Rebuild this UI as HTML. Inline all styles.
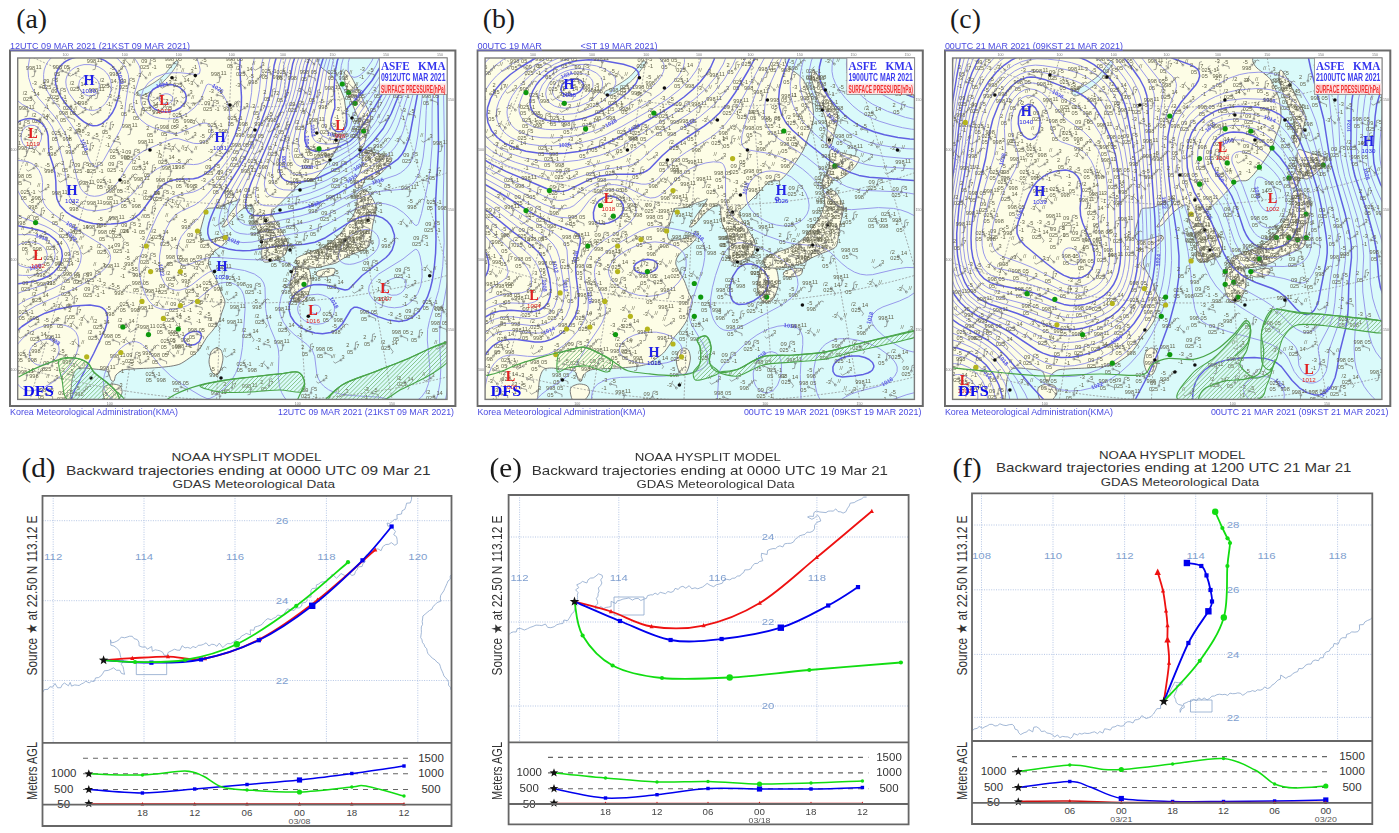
<!DOCTYPE html>
<html><head><meta charset="utf-8"><style>
html,body{margin:0;padding:0;background:#fff;}
body{width:1399px;height:833px;overflow:hidden;}
svg{display:block;font-family:"Liberation Sans",sans-serif;}
.s{font-family:"Liberation Sans",sans-serif;}
.r{font-family:"Liberation Serif",serif;}
</style></head><body>
<svg width="1399" height="833" viewBox="0 0 1399 833">
<rect width="1399" height="833" fill="#fff"/>
<defs>
<filter id="soft" x="-2%" y="-2%" width="104%" height="104%"><feGaussianBlur stdDeviation="0.7"/></filter>
<clipPath id="mapclip"><rect x="17.7" y="58.0" width="429.3" height="341.4"/></clipPath>
<g id="geo">
<rect x="17.7" y="58.0" width="429.3" height="341.4" fill="#fdfde6"/>
<path d="M70.0,401.0C70.1,399.5 70.7,392.8 71.0,390.0C71.3,387.2 71.6,382.3 72.0,380.0C72.4,377.7 73.3,374.5 74.0,373.0C74.7,371.5 75.7,369.7 77.0,369.0C78.3,368.3 81.7,368.0 84.0,368.0C86.3,368.0 91.5,368.7 94.0,369.0C96.5,369.3 101.1,369.6 103.0,370.0C104.9,370.4 106.9,370.7 108.0,372.0C109.1,373.3 110.2,378.8 111.0,380.0C111.8,381.2 113.3,381.7 114.0,381.0C114.7,380.3 114.8,376.5 116.0,375.0C117.2,373.5 120.7,370.8 123.0,370.0C125.3,369.2 130.6,369.2 133.0,369.0C135.4,368.8 138.5,368.6 141.0,368.5C143.5,368.4 148.9,368.2 152.0,368.0C155.1,367.8 161.3,367.3 164.0,367.0C166.7,366.7 169.9,366.4 172.0,366.0C174.1,365.6 177.9,364.9 180.0,364.0C182.1,363.1 185.9,360.5 188.0,359.0C190.1,357.5 194.1,354.9 196.0,353.0C197.9,351.1 200.5,347.1 202.0,345.0C203.5,342.9 205.5,339.0 207.0,337.0C208.5,335.0 211.4,332.1 213.0,330.0C214.6,327.9 217.8,323.4 219.0,321.0C220.2,318.6 221.2,314.5 222.0,312.0C222.8,309.5 225.1,304.7 225.0,302.0C224.9,299.3 222.1,294.8 221.0,292.0C219.9,289.2 218.3,283.9 217.0,281.0C215.7,278.1 212.1,272.3 211.0,270.0C209.9,267.7 208.7,265.5 208.4,264.0C208.1,262.5 208.6,260.2 209.0,259.0C209.4,257.8 210.4,256.2 211.3,255.0C212.2,253.8 214.7,251.2 216.0,250.0C217.3,248.8 219.7,247.8 221.4,246.3C223.1,244.8 228.0,239.9 228.6,238.5C229.2,237.1 227.4,235.6 226.0,235.5C224.6,235.4 220.1,237.4 218.0,238.0C215.9,238.6 212.1,239.7 210.0,240.0C207.9,240.3 203.3,240.7 202.0,240.0C200.7,239.3 200.1,236.6 200.0,235.0C199.9,233.4 200.6,229.8 201.0,228.0C201.4,226.2 202.2,223.7 202.7,221.8C203.2,219.9 204.4,215.7 205.0,214.0C205.6,212.3 205.9,209.6 207.0,208.8C208.1,208.0 211.5,208.2 213.0,208.0C214.5,207.8 217.0,207.8 218.5,207.4C220.0,207.0 222.7,205.6 224.0,205.0C225.3,204.4 227.1,203.5 228.6,203.0C230.1,202.5 233.5,201.5 235.0,201.0C236.5,200.5 239.9,198.3 240.0,199.0C240.1,199.7 237.3,204.0 236.0,206.0C234.7,208.0 231.5,211.9 230.0,214.0C228.5,216.1 226.1,220.3 225.0,222.0C223.9,223.7 221.7,226.6 222.0,227.0C222.3,227.4 225.5,226.2 227.0,225.0C228.5,223.8 231.3,219.9 233.0,218.0C234.7,216.1 238.1,212.6 240.0,211.0C241.9,209.4 245.4,206.8 247.0,206.0C248.6,205.2 251.2,204.6 252.0,205.0C252.8,205.4 252.8,206.6 253.1,209.0C253.4,211.4 253.6,219.8 254.6,223.2C255.6,226.6 259.3,231.7 260.3,234.8C261.3,237.9 261.6,243.2 261.8,246.3C262.0,249.4 261.4,255.7 261.8,257.8C262.2,259.9 263.1,261.7 264.6,262.1C266.1,262.5 270.6,261.7 273.3,260.7C276.0,259.7 282.9,257.2 284.8,254.9C286.7,252.6 288.1,246.5 287.7,243.4C287.3,240.3 283.9,235.4 282.0,231.9C280.1,228.4 274.6,220.2 273.3,217.5C272.0,214.8 271.1,213.4 271.9,211.7C272.7,210.0 276.6,207.0 279.1,204.5C281.6,202.0 287.5,196.1 290.6,193.0C293.7,189.9 299.1,183.1 302.1,181.4C305.1,179.7 310.0,181.9 313.0,180.0C316.0,178.1 321.4,171.3 324.5,167.3C327.6,163.3 333.8,154.2 336.0,150.0C338.2,145.8 339.9,138.9 341.0,136.0C342.1,133.1 343.3,130.1 344.0,128.0C344.7,125.9 345.7,122.1 346.0,120.0C346.3,117.9 346.1,114.1 346.0,112.0C345.9,109.9 345.3,105.9 345.0,104.0C344.7,102.1 344.7,100.1 344.0,98.0C343.3,95.9 341.1,90.4 340.0,88.0C338.9,85.6 337.3,81.9 336.0,80.0C334.7,78.1 331.9,75.6 330.0,74.0C328.1,72.4 323.6,69.6 322.0,68.0C320.4,66.4 318.5,63.6 318.0,62.0C317.5,60.4 318.0,56.8 318.0,56.0L449,56L449,401Z" fill="#dafafa"/>
<path d="M70.0,401.0C70.1,399.5 70.7,392.8 71.0,390.0C71.3,387.2 71.6,382.3 72.0,380.0C72.4,377.7 73.3,374.5 74.0,373.0C74.7,371.5 75.7,369.7 77.0,369.0C78.3,368.3 81.7,368.0 84.0,368.0C86.3,368.0 91.5,368.7 94.0,369.0C96.5,369.3 101.1,369.6 103.0,370.0C104.9,370.4 106.9,370.7 108.0,372.0C109.1,373.3 110.2,378.8 111.0,380.0C111.8,381.2 113.3,381.7 114.0,381.0C114.7,380.3 114.8,376.5 116.0,375.0C117.2,373.5 120.7,370.8 123.0,370.0C125.3,369.2 130.6,369.2 133.0,369.0C135.4,368.8 138.5,368.6 141.0,368.5C143.5,368.4 148.9,368.2 152.0,368.0C155.1,367.8 161.3,367.3 164.0,367.0C166.7,366.7 169.9,366.4 172.0,366.0C174.1,365.6 177.9,364.9 180.0,364.0C182.1,363.1 185.9,360.5 188.0,359.0C190.1,357.5 194.1,354.9 196.0,353.0C197.9,351.1 200.5,347.1 202.0,345.0C203.5,342.9 205.5,339.0 207.0,337.0C208.5,335.0 211.4,332.1 213.0,330.0C214.6,327.9 217.8,323.4 219.0,321.0C220.2,318.6 221.2,314.5 222.0,312.0C222.8,309.5 225.1,304.7 225.0,302.0C224.9,299.3 222.1,294.8 221.0,292.0C219.9,289.2 218.3,283.9 217.0,281.0C215.7,278.1 212.1,272.3 211.0,270.0C209.9,267.7 208.7,265.5 208.4,264.0C208.1,262.5 208.6,260.2 209.0,259.0C209.4,257.8 210.4,256.2 211.3,255.0C212.2,253.8 214.7,251.2 216.0,250.0C217.3,248.8 219.7,247.8 221.4,246.3C223.1,244.8 228.0,239.9 228.6,238.5C229.2,237.1 227.4,235.6 226.0,235.5C224.6,235.4 220.1,237.4 218.0,238.0C215.9,238.6 212.1,239.7 210.0,240.0C207.9,240.3 203.3,240.7 202.0,240.0C200.7,239.3 200.1,236.6 200.0,235.0C199.9,233.4 200.6,229.8 201.0,228.0C201.4,226.2 202.2,223.7 202.7,221.8C203.2,219.9 204.4,215.7 205.0,214.0C205.6,212.3 205.9,209.6 207.0,208.8C208.1,208.0 211.5,208.2 213.0,208.0C214.5,207.8 217.0,207.8 218.5,207.4C220.0,207.0 222.7,205.6 224.0,205.0C225.3,204.4 227.1,203.5 228.6,203.0C230.1,202.5 233.5,201.5 235.0,201.0C236.5,200.5 239.9,198.3 240.0,199.0C240.1,199.7 237.3,204.0 236.0,206.0C234.7,208.0 231.5,211.9 230.0,214.0C228.5,216.1 226.1,220.3 225.0,222.0C223.9,223.7 221.7,226.6 222.0,227.0C222.3,227.4 225.5,226.2 227.0,225.0C228.5,223.8 231.3,219.9 233.0,218.0C234.7,216.1 238.1,212.6 240.0,211.0C241.9,209.4 245.4,206.8 247.0,206.0C248.6,205.2 251.2,204.6 252.0,205.0C252.8,205.4 252.8,206.6 253.1,209.0C253.4,211.4 253.6,219.8 254.6,223.2C255.6,226.6 259.3,231.7 260.3,234.8C261.3,237.9 261.6,243.2 261.8,246.3C262.0,249.4 261.4,255.7 261.8,257.8C262.2,259.9 263.1,261.7 264.6,262.1C266.1,262.5 270.6,261.7 273.3,260.7C276.0,259.7 282.9,257.2 284.8,254.9C286.7,252.6 288.1,246.5 287.7,243.4C287.3,240.3 283.9,235.4 282.0,231.9C280.1,228.4 274.6,220.2 273.3,217.5C272.0,214.8 271.1,213.4 271.9,211.7C272.7,210.0 276.6,207.0 279.1,204.5C281.6,202.0 287.5,196.1 290.6,193.0C293.7,189.9 299.1,183.1 302.1,181.4C305.1,179.7 310.0,181.9 313.0,180.0C316.0,178.1 321.4,171.3 324.5,167.3C327.6,163.3 333.8,154.2 336.0,150.0C338.2,145.8 339.9,138.9 341.0,136.0C342.1,133.1 343.3,130.1 344.0,128.0C344.7,125.9 345.7,122.1 346.0,120.0C346.3,117.9 346.1,114.1 346.0,112.0C345.9,109.9 345.3,105.9 345.0,104.0C344.7,102.1 344.7,100.1 344.0,98.0C343.3,95.9 341.1,90.4 340.0,88.0C338.9,85.6 337.3,81.9 336.0,80.0C334.7,78.1 331.9,75.6 330.0,74.0C328.1,72.4 323.6,69.6 322.0,68.0C320.4,66.4 318.5,63.6 318.0,62.0C317.5,60.4 318.0,56.8 318.0,56.0" fill="none" stroke="#6d6d6d" stroke-width="0.9"/>
<path d="M346.0,70.0C347.1,70.3 350.4,75.3 352.0,78.0C353.6,80.7 356.4,86.8 358.0,90.0C359.6,93.2 362.4,98.8 364.0,102.0C365.6,105.2 369.2,111.3 370.0,114.0C370.8,116.7 370.4,119.5 370.0,122.0C369.6,124.5 367.8,129.9 367.0,133.0C366.2,136.1 364.8,143.0 364.0,145.0C363.2,147.0 361.7,148.7 361.0,148.0C360.3,147.3 359.1,142.7 359.0,140.0C358.9,137.3 360.1,130.9 360.0,128.0C359.9,125.1 358.8,120.7 358.0,118.0C357.2,115.3 355.1,110.7 354.0,108.0C352.9,105.3 351.1,100.9 350.0,98.0C348.9,95.1 346.8,88.9 346.0,86.0C345.2,83.1 344.0,78.1 344.0,76.0C344.0,73.9 344.9,69.7 346.0,70.0Z" fill="#fdfde6" stroke="#6d6d6d" stroke-width="0.9"/>
<path d="M363.0,150.0C364.3,148.3 369.5,151.3 372.0,152.0C374.5,152.7 379.4,154.2 382.0,155.0C384.6,155.8 390.9,156.5 391.7,158.0C392.5,159.5 389.6,163.9 388.0,166.0C386.4,168.1 382.1,172.3 380.0,174.0C377.9,175.7 373.9,178.5 372.0,179.0C370.1,179.5 367.3,177.1 366.0,178.0C364.7,178.9 363.3,184.7 362.0,186.0C360.7,187.3 356.9,188.8 356.0,188.0C355.1,187.2 354.6,181.9 355.0,180.0C355.4,178.1 358.1,176.0 359.0,174.0C359.9,172.0 361.5,168.2 362.0,165.0C362.5,161.8 361.7,151.7 363.0,150.0Z" fill="#fdfde6" stroke="#6d6d6d" stroke-width="0.9"/>
<path d="M357.0,194.0C357.8,192.2 361.4,190.1 363.0,190.0C364.6,189.9 367.3,190.7 369.0,193.0C370.7,195.3 375.5,203.0 376.0,207.0C376.5,211.0 373.7,219.1 373.0,223.0C372.3,226.9 371.5,232.9 371.0,236.0C370.5,239.1 370.1,244.1 369.0,246.0C367.9,247.9 365.1,248.9 363.0,250.0C360.9,251.1 355.5,252.9 353.0,254.0C350.5,255.1 346.3,256.8 344.0,258.0C341.7,259.2 338.1,262.1 336.0,263.0C333.9,263.9 330.1,264.5 328.0,265.0C325.9,265.5 322.3,266.6 320.0,267.0C317.7,267.4 313.5,267.9 311.0,268.0C308.5,268.1 303.0,268.8 301.0,268.0C299.0,267.2 296.5,263.4 296.0,262.0C295.5,260.6 295.6,258.9 297.6,257.5C299.6,256.1 307.2,253.3 311.0,251.8C314.8,250.3 322.4,248.1 326.0,246.0C329.6,243.9 335.4,239.0 338.0,236.4C340.6,233.8 343.6,229.6 345.6,226.8C347.6,224.0 351.8,218.4 353.3,215.3C354.8,212.2 356.6,206.6 357.1,203.8C357.6,201.0 356.2,195.8 357.0,194.0Z" fill="#fdfde6" stroke="#6d6d6d" stroke-width="0.9"/>
<path d="M318.0,271.0C319.6,270.1 325.7,268.8 328.0,268.5C330.3,268.2 334.3,268.1 335.0,269.0C335.7,269.9 334.7,273.9 333.0,275.0C331.3,276.1 324.3,277.0 322.0,277.0C319.7,277.0 316.5,275.8 316.0,275.0C315.5,274.2 316.4,271.9 318.0,271.0Z" fill="#fdfde6" stroke="#6d6d6d" stroke-width="0.9"/>
<path d="M293.7,267.2C294.9,266.3 299.0,267.7 301.0,268.0C303.0,268.3 307.7,267.3 309.0,269.5C310.3,271.7 311.5,280.4 311.0,284.4C310.5,288.4 307.3,297.5 305.2,299.8C303.1,302.1 297.6,303.2 295.6,301.7C293.6,300.2 290.4,291.9 289.9,288.3C289.4,284.7 291.3,277.6 291.8,274.8C292.3,272.0 292.5,268.1 293.7,267.2Z" fill="#fdfde6" stroke="#6d6d6d" stroke-width="0.9"/>
<path d="M216.0,348.0C217.3,347.7 220.1,348.7 221.0,350.0C221.9,351.3 223.0,355.6 223.0,358.0C223.0,360.4 221.8,365.7 221.0,368.0C220.2,370.3 218.2,374.5 217.0,375.0C215.8,375.5 213.1,373.7 212.0,372.0C210.9,370.3 209.1,364.7 209.0,362.0C208.9,359.3 210.1,353.9 211.0,352.0C211.9,350.1 214.7,348.3 216.0,348.0Z" fill="#fdfde6" stroke="#6d6d6d" stroke-width="0.9"/>
<path d="M104.0,387.0C105.2,385.8 109.9,384.1 112.0,384.0C114.1,383.9 118.7,384.8 120.0,386.0C121.3,387.2 122.5,391.0 122.0,393.0C121.5,395.0 118.1,399.9 116.0,401.0C113.9,402.1 107.7,402.1 106.0,401.0C104.3,399.9 103.3,394.9 103.0,393.0C102.7,391.1 102.8,388.2 104.0,387.0Z" fill="#fdfde6" stroke="#6d6d6d" stroke-width="0.9"/>
<path d="M137.0,92.0C137.7,90.9 142.6,89.3 145.0,88.0C147.4,86.7 152.6,83.6 155.0,82.0C157.4,80.4 161.0,77.9 163.0,76.0C165.0,74.1 168.3,70.0 170.0,68.0C171.7,66.0 174.9,61.7 176.0,61.0C177.1,60.3 178.5,61.5 178.0,63.0C177.5,64.5 173.7,69.7 172.0,72.0C170.3,74.3 167.0,78.0 165.0,80.0C163.0,82.0 159.3,85.3 157.0,87.0C154.7,88.7 150.3,91.8 148.0,93.0C145.7,94.2 141.5,96.1 140.0,96.0C138.5,95.9 136.3,93.1 137.0,92.0Z" fill="#dafafa" stroke="#6d6d6d" stroke-width="0.8"/>
<path d="M65.5,58.0L-72.9,399.4M124.7,58.0L30.2,399.4M178.8,58.0L124.5,399.4M231.7,58.0L216.6,399.4M283.0,58.0L306.0,399.4M332.4,58.0L392.1,399.4M386.1,58.0L485.6,399.4M444.0,58.0L586.5,399.4M17.7,49.9L28.4,55.3L39.2,60.4L49.9,65.2L60.6,69.7L71.4,73.9L82.1,77.8L92.8,81.5L103.6,84.9L114.3,88.0L125.0,90.9L135.8,93.5L146.5,95.9L157.2,98.1L168.0,100.0L178.7,101.7L189.4,103.1L200.2,104.4L210.9,105.3L221.6,106.1L232.3,106.6L243.1,106.9L253.8,107.0L264.5,106.8L275.3,106.5L286.0,105.9L296.7,105.0L307.5,104.0L318.2,102.7L328.9,101.2L339.7,99.4L350.4,97.4L361.1,95.2L371.9,92.7L382.6,90.0L393.3,87.0L404.1,83.8L414.8,80.3L425.5,76.5L436.3,72.5L447.0,68.2M17.7,158.0L28.4,162.3L39.2,166.5L49.9,170.4L60.6,174.0L71.4,177.5L82.1,180.7L92.8,183.8L103.6,186.6L114.3,189.2L125.0,191.6L135.8,193.8L146.5,195.8L157.2,197.6L168.0,199.2L178.7,200.6L189.4,201.8L200.2,202.8L210.9,203.6L221.6,204.2L232.3,204.7L243.1,204.9L253.8,205.0L264.5,204.9L275.3,204.6L286.0,204.0L296.7,203.3L307.5,202.5L318.2,201.4L328.9,200.1L339.7,198.6L350.4,197.0L361.1,195.1L371.9,193.0L382.6,190.8L393.3,188.3L404.1,185.6L414.8,182.8L425.5,179.7L436.3,176.4L447.0,172.8M17.7,262.9L28.4,266.6L39.2,270.1L49.9,273.4L60.6,276.5L71.4,279.5L82.1,282.2L92.8,284.8L103.6,287.2L114.3,289.4L125.0,291.5L135.8,293.4L146.5,295.1L157.2,296.6L168.0,298.0L178.7,299.2L189.4,300.2L200.2,301.1L210.9,301.8L221.6,302.3L232.3,302.7L243.1,302.9L253.8,303.0L264.5,302.9L275.3,302.6L286.0,302.2L296.7,301.6L307.5,300.8L318.2,299.9L328.9,298.8L339.7,297.5L350.4,296.1L361.1,294.5L371.9,292.7L382.6,290.8L393.3,288.7L404.1,286.4L414.8,283.9L425.5,281.3L436.3,278.5L447.0,275.5M17.7,366.1L28.4,369.3L39.2,372.3L49.9,375.2L60.6,377.9L71.4,380.4L82.1,382.8L92.8,385.1L103.6,387.2L114.3,389.1L125.0,390.9L135.8,392.5L146.5,394.0L157.2,395.4L168.0,396.6L178.7,397.6L189.4,398.6L200.2,399.3L210.9,399.9L221.6,400.4L232.3,400.8L243.1,401.0L253.8,401.0L264.5,400.9L275.3,400.7L286.0,400.3L296.7,399.8L307.5,399.1L318.2,398.3L328.9,397.3L339.7,396.2L350.4,394.9L361.1,393.5L371.9,392.0L382.6,390.3L393.3,388.5L404.1,386.5L414.8,384.3L425.5,382.0L436.3,379.6L447.0,377.0" stroke="#8a8a8a" stroke-width="0.7" stroke-dasharray="2,1.5" fill="none"/>
</g>
<g id="st0" class="s" font-size="5.6" fill="#62624c"><text x="-8.1" y="-1.7">-3</text><text x="0.6" y="-1.4">-5</text><text x="-8.8" y="5.8">-1</text><path d="M0 0l6.1 1.5l0.3 2.5" stroke="#666" stroke-width="0.6" fill="none"/><circle r="1" fill="none" stroke="#555" stroke-width="0.5"/></g>
<g id="st1" class="s" font-size="5.6" fill="#62624c"><text x="-9.5" y="-1.4">-3</text><text x="2.2" y="-2.3">//</text><path d="M0 0l-4.6 -4.9l1.1 -2.3" stroke="#666" stroke-width="0.6" fill="none"/><circle r="1" fill="none" stroke="#555" stroke-width="0.5"/></g>
<g id="st2" class="s" font-size="5.6" fill="#62624c"><text x="-8.8" y="-1.7">//</text><text x="0.6" y="-0.8">3</text><path d="M0 0l-5.8 3.2l-1.9 -1.6" stroke="#666" stroke-width="0.6" fill="none"/><circle r="1" fill="none" stroke="#555" stroke-width="0.5"/></g>
<g id="st3" class="s" font-size="5.6" fill="#62624c"><text x="-9.4" y="-0.9">025</text><text x="0.7" y="-1.4">-1</text><text x="-9.3" y="5.1">05</text><text x="1.6" y="5.2">998</text><path d="M0 0l-2.7 -5.7l1.7 -1.8" stroke="#666" stroke-width="0.6" fill="none"/><circle r="1" fill="none" stroke="#555" stroke-width="0.5"/></g>
<g id="st4" class="s" font-size="5.6" fill="#62624c"><text x="-9.1" y="-0.7">-5</text><text x="1.1" y="-0.9">//</text><text x="-9.8" y="4.6">998</text><path d="M0 0l5.1 -5.1l2.3 1.0" stroke="#666" stroke-width="0.6" fill="none"/><circle r="1" fill="none" stroke="#555" stroke-width="0.5"/></g>
<g id="st5" class="s" font-size="5.6" fill="#62624c"><text x="-8.8" y="-2.4">2</text><text x="1.3" y="-1.0">7</text><text x="-8.1" y="4.8">05</text><path d="M0 0l0.6 -6.7l2.4 -0.7" stroke="#666" stroke-width="0.6" fill="none"/><circle r="1" fill="none" stroke="#555" stroke-width="0.5"/></g>
<g id="st6" class="s" font-size="5.6" fill="#62624c"><text x="-9.3" y="-1.8">998</text><text x="1.7" y="-1.6">05</text><text x="-8.1" y="4.9">05</text><path d="M0 0l6.6 2.6l-0.0 2.5" stroke="#666" stroke-width="0.6" fill="none"/><circle r="1" fill="none" stroke="#555" stroke-width="0.5"/></g>
<g id="st7" class="s" font-size="5.6" fill="#62624c"><text x="-8.8" y="-1.1">09</text><text x="1.1" y="-1.7">-5</text><text x="-10.0" y="4.9">025</text><text x="1.7" y="5.0">-1</text><path d="M0 0l0.6 -5.4l2.4 -0.6" stroke="#666" stroke-width="0.6" fill="none"/><circle r="1" fill="none" stroke="#555" stroke-width="0.5"/></g>
<g id="st8" class="s" font-size="5.6" fill="#62624c"><text x="-9.2" y="-0.7">998</text><text x="0.7" y="-1.6">11</text><path d="M0 0l-0.9 5.3l-2.5 0.5" stroke="#666" stroke-width="0.6" fill="none"/><circle r="1" fill="none" stroke="#555" stroke-width="0.5"/></g>
<g id="st9" class="s" font-size="5.6" fill="#62624c"><text x="-8.3" y="-1.9">/2</text><text x="2.5" y="-1.1">14</text><text x="-8.1" y="4.3">025</text><path d="M0 0l4.1 5.7l-1.4 2.1" stroke="#666" stroke-width="0.6" fill="none"/><circle r="1" fill="none" stroke="#555" stroke-width="0.5"/></g>
</defs>
<g transform="translate(0.0,0)">
<g clip-path="url(#mapclip)"><g filter="url(#soft)">
<use href="#geo"/>
<path d="M351.1 52l-2.8 10.5 -0.2 7.5 1.4 4.5 1.2 1.5 3.3 1.4 3-0.6 3-1.5 6-5.5 5.9-8.8 3.8-9M345 52l-3.7 13.5 -0.8 7.5 0.1 6 1 6 1.9 4.3 1.8 1.7 2.7 0.9 4.5-1 4.5-2.7 6-5.1 4.5-5 4.5-6 4-6.6 5.7-13.5M336.1 52l-3.1 9.5 -2.2 10 -3.6 28.5 -2.7 16.5 -0.4 6 0.8 4.5 2.5 4.5 4.1 3.1 6 1.5 3-0.3 3-1.1 3-2.1 2.2-2.6 2.1-4.5 2.4-10.5 1.9-4.5 15.4-20.3 7.6-11.2 7.2-13.5 5.2-13.5M332.3 52l-3 9 -2.3 9.2 -4.2 25.3 -4.5 21 -0.7 9 1.4 6 3.7 4.5 5.8 2.8 7.5 1 4.5-0.6 4.5-1.7 4-3 2.5-3 2.4-4.5 5.7-13.5 15.4-22.3 9-15 5.9-12.2 4.4-12M328.7 52l-5 16.5 -5.2 27 -6.2 24 -1.2 9 0.8 7.5 2.6 4.5 2 1.5 3 1.3 7.5 0.9 9-0.6 7.5-2.1 6-3.6 4.5-4.8 9-16.3 13.5-20.5 9-15.4 6.8-13.9 5.5-15M321.8 52l-4.4 13.5 -6.2 28.5 -9.8 31.5 -2.9 13.5 -0.2 7.5 1.7 6.7 3.2 3.8 2.8 1.5 3 0.7 6-0.1 6-1.1 16.5-6.3 12-6.2 4.6-3.5 4.5-4.5 15.2-21 11.7-20.1 11.3-23.4 7.7-21M318.4 52l-4.8 15 -6.7 30 -11.1 33 -3.4 15 -0.4 9 1.4 6 1.8 3 1.8 1.7 3 1.6 3 0.7 6 0.1 6-1 7.5-2.3 7.5-3.1 10.5-5.4 9-5.4 6.5-4.9 6.3-6 6.3-7.5 6.6-9 10.3-17.5 13.5-28.6 4.8-12.4 3.9-12M315 52l-4.8 15 -6.8 30 -12.6 36 -3 10.5 -1.7 9 -0.4 9 1.3 6 1.9 3 2.1 2 3 1.5 3 0.7 7.5 0.1 7.5-1.3 9-3 9-4 10.5-5.7 12-7.9 8-6.4 7.7-7.5 10.7-13.5 9.4-16.5 13.9-31.5 8.8-25.5M308 52l-4.4 13.5 -4.6 22.5 -2.8 10.5 -16.8 45 -4.2 13.5 -2.4 10.5 -0.7 9 1.2 6 1.2 2.2 2.2 2.3 2.5 1.5 4.3 1.3 9 0.4 10.5-1.5 12-3.6 12-5.1 13.5-7.4 13.5-8.9 14.8-11.2 9.8-9 8.5-10.5 3.5-6 3.9-8.2 15-40.9 8-25.9M304.4 52l-4.5 13.5 -4.4 22.5 -3 11.3 -19.2 50.2 -5 15 -2.8 10.5 -1.2 9 1.2 6.8 3 3.9 3 1.7 3 0.9 10.5 0.7 12-1.5 13.5-3.6 13.5-5.3 13.5-7 15-9.3 20.3-14.3 10.7-9 4.1-4.5 4.4-6 3.4-6 3.2-7.5 16.3-51 6-21M300.6 52l-4.4 13.5 -4.6 24 -3.3 12 -24.8 63 -6.9 21 -1.2 7.5 0.7 6 1.5 3 1.6 1.5 4.8 2.1 10.5 0.6 16.5-2 15-3.4 13.5-4.8 13.5-6.4 15-8.6 32.8-21 9.5-7.5 4.1-4.5 3.1-4.5 3.2-6 2.8-7.3 20.8-78.2M292.4 52l-4.2 13.5 -4.7 27 -4.5 14.6 -18 43.6 -19.5 40.8 -4.3 12 -1.1 7.5 0.9 6.1 3 4.7 3 2 3 1.1 6 0.6 9-1.1 39-8.3 13.5-3.8 16.5-7 37.5-19.9 9-3.7 19.5-6.5 4.5-2.3 4.5-3.5 3.1-3.4 2.9-4.6 2.5-5.9 2.2-7.5 2.1-12 4.5-40.5 9.2-43.5M287.9 52l-4 13.5 -4.8 28.5 -5.2 16.5 -16.3 39 -7.1 14.5 -15.6 29 -3.4 7.5 -2.6 7.5 -1.4 9 0.4 4.5 0.9 3 1.6 3 3 3 2.4 1.5 4.2 1.5 7.5 0.8 7.5-0.7 54-11.9 7.5-2.4 9-3.7 28.5-15 13.5-5.9 7.5-2.3 6-1.2 22.5-2 4.5-1.7 4.5-3.4 3-3.8 3.4-6.8 2.6-8.2 1.7-8.3 1.9-16.5 1.1-30 1.2-15 2.5-16.5 5.4-27M12 259.2l4.4 4.3 4.6 2.5 6 1.7 6 0.1 6-1.6 4.3-2.7 3.2-4.5 0.8-4.5 -1.3-4.5 -2.5-3.3 -4.5-3 -6-1.6 -6 0.1 -6 1.5 -6.1 3.3 -2.9 3M396.6 295l3.7-1.5 2-1.5 2.4-3 1.1-3 0.1-3 -0.9-2.6 -1.8-1.9 -2.7-1.1 -4.5 0 -6 2.2 -4.3 3.4 -1.7 3 -0.2 3 0.5 1.5 2.7 3 4.5 1.7 5.1-0.2M318.3 313l1.6-1.5 0.6-1.5 0-1.5 -1-1.8 -1.7-1.2 -2.8-0.5 -2.4 0.5 -2 1.5 -0.7 3 0.6 1.5 1.5 1.3 3 0.9 3.3-0.7M283.1 52l-3.9 13.5 -2.9 21 -1.8 9 -3 10.1 -4.5 12.2 -7.5 18.5 -6.7 14.7 -6.8 13.1 -18.5 31.9 -4.3 9 -3.1 9 -1.1 6 -0.2 4.5 0.8 4.5 1.2 3 2.1 3 3.5 3 7.6 3.3 9 1.3 9-0.5 27-5.8 31.5-5.6 7.5-2.4 7.5-3.2 22.5-12.5 9-4.4 9-3.2 9-1.7 6 0 4.5 0.6 6 1.7 4.5 2 7.3 4.9 4.7 4.5 6 7.1 1.5 1.2 1.5 0.1 1.5-1.9 3-9.9 6-27.8 2.7-16.8 1.8-22.5 0.1-37.5 0.6-13.5 2.1-18 4.4-25.5M12 274.4l10.5 1 7.5 0 6-0.9 6-2 5.2-3 4.6-4.5 2.4-4.5 1-6 -1.4-6 -2.8-4.3 -4.5-4.1 -4.5-2.5 -6-2 -6-1 -18 0.1M401.2 307l6.8-2.8 5.6-4.7 4.1-6 3-7.5 1.4-9 -0.2-10.5 -1.9-10.5 -1.5-4.3 -1.5-2 -1.5-0.3 -1.5 0.8 -11 8.8 -24.3 15 -6.3 6 -3.3 6 -0.5 4.5 1.3 4.5 3.2 4.5 3.7 3 5.7 3 6 1.7 6 0.6 6.7-0.8M322.9 323.5l5.8-3 2.9-3 1.8-3 0.9-3 0.2-4.5 -0.9-3 -1.7-3 -3.1-3 -2.4-1.5 -3.9-1.5 -4.5-0.8 -7.5 0.6 -4.4 1.7 -3.1 2 -3.5 4 -1.7 4.5 -0.1 3 0.7 3 2.6 4.5 3.5 3.1 6 2.8 6 0.9 6.4-0.8M271.7 52l-3.1 12 -2.7 24 -2.3 12 -6.1 19.5 -8.3 21 -5.9 12 -6.3 10.8 -30 43.7 -9 11.7 -12 11.9 -4.6 5.9 -2.8 6 -1.4 6 -0.3 6 1.3 6 1.8 2.8 1.5 1.1 1.5 0.6 3 0.2 3-0.7 15-5.9 7.5-1.1 7.5 0 27 2 30 0.8 9.2 1.7 6.9 3 3 3 0.5 1.5 -0.1 3 -2.3 4.5 -8.2 11.6 -3.8 7.9 -1.8 9 0 4.5 0.9 4.5 3 7.5 4.7 6.5 6 5.8 13.1 10.2 5.3 6 2.3 6 2.2 18 1.6 4.5 2.8 4.5 2.8 3 4.4 3.2 6 2.8 6 1.6 10 1.4 27.5 1.6 24 4.4 6 0.5 7.5-1.2 3-1.5 3-2.3 4.3-6 2.7-7.5 1.1-7.5 0.3-7.5 -2.6-28.5 0.3-10.5 1.9-9 9.1-30 2.4-12 1.7-12 1.4-24 -1-39 1.4-55.5 -0.9-52.5 1.2-19.5 3-24M12 296l9.2-4 22.3-7 7.5-3.3 5.2-3.2 5.5-4.5 4.9-6 2.7-6 0.9-6 -0.7-6 -2.6-6 -4.5-6 -5-4.5 -6.4-4.4 -6-3.1 -23.6-9 -5.2-3 -4.2-3.3M354 263.8l-4.5 0.6 -4.5-0.5 -3-1.4 -2.2-2 -1.3-3 -0.1-3 1.2-4.5 2.3-4.5 6.1-7.5 4.5-3.7 4.5-2.6 4.5-1.6 4.5-0.7 4.5 0.6 3 1.3 3.8 3.7 1.8 4.5 0 4.5 -1.6 4.5 -3.4 4.5 -5.5 4.5 -7.1 3.8 -7.5 2.5M264.6 52l-2.9 12 -2.2 25.5 -2.4 13.5 -6.6 22.3 -7.5 18.4 -6 11.2 -7.5 11.5 -12 15.8 -10.5 12.5 -6 5.8 -6 4.4 -13.5 6.2 -4.5 2.6 -3 2.6 -3.1 3.7 -4.8 9 -4.2 13.5 -2.3 13.5 -0.1 12 1.8 9 3.7 7.3 4.5 4 6 1.9 4.5-0.1 6-1.8 6-3.6 10.5-8.3 5.9-3.9 6.1-2.7 6-1.3 10.5-0.2 13.5 2.2 9.9 3.5 6.4 4.5 2.9 4.5 1.3 4.5 0.6 21 1.7 10.5 2.7 8.4 6.6 15.6 1.7 6 0.6 7.5 -0.7 19.5 1.3 10.5 2.1 6 2.5 4.5 3.8 4.5 5.3 4.5M433.5 406l4.5-11.9 2.1-12.1 0.7-13.5 -1.2-28.5 0.3-13.5 1.6-12 6.3-34.5 2.5-24 0.2-16.5 -1.2-42 0.9-54 -1.1-49.5 0.9-19.5 2.4-22.5M12 308.9l13.5-8.7 28.5-12.3 7.5-4 5.6-3.9 6.5-6 4.4-6 2.5-6 0.8-6 -0.7-4.5 -1.7-4.5 -2.7-4.5 -3.7-4.5 -5-4.7 -7.5-5.8 -23-13.5 -8.2-6 -4.9-6 -6.5-12 -5.4-5.7M255.5 52l-2.6 13.5 -1.3 27 -2.5 16.5 -5.7 21 -3.6 9 -4.3 8.8 -6 9.8 -7.5 10.1 -9 10.2 -9 8.3 -4.5 3.1 -6 2.7 -15 3 -4.5 1.5 -4.5 2.7 -4.5 4.3 -4.3 6 -4 7.5 -11.9 27 -4.5 12 -1.4 9 0.2 6 1.6 9 2.5 9 3.1 7.5 2.7 4.5 4 4.2 3 2 4.5 1.6 6 0.8 7.5-0.4 7.5-1.5 6-2.2 9-5.3 16.5-13.6 7.5-3.6 6-0.7 4.5 0.5 4.5 1.8 3.8 2.9 2.3 3 2 4.5 1.2 6 0.3 7.5 -2.7 39 -1.7 10.5 -2.5 9 -2.7 6.5 -3 5.2 -7.5 9.1 -10.5 8.4 -4.5 2.2 -3 0.2 -6-2.7 -12-7.1 -9-5.9 -9-6.8 -10.5-10.1 -13.5-16.8 -4.5-4.5 -3-1.9 -3-1 -3-0.2 -3 0.6 -4.5 2 -4.5 3.3 -4.5 4.4 -3.7 4.6 -3.8 6 -2.9 6 -2.1 6 -1.1 6 0.5 7.5 1.9 4.5 2.2 3 6 4.8 11.4 5.7M169.7 103l2.1-1.5 1-1.5 -0.2-3 -1.6-1.8 -3-1.3 -3-0.1 -3 1 -2.4 2.2 -0.4 3 0.9 1.5 1.9 1.5 4.5 0.7 3.2-0.7M33.3 148l4.2-2.6 2.6-3.4 1.2-3 0.3-4.5 -1.5-4.5 -2.6-2.9 -3-1.6 -4.5-0.3 -4.4 1.8 -2.8 3 -1.6 4.5 0 4.5 1.7 4.5 2.6 3 1.5 1.1 3 0.9 3.3-0.5M12 322.1l13.5-10.2 10.5-6.3 36-15.8 10.2-5.3 10-6 8.5-6 4.9-4.5 4.1-6 0.9-4.5 -0.5-3 -1.3-3 -2.4-3 -3.4-3 -41.2-25.5 -8.4-6 -6.5-6 -2.9-4.5 -1.5-4.5 -0.4-4.5 0.5-12 -0.9-6 -2.6-6 -3.1-3.8 -4.5-3.4 -4.5-1.8 -15-1.9M443.9 406l2.8-12 1.5-12 0.5-13.5 -0.6-28.5 0.3-13.5 1.2-13.5 3.4-24.5M198.2 406l7.3-3.3 3-0.6 4.5 1.6 4 2.3M193.8 52l3.5 7.5 2 6 0.9 4.5 -0.7 3.6 -3 0.9 -16.5-1.8 -9 0.1 -7.5 1.3 -7.5 2.9 -7.5 5.6 -5.1 6.9 -2.5 7.5 0 4.5 0.6 3 2.2 4.5 2.6 3 3.7 2.7 4.5 2.1 6 1.6 6 0.6 6-0.3 6-1.3 8.7-3.9 7.5-6 3.8-4.5 2.7-4.5 5.4-13.5 1.9-0.9 3 0.8 6 4 6 6.7 3.2 5.9 2.4 7.5 0.8 7.5 -0.6 9 -2.3 9 -3.5 7.7 -4.5 6.9 -4.5 5.2 -6 5.1 -6 3.3 -4.5 1.4 -4.5 0.5 -15-1.2 -7.5 0.3 -7.5 2.1 -6 2.9 -4.8 3.3 -5.1 4.5 -14.2 16.5 -7.4 6.9 -9 5.6 -10.5 3.8 -10.5 1.5 -9-0.9 -7.5-2.7 -3.5-2.2 -3.2-3 -3-4.5 -1.7-4.5 -3.3-22.5 -2.1-10.5 -6.7-24 -3.8-9 -4.1-6 -4.6-4.5 -6-4.1 -15.1-7.9 -5.7-4.5 -4.7-4.9M12 357.9l1.6-5.9 2.1-4.5 2.9-4.5 3.9-4.5 4.5-3.9 5.3-3.6 5.2-2.7 6-2.2 6-1.4 6-0.5 6 0.4 4.5 1.1 4.5 1.9 3 2.1 2.5 2.8 2 4.4 0.7 6.1 -0.8 6 -2.6 7.5 -4.1 7.5 -5.2 6.7 -6 6 -7.5 5.8 -7.5 4.3 -6 2.5 -6 1.4 -4.5 0 -4.6-1.2 -4.4-3.2 -3-4 -2.9-6.3 -1.6-6.2M127.7 52l4.9 4.5 3.9 4.5 2.6 4.5 1 3 0.1 6 -5.5 18 -1.2 9 0.6 6 1.4 4.5 2.5 4.5 3 3.6 6 4.6 6 2.9 13.5 4.6 7.5 1.6 3-0.3 4.5-1.5 18-8 4.5-1 3 0.3 3 1.9 1 1.8 0.6 3 -0.5 3 -1.2 3 -2.9 3.8 -3 2.2 -3 1.1 -3 0.5 -4.5-0.3 -15-4.6 -4.5-0.2 -9 3 -21 9.2 -6 3.9 -6 5.8 -4.5 6.3 -8.7 14.3 -6.4 7.5 -4.4 3.4 -4.5 2.4 -4.5 1.5 -4.5 0.5 -4.5-0.6 -3.1-1.2 -2.9-1.9 -3.4-4.1 -3.4-9 -7.2-33 -5-13.5 -7.1-12 -5.4-6.9 -13.7-15.6 -4.2-6 -3.2-6 -2.8-9 -0.7-9 1.5-9 3.3-7.5M46.5 364.5l-6 0.8 -3-0.5 -3-1.3 -4-4 -1.1-3 -0.2-3 0.6-3 1.5-3 4.3-4.5 6.4-3.1 6-0.8 4.5 0.9 4.5 3 1.7 3 0.5 4.5 -1.4 4.5 -2.3 3.6 -4.5 3.8 -4.5 2.1M106.9 52l5.6 2.9 4.4 3.1 7.2 7.5 2.6 4.5 1.6 4.5 0.5 4.5 -0.1 4.5 -2.9 18 -1.7 16.5 -1.8 7.5 -2.8 6 -16 29 -4.5 5.1 -3 1 -3-1.3 -3-3.9 -8.3-19.4 -4.8-9 -7-10.5 -18.3-24 -4.3-7.5 -2.3-6 -1.3-6 -0.1-4.5 0.6-4.5 1.6-4.5 2.2-3.9 3-3.6 3.7-3 5.2-3M97.5 109.4l-3 0.9 -4.5 0 -3-0.7 -4.5-2 -7.5-6 -6-8.2 -2.7-6.9 -0.5-4.5 0.3-3 0.9-3 2-3.5 2.3-2.5 3.7-2.6 4.5-1.8 4.5-1 6 0 4.5 0.8 4.5 1.7 4.5 2.8 3 2.9 2.3 3.2 1.8 4.5 0.7 4.5 -0.3 5.3 -1.4 5.2 -2 4.5 -2.6 3.7 -3 3 -4.5 2.7M93 95.6l-4.5 0.3 -3-1 -3.2-2.4 -2.8-4.2 -0.8-3.3 0.8-4.3 1.5-2.1 3-2.1 4.5-0.9 4.5 1 3.5 2.4 2.1 3 0.8 3 -0.5 4.5 -2.9 4.4 -3 1.7" stroke="#9494ea" stroke-width="0.95" fill="none" stroke-linejoin="round"/>
<path d="M340.3 52l-3 9 -2.1 10.5 -1 15 0.7 21 -3.4 10.8 -0.6 4.2 0.3 3 1.8 3.5 3 2.2 3 0.5 1.7-0.2 2.8-1.4 1.5-1.6 1.5-3 0.5-4.5 -0.7-9 1.5-4.5 15.2-15.8 9-11.2 9-15 5.4-13.5M325.2 52l-4.7 15 -5.6 27 -7.8 27 -2.3 12 0 7.5 2 6 3.7 3.4 4.5 1.3 9-0.6 16.5-4.4 9-4.6 6.1-5.6 19.4-29.5 10.5-18 9.1-18.5 6.6-18M311.5 52l-4.4 13.5 -7.1 31.5 -15.1 42 -3.5 12 -1.8 9 -0.5 9 1.4 6.2 1.8 2.8 2.7 2.3 6 2.1 7.5 0.2 10.5-1.9 10.5-3.5 10.5-4.8 12-6.8 12-8.1 10.5-8.3 9.1-8.7 9.6-12 8.1-15 14.6-36 8.3-25.5M296.6 52l-3.9 12 -4.7 25.5 -3.8 13.5 -17.2 42.7 -15.7 36.8 -4.3 12 -1.4 7.5 0.4 6 2.5 4.5 2 1.5 3 1.2 4.5 0.5 6-0.2 19.5-3.1 18-3.7 15-4.7 10.5-4.6 12-6.2 28.5-16.5 21-10.8 9-6.5 4.5-5.2 2.8-4.7 4.6-12 7.9-42 10.5-43.5M277.7 52l-3.6 13.5 -2.6 21 -1.6 9 -3 10.5 -5.9 16.5 -7.5 18.2 -7.5 15.3 -7.5 12.8 -15.3 24.2 -8.3 15 -3.9 9 -2 6 -1.2 6 0 4.5 1.3 4.5 2.1 3 3.6 3 5.7 2.7 7.5 2.2 7.5 1.3 7.5 0.5 7.5-0.3 28.5-4.3 25.5-1.9 10.5-2 10.5-4.5 25.5-16.5 7.5-3.4 6-1.8 6-0.7 6 0.5 6 2.1 4.5 3.2 3 3.3 1.9 3.1 2.5 7.5 0.1 7.5 -2.4 7.5 -3.2 4.5 -2.9 3 -23.9 18 -12.6 13.1 -1.5 0.8 -3 0.6 -19.5-5.1 -6-0.5 -6 0.4 -6 1.5 -6 2.8 -5.9 4.4 -3.6 4.5 -2.5 6 -0.5 6 1.6 6 3.8 6 5.6 4.9 6 3.3 9 2.8 7.5 0.7 8.1-1.2 3.9-1.6 3-2 5.1-5.4 8.4-14 3-2.2 3-0.1 3 0.9 18 8.5 10.5 3.5 10.5 1.4 7.5-1.2 6-3.1 6-5.4 4.6-6.3 4.4-8.6 2.7-7.9 2.2-9 1.8-12 1.4-15 0.4-13.5 -0.5-36 3-55.5 -0.5-51 1.6-19.5 3.8-25.5M12 284.8l24-3.9 6-1.9 6-2.7 6-4.2 4.5-5 2.7-5.1 1.1-6 -0.7-6 -2.8-6 -3.7-4.5 -5.6-4.5 -6-3.2 -6-2.1 -19.5-4 -6-1.8M241.5 52l-1.3 7.5 -0.5 7.5 1.8 30 -0.2 9 -1 9 -1.8 9.3 -3.2 10.2 -4 9 -4.8 8.2 -6 8 -6 6.6 -6 5.3 -6 4 -4.5 2.1 -4.5 1.1 -15 0.5 -6 0.9 -4.5 1.6 -4.5 2.7 -7.5 7.2 -12 16.8 -4.5 5.3 -6 4.9 -6 2.7 -7.5 1.8 -9 0.9 -9 0.1 -9-0.8 -7.5-1.6 -7.5-2.8 -6.7-3.5 -5.3-3.7 -6-6.3 -3-6.5 -0.9-6 -0.3-12 -0.8-7.5 -1.7-7.5 -4.4-13.5 -0.8-16.5 -1.1-4.5 -2.1-4.5 -2.9-3.4 -3-2.4 -4.5-1.9 -4.5-0.8 -4.5 0.4 -4.5 1.5 -3.8 2.1 -5.2 3.8M167.8 112l7.3-1.5 5.5-3 4.1-4.5 1.3-3 0.3-3 -0.7-3 -1.1-2.1 -4.5-4.2 -3-1.6 -4.5-1.3 -7.5-0.3 -6 1.4 -6 3.6 -3.5 4.5 -1 3 -0.1 3 1.6 4.7 4.5 4.3 6 2.4 7.3 0.6M12 335l9.9-8.5 11.1-7.3 12-6 12-4 16.5-3.1 16.5-1 9 1.3 3 1.3 3 2.5 1.7 2.8 0.9 4.5 -0.7 6 -1.9 6 -11.3 24 -18.8 36 -3.6 9 -2 7.5M195 344.6l-4.5 0.7 -3.1-0.8 -3.2-3 -0.5-3 1.5-3 3.8-2.6 4.5-1.5 4.5 0.1 2.1 1 0.9 1.2 0.4 3.3 -2.1 4.5 -4.3 3.1M452.1 406l0.9-4.9M97.5 125.5l-4.5 0.3 -4.5-1.3 -4.5-2.6 -4.5-3.5 -7.5-7.3 -6-6.9 -5.1-7.2 -3.1-6 -1.9-6 -0.6-4.5 0.3-4.5 1.3-4.5 2.6-4.5 2.8-3 3.7-2.8 4.5-2.3 6-1.9 7.5-1 7.5 0.3 7.5 1.7 6 2.6 6 4.2 4.5 4.9 2.7 4.8 1.7 6 0.1 7.5 -1.5 9 -3 9.3 -3 6.2 -4.5 6 -6 5.1 -4.5 1.9" stroke="#6060e2" stroke-width="1.5" fill="none" stroke-linejoin="round"/>
<g class="s" font-size="5.6" font-weight="bold" fill="#5555e4" text-anchor="middle"><text transform="translate(359.9,96.7) rotate(-46)">1000</text><text transform="translate(332.6,136.7) rotate(13)">1002</text><text transform="translate(311.1,130.6) rotate(84)">1004</text><text transform="translate(304.8,141.5) rotate(90)">1004</text><text transform="translate(307.0,168.9) rotate(1)">1008</text><text transform="translate(285.7,162.0) rotate(-87)">1008</text><text transform="translate(360.1,167.7) rotate(-35)">1012</text><text transform="translate(352.7,179.8) rotate(-33)">1014</text><text transform="translate(314.4,206.4) rotate(-18)">1016</text><text transform="translate(378.3,182.9) rotate(-18)">1016</text><text transform="translate(35.8,268.9) rotate(-15)">1018</text><text transform="translate(232.8,242.6) rotate(23)">1018</text><text transform="translate(41.0,239.1) rotate(19)">1018</text><text transform="translate(332.4,303.6) rotate(60)">1018</text><text transform="translate(159.7,270.5) rotate(79)">1022</text><text transform="translate(70.3,237.7) rotate(44)">1022</text><text transform="translate(70.7,227.3) rotate(32)">1024</text><text transform="translate(162.4,86.9) rotate(-13)">1024</text><text transform="translate(216.7,90.1) rotate(34)">1026</text><text transform="translate(53.3,342.3) rotate(34)">1028</text><text transform="translate(82.5,145.6) rotate(67)">1028</text><text transform="translate(118.8,78.5) rotate(74)">1030</text></g>
<use href="#st1" x="79" y="346"/><use href="#st7" x="130" y="228"/><use href="#st3" x="222" y="189"/><use href="#st6" x="62" y="71"/><use href="#st0" x="205" y="317"/><use href="#st3" x="316" y="151"/><use href="#st5" x="272" y="96"/><use href="#st8" x="35" y="71"/><use href="#st3" x="26" y="357"/><use href="#st7" x="168" y="289"/><use href="#st8" x="147" y="311"/><use href="#st7" x="150" y="259"/><use href="#st3" x="271" y="74"/><use href="#st8" x="334" y="91"/><use href="#st6" x="68" y="117"/><use href="#st7" x="179" y="307"/><use href="#st9" x="40" y="298"/><use href="#st2" x="273" y="194"/><use href="#st0" x="93" y="138"/><use href="#st8" x="348" y="243"/><use href="#st9" x="120" y="234"/><use href="#st0" x="301" y="266"/><use href="#st8" x="184" y="349"/><use href="#st8" x="364" y="236"/><use href="#st6" x="197" y="334"/><use href="#st9" x="168" y="242"/><use href="#st8" x="98" y="93"/><use href="#st1" x="130" y="344"/><use href="#st3" x="28" y="315"/><use href="#st2" x="136" y="329"/><use href="#st2" x="168" y="85"/><use href="#st4" x="300" y="279"/><use href="#st7" x="214" y="170"/><use href="#st5" x="70" y="167"/><use href="#st1" x="200" y="125"/><use href="#st3" x="129" y="307"/><use href="#st2" x="190" y="74"/><use href="#st9" x="244" y="72"/><use href="#st0" x="75" y="133"/><use href="#st4" x="152" y="350"/><use href="#st2" x="89" y="251"/><use href="#st9" x="38" y="337"/><use href="#st3" x="286" y="75"/><use href="#st6" x="169" y="131"/><use href="#st6" x="272" y="227"/><use href="#st5" x="147" y="229"/><use href="#st5" x="141" y="115"/><use href="#st4" x="79" y="206"/><use href="#st9" x="166" y="160"/><use href="#st2" x="194" y="189"/><use href="#st9" x="372" y="176"/><use href="#st9" x="54" y="246"/><use href="#st4" x="57" y="151"/><use href="#st0" x="216" y="155"/><use href="#st1" x="306" y="93"/><use href="#st9" x="101" y="325"/><use href="#st2" x="200" y="101"/><use href="#st1" x="310" y="115"/><use href="#st7" x="368" y="246"/><use href="#st5" x="155" y="132"/><use href="#st8" x="113" y="269"/><use href="#st5" x="110" y="129"/><use href="#st5" x="152" y="172"/><use href="#st9" x="65" y="267"/><use href="#st3" x="61" y="136"/><use href="#st1" x="192" y="152"/><use href="#st2" x="174" y="219"/><use href="#st5" x="65" y="323"/><use href="#st2" x="55" y="380"/><use href="#st2" x="98" y="112"/><use href="#st9" x="67" y="234"/><use href="#st2" x="146" y="361"/><use href="#st0" x="148" y="242"/><use href="#st7" x="129" y="84"/><use href="#st0" x="165" y="148"/><use href="#st9" x="315" y="256"/><use href="#st4" x="75" y="149"/><use href="#st0" x="281" y="140"/><use href="#st7" x="97" y="168"/><use href="#st7" x="117" y="167"/><use href="#st4" x="165" y="267"/><use href="#st8" x="295" y="186"/><use href="#st8" x="154" y="294"/><use href="#st1" x="334" y="261"/><use href="#st4" x="264" y="121"/><use href="#st1" x="65" y="309"/><use href="#st7" x="301" y="297"/><use href="#st8" x="112" y="206"/><use href="#st8" x="147" y="145"/><use href="#st7" x="24" y="126"/><use href="#st2" x="374" y="212"/><use href="#st0" x="142" y="98"/><use href="#st9" x="80" y="230"/><use href="#st5" x="363" y="208"/><use href="#st5" x="74" y="303"/><use href="#st9" x="151" y="196"/><use href="#st0" x="182" y="130"/><use href="#st7" x="330" y="129"/><use href="#st3" x="212" y="286"/><use href="#st6" x="174" y="63"/><use href="#st2" x="31" y="304"/><use href="#st4" x="278" y="179"/><use href="#st7" x="312" y="164"/><use href="#st8" x="220" y="77"/><use href="#st7" x="52" y="84"/><use href="#st2" x="30" y="232"/><use href="#st8" x="54" y="340"/><use href="#st4" x="258" y="79"/><use href="#st9" x="367" y="152"/><use href="#st4" x="191" y="224"/><use href="#st6" x="285" y="168"/><use href="#st2" x="267" y="257"/><use href="#st2" x="245" y="108"/><use href="#st9" x="302" y="154"/><use href="#st3" x="182" y="118"/><use href="#st7" x="253" y="193"/><use href="#st0" x="343" y="113"/><use href="#st8" x="28" y="111"/><use href="#st2" x="46" y="189"/><use href="#st4" x="56" y="280"/><use href="#st1" x="40" y="154"/><use href="#st4" x="233" y="106"/><use href="#st0" x="293" y="143"/><use href="#st8" x="96" y="206"/><use href="#st1" x="53" y="121"/><use href="#st5" x="366" y="219"/><use href="#st2" x="76" y="73"/><use href="#st4" x="334" y="152"/><use href="#st1" x="77" y="328"/><use href="#st6" x="384" y="164"/><use href="#st8" x="109" y="371"/><use href="#st8" x="88" y="186"/><use href="#st8" x="149" y="330"/><use href="#st8" x="171" y="171"/><use href="#st0" x="196" y="306"/><use href="#st9" x="108" y="84"/><use href="#st1" x="245" y="88"/><use href="#st7" x="205" y="260"/><use href="#st8" x="131" y="129"/><use href="#st1" x="314" y="64"/><use href="#st7" x="213" y="106"/><use href="#st0" x="178" y="197"/><use href="#st7" x="226" y="175"/><use href="#st2" x="83" y="112"/><use href="#st6" x="113" y="340"/><use href="#st4" x="119" y="71"/><use href="#st1" x="88" y="322"/><use href="#st7" x="134" y="155"/><use href="#st1" x="42" y="134"/><use href="#st9" x="233" y="194"/><use href="#st6" x="107" y="236"/><use href="#st4" x="46" y="272"/><use href="#st3" x="119" y="154"/><use href="#st9" x="105" y="250"/><use href="#st4" x="72" y="359"/><use href="#st4" x="260" y="231"/><use href="#st0" x="201" y="63"/><use href="#st4" x="115" y="311"/><use href="#st4" x="162" y="109"/><use href="#st1" x="265" y="178"/><use href="#st4" x="124" y="290"/><use href="#st4" x="328" y="104"/><use href="#st9" x="193" y="289"/><use href="#st9" x="150" y="107"/><use href="#st3" x="237" y="121"/><use href="#st9" x="78" y="87"/><use href="#st9" x="276" y="152"/><use href="#st2" x="26" y="335"/><use href="#st1" x="183" y="250"/><use href="#st9" x="216" y="323"/><use href="#st0" x="217" y="95"/><use href="#st5" x="270" y="240"/><use href="#st5" x="285" y="97"/><use href="#st0" x="129" y="272"/><use href="#st3" x="166" y="329"/><use href="#st8" x="46" y="287"/><use href="#st7" x="95" y="277"/><use href="#st7" x="73" y="257"/><use href="#st9" x="208" y="244"/><use href="#st2" x="229" y="151"/><use href="#st3" x="30" y="195"/><use href="#st3" x="302" y="177"/><use href="#st0" x="114" y="141"/><use href="#st6" x="72" y="278"/><use href="#st7" x="60" y="94"/><use href="#st0" x="41" y="236"/><use href="#st2" x="219" y="304"/><use href="#st4" x="130" y="179"/><use href="#st2" x="261" y="67"/><use href="#st3" x="284" y="244"/><use href="#st1" x="77" y="242"/><use href="#st7" x="240" y="162"/><use href="#st6" x="256" y="140"/><use href="#st6" x="309" y="76"/><use href="#st8" x="95" y="230"/><use href="#st3" x="185" y="183"/><use href="#st1" x="174" y="356"/><use href="#st8" x="61" y="196"/><use href="#st9" x="224" y="205"/><use href="#st8" x="250" y="174"/><use href="#st4" x="54" y="168"/><use href="#st0" x="209" y="184"/><use href="#st2" x="34" y="168"/><use href="#st9" x="71" y="106"/><use href="#st8" x="119" y="359"/><use href="#st4" x="245" y="132"/><use href="#st3" x="53" y="261"/><use href="#st9" x="31" y="97"/><use href="#st5" x="205" y="299"/><use href="#st4" x="277" y="117"/><use href="#st5" x="41" y="215"/><use href="#st1" x="184" y="209"/><use href="#st8" x="318" y="123"/><use href="#st1" x="146" y="78"/><use href="#st4" x="258" y="219"/><use href="#st7" x="123" y="248"/><use href="#st4" x="209" y="139"/><use href="#st9" x="173" y="318"/><use href="#st1" x="139" y="220"/><use href="#st1" x="172" y="207"/><use href="#st5" x="354" y="92"/><use href="#st1" x="198" y="86"/><use href="#st0" x="109" y="288"/><use href="#st9" x="223" y="237"/><use href="#st9" x="251" y="205"/><use href="#st9" x="126" y="324"/><use href="#st6" x="175" y="261"/><use href="#st0" x="185" y="321"/><use href="#st6" x="323" y="160"/><use href="#st6" x="24" y="180"/><use href="#st7" x="298" y="107"/><use href="#st5" x="261" y="110"/><use href="#st3" x="217" y="128"/><use href="#st7" x="31" y="286"/><use href="#st4" x="41" y="348"/><use href="#st5" x="198" y="350"/><use href="#st3" x="170" y="344"/><use href="#st6" x="188" y="264"/><use href="#st5" x="317" y="97"/><use href="#st7" x="67" y="396"/><use href="#st8" x="27" y="151"/><use href="#st9" x="69" y="292"/><use href="#st9" x="40" y="119"/><use href="#st3" x="257" y="164"/><use href="#st2" x="260" y="151"/><use href="#st6" x="46" y="394"/><use href="#st0" x="364" y="124"/><use href="#st2" x="366" y="135"/><use href="#st2" x="215" y="352"/><use href="#st5" x="286" y="129"/><use href="#st9" x="174" y="277"/><use href="#st1" x="179" y="151"/><use href="#st2" x="34" y="257"/><use href="#st9" x="181" y="83"/><use href="#st0" x="40" y="87"/><use href="#st5" x="60" y="220"/><use href="#st7" x="150" y="64"/><use href="#st2" x="119" y="388"/><use href="#st2" x="185" y="298"/><use href="#st0" x="324" y="248"/><use href="#st2" x="35" y="275"/><use href="#st8" x="118" y="221"/><use href="#st1" x="80" y="368"/><use href="#st6" x="241" y="149"/><use href="#st6" x="115" y="195"/><use href="#st9" x="96" y="336"/><use href="#st2" x="193" y="137"/><use href="#st7" x="93" y="292"/><use href="#st8" x="96" y="64"/><use href="#st4" x="38" y="204"/><use href="#st8" x="143" y="182"/><use href="#st0" x="115" y="100"/><use href="#st1" x="134" y="191"/><use href="#st2" x="52" y="308"/><use href="#st4" x="321" y="276"/><use href="#st8" x="27" y="375"/><use href="#st4" x="39" y="373"/><use href="#st1" x="130" y="65"/><use href="#st0" x="68" y="374"/><use href="#st5" x="129" y="111"/><use href="#st0" x="59" y="354"/><use href="#st9" x="336" y="246"/><use href="#st1" x="354" y="216"/><use href="#st4" x="88" y="100"/><use href="#st5" x="174" y="105"/><use href="#st1" x="203" y="271"/><use href="#st2" x="189" y="95"/><use href="#st9" x="140" y="166"/><use href="#st5" x="90" y="150"/><use href="#st2" x="36" y="324"/><use href="#st6" x="235" y="63"/><use href="#st2" x="275" y="129"/><use href="#st9" x="303" y="126"/><use href="#st6" x="165" y="184"/><use href="#st2" x="102" y="268"/><use href="#st4" x="107" y="222"/><use href="#st4" x="134" y="261"/><use href="#st0" x="128" y="367"/><use href="#st5" x="77" y="314"/><use href="#st0" x="25" y="139"/><use href="#st9" x="160" y="235"/><use href="#st7" x="196" y="238"/><use href="#st1" x="163" y="307"/><use href="#st0" x="53" y="103"/><use href="#st4" x="219" y="372"/><use href="#st1" x="190" y="108"/><use href="#st6" x="141" y="287"/><use href="#st5" x="152" y="213"/><use href="#st4" x="142" y="272"/><use href="#st4" x="26" y="220"/><use href="#st3" x="106" y="184"/><use href="#st4" x="185" y="164"/><use href="#st1" x="274" y="164"/><use href="#st6" x="160" y="359"/><use href="#st7" x="83" y="279"/><use href="#st4" x="191" y="278"/><use href="#st3" x="179" y="337"/><use href="#st7" x="163" y="196"/><use href="#st7" x="135" y="358"/><use href="#st2" x="66" y="179"/><use href="#st4" x="85" y="128"/><use href="#st2" x="158" y="98"/><use href="#st4" x="112" y="397"/><use href="#st7" x="52" y="366"/><use href="#st1" x="326" y="143"/><use href="#st4" x="53" y="323"/><use href="#st7" x="83" y="168"/><use href="#st3" x="31" y="246"/><use href="#st4" x="291" y="289"/><use href="#st3" x="130" y="203"/><use href="#st4" x="391" y="243"/><use href="#st3" x="337" y="75"/><use href="#st2" x="360" y="290"/><use href="#st6" x="325" y="353"/><use href="#st7" x="255" y="289"/><use href="#st6" x="431" y="100"/><use href="#st8" x="410" y="191"/><use href="#st3" x="432" y="305"/><use href="#st9" x="405" y="382"/><use href="#st0" x="409" y="114"/><use href="#st6" x="181" y="387"/><use href="#st8" x="284" y="312"/><use href="#st7" x="422" y="241"/><use href="#st7" x="404" y="273"/><use href="#st7" x="434" y="227"/><use href="#st6" x="423" y="71"/><use href="#st0" x="306" y="331"/><use href="#st2" x="431" y="378"/><use href="#st0" x="411" y="300"/><use href="#st6" x="401" y="336"/><use href="#st7" x="412" y="158"/><use href="#st4" x="341" y="329"/><use href="#st7" x="341" y="167"/><use href="#st5" x="318" y="231"/><use href="#st2" x="352" y="196"/><use href="#st5" x="388" y="80"/><use href="#st8" x="225" y="270"/><use href="#st7" x="403" y="93"/><use href="#st9" x="434" y="396"/><use href="#st7" x="311" y="393"/><use href="#st5" x="232" y="388"/><use href="#st8" x="283" y="345"/><use href="#st9" x="389" y="346"/><use href="#st3" x="246" y="367"/><use href="#st3" x="155" y="377"/><use href="#st0" x="396" y="318"/><use href="#st0" x="368" y="73"/><use href="#st8" x="220" y="396"/><use href="#st2" x="324" y="380"/><use href="#st4" x="417" y="204"/><use href="#st1" x="219" y="256"/><use href="#st2" x="341" y="360"/><use href="#st9" x="294" y="225"/><use href="#st1" x="431" y="272"/><use href="#st2" x="443" y="346"/><use href="#st2" x="234" y="297"/><use href="#st7" x="341" y="183"/><use href="#st1" x="407" y="226"/><use href="#st8" x="236" y="325"/><use href="#st1" x="268" y="368"/><use href="#st0" x="372" y="393"/><use href="#st0" x="238" y="219"/><use href="#st9" x="263" y="320"/><use href="#st0" x="385" y="189"/><use href="#st8" x="442" y="146"/><use href="#st5" x="419" y="337"/><use href="#st5" x="382" y="93"/><use href="#st2" x="221" y="223"/><use href="#st4" x="84" y="391"/><use href="#st2" x="413" y="285"/><use href="#st4" x="262" y="304"/><use href="#st2" x="232" y="354"/><use href="#st5" x="304" y="240"/><use href="#st6" x="369" y="316"/><use href="#st1" x="404" y="143"/><use href="#st9" x="405" y="78"/><use href="#st2" x="386" y="120"/><use href="#st8" x="335" y="200"/><use href="#st0" x="384" y="285"/><use href="#st7" x="330" y="216"/><use href="#st3" x="436" y="205"/><use href="#st5" x="269" y="386"/><use href="#st9" x="250" y="334"/><use href="#st5" x="378" y="107"/><use href="#st9" x="286" y="328"/><use href="#st5" x="296" y="204"/><use href="#st5" x="441" y="74"/><use href="#st8" x="383" y="302"/><use href="#st7" x="372" y="266"/><use href="#st0" x="423" y="180"/><use href="#st9" x="335" y="285"/><use href="#st7" x="414" y="314"/><use href="#st2" x="345" y="394"/><use href="#st5" x="437" y="175"/><use href="#st6" x="341" y="139"/><use href="#st4" x="383" y="143"/><use href="#st5" x="372" y="341"/><use href="#st0" x="366" y="191"/><use href="#st8" x="251" y="389"/><use href="#st4" x="318" y="208"/><use href="#st5" x="310" y="351"/><use href="#st2" x="429" y="139"/><use href="#st0" x="264" y="344"/><use href="#st5" x="355" y="349"/><use href="#st6" x="440" y="327"/><use href="#st3" x="444" y="312"/><use href="#st8" x="316" y="183"/><use href="#st3" x="332" y="317"/><use href="#st8" x="239" y="310"/><use href="#st3" x="235" y="281"/>
<circle cx="35.6" cy="222.6" r="2.6" fill="#119911"/>
<circle cx="122.9" cy="327.0" r="2.6" fill="#119911"/>
<circle cx="148.5" cy="334.6" r="2.6" fill="#119911"/>
<circle cx="178.3" cy="329.0" r="2.6" fill="#119911"/>
<circle cx="304.0" cy="284.3" r="2.6" fill="#119911"/>
<circle cx="342.3" cy="84.0" r="2.6" fill="#119911"/>
<circle cx="348.7" cy="92.6" r="2.6" fill="#119911"/>
<circle cx="355.0" cy="103.3" r="2.6" fill="#119911"/>
<circle cx="363.6" cy="131.0" r="2.6" fill="#119911"/>
<circle cx="319.0" cy="148.8" r="2.6" fill="#119911"/>
<circle cx="429.7" cy="275.8" r="1.8" fill="#111"/>
<circle cx="91.0" cy="378.0" r="1.8" fill="#111"/>
<circle cx="206.0" cy="212.0" r="2.6" fill="#b5b51e"/>
<circle cx="197.5" cy="231.0" r="2.6" fill="#b5b51e"/>
<circle cx="146.3" cy="246.0" r="2.6" fill="#b5b51e"/>
<circle cx="150.6" cy="271.6" r="2.6" fill="#b5b51e"/>
<circle cx="180.4" cy="271.6" r="2.6" fill="#b5b51e"/>
<circle cx="142.0" cy="301.4" r="2.6" fill="#b5b51e"/>
<circle cx="163.4" cy="318.4" r="2.6" fill="#b5b51e"/>
<circle cx="180.4" cy="305.6" r="2.6" fill="#b5b51e"/>
<circle cx="197.5" cy="301.4" r="2.6" fill="#b5b51e"/>
<circle cx="120.8" cy="352.5" r="2.6" fill="#b5b51e"/>
<circle cx="86.7" cy="356.8" r="2.6" fill="#b5b51e"/>
<circle cx="225.2" cy="237.5" r="2.6" fill="#b5b51e"/>
<circle cx="172.0" cy="77.7" r="1.8" fill="#111"/>
<circle cx="195.3" cy="75.6" r="1.8" fill="#111"/>
<circle cx="316.8" cy="133.0" r="1.8" fill="#111"/>
<circle cx="265.6" cy="220.4" r="1.8" fill="#111"/>
<circle cx="261.4" cy="241.7" r="1.8" fill="#111"/>
<circle cx="291.2" cy="271.6" r="1.8" fill="#111"/>
<circle cx="214.5" cy="271.6" r="1.8" fill="#111"/>
<circle cx="368.0" cy="220.4" r="1.8" fill="#111"/>
<circle cx="221.0" cy="378.0" r="1.8" fill="#111"/>
<circle cx="308.3" cy="316.3" r="1.8" fill="#111"/>
<circle cx="330.0" cy="160.0" r="1.8" fill="#111"/>
<circle cx="336.0" cy="140.0" r="1.8" fill="#111"/>
<circle cx="280.0" cy="210.0" r="1.8" fill="#111"/>
<circle cx="300.0" cy="190.0" r="1.8" fill="#111"/>
<circle cx="352.0" cy="118.0" r="1.8" fill="#111"/>
<circle cx="360.0" cy="150.0" r="1.8" fill="#111"/>
<circle cx="150.0" cy="150.0" r="1.8" fill="#111"/>
<circle cx="120.0" cy="180.0" r="1.8" fill="#111"/>
<circle cx="270.0" cy="260.0" r="1.8" fill="#111"/>
<circle cx="345.0" cy="240.0" r="1.8" fill="#111"/>
<circle cx="290.0" cy="250.0" r="1.8" fill="#111"/>
<circle cx="230.0" cy="105.0" r="1.8" fill="#111"/>
<circle cx="255.0" cy="130.0" r="1.8" fill="#111"/>
<use href="#st3" x="276" y="237"/><use href="#st0" x="272" y="254"/><use href="#st1" x="267" y="243"/><use href="#st6" x="285" y="249"/><use href="#st5" x="271" y="216"/><use href="#st9" x="257" y="221"/><use href="#st2" x="267" y="229"/><use href="#st6" x="266" y="235"/><use href="#st2" x="263" y="257"/><use href="#st2" x="273" y="245"/><use href="#st3" x="280" y="262"/><use href="#st2" x="258" y="214"/><use href="#st5" x="283" y="255"/><use href="#st4" x="283" y="243"/><use href="#st2" x="259" y="232"/><use href="#st8" x="267" y="250"/><use href="#st3" x="275" y="228"/><use href="#st6" x="353" y="95"/><use href="#st1" x="347" y="76"/><use href="#st7" x="360" y="133"/><use href="#st7" x="362" y="125"/><use href="#st6" x="357" y="100"/><use href="#st1" x="353" y="88"/><use href="#st9" x="360" y="118"/><use href="#st1" x="363" y="106"/><use href="#st2" x="370" y="121"/><use href="#st1" x="360" y="139"/><use href="#st1" x="380" y="157"/><use href="#st0" x="365" y="152"/><use href="#st0" x="384" y="165"/><use href="#st8" x="359" y="185"/><use href="#st3" x="371" y="162"/><use href="#st2" x="368" y="170"/><use href="#st1" x="378" y="173"/><use href="#st8" x="387" y="158"/><use href="#st3" x="374" y="155"/><use href="#st7" x="349" y="238"/><use href="#st3" x="358" y="249"/><use href="#st4" x="362" y="236"/><use href="#st7" x="326" y="254"/><use href="#st7" x="348" y="247"/><use href="#st1" x="312" y="256"/><use href="#st2" x="356" y="209"/><use href="#st0" x="366" y="241"/><use href="#st7" x="376" y="208"/><use href="#st6" x="352" y="253"/><use href="#st6" x="369" y="218"/><use href="#st4" x="370" y="196"/><use href="#st4" x="360" y="194"/><use href="#st2" x="362" y="201"/><use href="#st5" x="368" y="204"/><use href="#st8" x="336" y="245"/><use href="#st4" x="343" y="241"/><use href="#st5" x="324" y="263"/><use href="#st0" x="309" y="266"/><use href="#st2" x="342" y="233"/><use href="#st7" x="303" y="265"/><use href="#st2" x="335" y="261"/><use href="#st6" x="341" y="250"/><use href="#st8" x="319" y="255"/><use href="#st8" x="356" y="223"/><use href="#st3" x="358" y="229"/><use href="#st6" x="354" y="242"/><use href="#st8" x="328" y="249"/><use href="#st6" x="363" y="226"/><use href="#st6" x="334" y="252"/><use href="#st1" x="370" y="212"/><use href="#st0" x="333" y="275"/><use href="#st3" x="304" y="296"/><use href="#st2" x="296" y="268"/><use href="#st9" x="291" y="284"/><use href="#st7" x="298" y="300"/><use href="#st0" x="302" y="277"/><use href="#st2" x="295" y="278"/><use href="#st8" x="308" y="281"/>
<clipPath id="hc0_0"><path d="M59.0,360.0C60.7,357.1 71.1,357.6 75.0,358.0C78.9,358.4 85.5,361.1 88.0,363.0C90.5,364.9 91.6,369.5 94.0,372.0C96.4,374.5 103.1,379.5 106.0,382.0C108.9,384.5 113.9,388.5 116.0,391.0C118.1,393.5 128.1,399.7 122.0,401.0C115.9,402.3 78.0,403.8 70.0,401.0C62.0,398.2 63.5,385.5 62.0,380.0C60.5,374.5 57.3,362.9 59.0,360.0Z"/></clipPath>
<g clip-path="url(#hc0_0)"><path d="M16.0,401.0l43.0,-43.0M20.2,401.0l43.0,-43.0M24.4,401.0l43.0,-43.0M28.6,401.0l43.0,-43.0M32.8,401.0l43.0,-43.0M37.0,401.0l43.0,-43.0M41.2,401.0l43.0,-43.0M45.4,401.0l43.0,-43.0M49.6,401.0l43.0,-43.0M53.8,401.0l43.0,-43.0M58.0,401.0l43.0,-43.0M62.2,401.0l43.0,-43.0M66.4,401.0l43.0,-43.0M70.6,401.0l43.0,-43.0M74.8,401.0l43.0,-43.0M79.0,401.0l43.0,-43.0M83.2,401.0l43.0,-43.0M87.4,401.0l43.0,-43.0M91.6,401.0l43.0,-43.0M95.8,401.0l43.0,-43.0M100.0,401.0l43.0,-43.0M104.2,401.0l43.0,-43.0M108.4,401.0l43.0,-43.0M112.6,401.0l43.0,-43.0M116.8,401.0l43.0,-43.0M121.0,401.0l43.0,-43.0" stroke="#7cbc7c" stroke-width="0.9" fill="none"/></g>
<path d="M59.0,360.0C60.7,357.1 71.1,357.6 75.0,358.0C78.9,358.4 85.5,361.1 88.0,363.0C90.5,364.9 91.6,369.5 94.0,372.0C96.4,374.5 103.1,379.5 106.0,382.0C108.9,384.5 113.9,388.5 116.0,391.0C118.1,393.5 128.1,399.7 122.0,401.0C115.9,402.3 78.0,403.8 70.0,401.0C62.0,398.2 63.5,385.5 62.0,380.0C60.5,374.5 57.3,362.9 59.0,360.0Z" stroke="#4aa64a" stroke-width="1.1" fill="none"/>
<clipPath id="hc0_1"><path d="M200.0,386.0C200.8,384.4 219.2,381.2 226.0,380.0C232.8,378.8 243.9,377.8 251.0,377.0C258.1,376.2 272.7,374.7 279.0,374.0C285.3,373.3 294.6,370.9 298.0,372.0C301.4,373.1 304.1,379.3 304.5,382.0C304.9,384.7 304.3,390.9 301.0,392.0C297.7,393.1 286.8,390.0 280.0,390.0C273.2,390.0 258.0,391.7 250.0,392.0C242.0,392.3 226.7,392.8 220.0,392.0C213.3,391.2 199.2,387.6 200.0,386.0Z"/></clipPath>
<g clip-path="url(#hc0_1)"><path d="M180.0,392.0l20.0,-20.0M184.2,392.0l20.0,-20.0M188.4,392.0l20.0,-20.0M192.6,392.0l20.0,-20.0M196.8,392.0l20.0,-20.0M201.0,392.0l20.0,-20.0M205.2,392.0l20.0,-20.0M209.4,392.0l20.0,-20.0M213.6,392.0l20.0,-20.0M217.8,392.0l20.0,-20.0M222.0,392.0l20.0,-20.0M226.2,392.0l20.0,-20.0M230.4,392.0l20.0,-20.0M234.6,392.0l20.0,-20.0M238.8,392.0l20.0,-20.0M243.0,392.0l20.0,-20.0M247.2,392.0l20.0,-20.0M251.4,392.0l20.0,-20.0M255.6,392.0l20.0,-20.0M259.8,392.0l20.0,-20.0M264.0,392.0l20.0,-20.0M268.2,392.0l20.0,-20.0M272.4,392.0l20.0,-20.0M276.6,392.0l20.0,-20.0M280.8,392.0l20.0,-20.0M285.0,392.0l20.0,-20.0M289.2,392.0l20.0,-20.0M293.4,392.0l20.0,-20.0M297.6,392.0l20.0,-20.0M301.8,392.0l20.0,-20.0" stroke="#7cbc7c" stroke-width="0.9" fill="none"/></g>
<path d="M200.0,386.0C200.8,384.4 219.2,381.2 226.0,380.0C232.8,378.8 243.9,377.8 251.0,377.0C258.1,376.2 272.7,374.7 279.0,374.0C285.3,373.3 294.6,370.9 298.0,372.0C301.4,373.1 304.1,379.3 304.5,382.0C304.9,384.7 304.3,390.9 301.0,392.0C297.7,393.1 286.8,390.0 280.0,390.0C273.2,390.0 258.0,391.7 250.0,392.0C242.0,392.3 226.7,392.8 220.0,392.0C213.3,391.2 199.2,387.6 200.0,386.0Z" stroke="#4aa64a" stroke-width="1.1" fill="none"/>
<clipPath id="hc0_2"><path d="M330.0,401.0C324.9,398.9 336.1,388.9 342.0,385.0C347.9,381.1 365.6,375.3 374.0,372.0C382.4,368.7 397.1,363.3 405.0,360.0C412.9,356.7 427.1,349.4 433.0,347.0C438.9,344.6 446.9,340.3 449.0,342.0C451.1,343.7 451.5,355.6 449.0,360.0C446.5,364.4 436.5,371.0 430.0,375.0C423.5,379.0 406.7,386.5 400.0,390.0C393.3,393.5 389.3,399.5 380.0,401.0C370.7,402.5 335.1,403.1 330.0,401.0Z"/></clipPath>
<g clip-path="url(#hc0_2)"><path d="M271.0,401.0l59.0,-59.0M275.2,401.0l59.0,-59.0M279.4,401.0l59.0,-59.0M283.6,401.0l59.0,-59.0M287.8,401.0l59.0,-59.0M292.0,401.0l59.0,-59.0M296.2,401.0l59.0,-59.0M300.4,401.0l59.0,-59.0M304.6,401.0l59.0,-59.0M308.8,401.0l59.0,-59.0M313.0,401.0l59.0,-59.0M317.2,401.0l59.0,-59.0M321.4,401.0l59.0,-59.0M325.6,401.0l59.0,-59.0M329.8,401.0l59.0,-59.0M334.0,401.0l59.0,-59.0M338.2,401.0l59.0,-59.0M342.4,401.0l59.0,-59.0M346.6,401.0l59.0,-59.0M350.8,401.0l59.0,-59.0M355.0,401.0l59.0,-59.0M359.2,401.0l59.0,-59.0M363.4,401.0l59.0,-59.0M367.6,401.0l59.0,-59.0M371.8,401.0l59.0,-59.0M376.0,401.0l59.0,-59.0M380.2,401.0l59.0,-59.0M384.4,401.0l59.0,-59.0M388.6,401.0l59.0,-59.0M392.8,401.0l59.0,-59.0M397.0,401.0l59.0,-59.0M401.2,401.0l59.0,-59.0M405.4,401.0l59.0,-59.0M409.6,401.0l59.0,-59.0M413.8,401.0l59.0,-59.0M418.0,401.0l59.0,-59.0M422.2,401.0l59.0,-59.0M426.4,401.0l59.0,-59.0M430.6,401.0l59.0,-59.0M434.8,401.0l59.0,-59.0M439.0,401.0l59.0,-59.0M443.2,401.0l59.0,-59.0M447.4,401.0l59.0,-59.0" stroke="#7cbc7c" stroke-width="0.9" fill="none"/></g>
<path d="M330.0,401.0C324.9,398.9 336.1,388.9 342.0,385.0C347.9,381.1 365.6,375.3 374.0,372.0C382.4,368.7 397.1,363.3 405.0,360.0C412.9,356.7 427.1,349.4 433.0,347.0C438.9,344.6 446.9,340.3 449.0,342.0C451.1,343.7 451.5,355.6 449.0,360.0C446.5,364.4 436.5,371.0 430.0,375.0C423.5,379.0 406.7,386.5 400.0,390.0C393.3,393.5 389.3,399.5 380.0,401.0C370.7,402.5 335.1,403.1 330.0,401.0Z" stroke="#4aa64a" stroke-width="1.1" fill="none"/>
<path d="M18.3,377.0C21.5,375.4 30.4,370.5 37.2,367.6C44.0,364.7 52.9,361.3 59.2,359.7C65.5,358.1 70.2,357.7 74.9,358.2C79.6,358.7 84.3,360.5 87.5,362.9C90.7,365.2 90.7,369.1 93.8,372.3C96.9,375.5 102.6,378.7 106.3,381.8C110.0,384.9 113.2,387.3 115.8,391.2C118.4,395.1 121.0,402.7 122.0,405.0M159.8,405.0C162.4,403.2 168.7,397.7 175.5,394.3C182.3,390.9 192.3,387.2 200.7,384.9C209.1,382.5 217.4,381.5 225.8,380.2C234.2,378.9 242.1,378.1 251.0,377.0C259.9,375.9 271.4,374.7 279.3,373.9C287.2,373.1 294.0,371.0 298.2,372.3C302.4,373.6 304.0,378.7 304.5,381.8C305.0,384.9 302.9,387.3 301.3,391.2C299.7,395.1 296.1,402.7 295.0,405.0M320.2,405.0C323.9,401.6 333.3,390.3 342.2,384.9C351.1,379.4 363.1,376.5 373.6,372.3C384.1,368.1 395.1,363.9 405.1,359.7C415.1,355.5 425.6,350.3 433.4,347.2C441.2,344.1 448.9,341.9 452.0,340.9" stroke="#4aa64a" stroke-width="1.2" fill="none"/>
</g>
<text x="0.0" y="85.2" class="r" font-weight="bold" font-size="15" fill="#2323e6" text-anchor="middle" transform="translate(89.0,0) scale(0.95,1) translate(0.0,0)">H</text>
<text x="89.0" y="93.0" class="s" font-size="6.2" fill="#2323e6" text-anchor="middle">1030</text>
<text x="0.0" y="138.2" class="r" font-weight="bold" font-size="15" fill="#e02020" text-anchor="middle" transform="translate(33.0,0) scale(0.95,1) translate(0.0,0)">L</text>
<text x="33.0" y="146.0" class="s" font-size="6.2" fill="#e02020" text-anchor="middle">1019</text>
<text x="0.0" y="105.2" class="r" font-weight="bold" font-size="15" fill="#e02020" text-anchor="middle" transform="translate(164.0,0) scale(0.95,1) translate(0.0,0)">L</text>
<text x="164.0" y="113.0" class="s" font-size="6.2" fill="#e02020" text-anchor="middle">1016</text>
<text x="0.0" y="142.2" class="r" font-weight="bold" font-size="15" fill="#2323e6" text-anchor="middle" transform="translate(220.0,0) scale(0.95,1) translate(0.0,0)">H</text>
<text x="220.0" y="150.0" class="s" font-size="6.2" fill="#2323e6" text-anchor="middle">1031</text>
<text x="0.0" y="195.2" class="r" font-weight="bold" font-size="15" fill="#2323e6" text-anchor="middle" transform="translate(72.0,0) scale(0.95,1) translate(0.0,0)">H</text>
<text x="72.0" y="203.0" class="s" font-size="6.2" fill="#2323e6" text-anchor="middle">1032</text>
<text x="0.0" y="260.2" class="r" font-weight="bold" font-size="15" fill="#e02020" text-anchor="middle" transform="translate(38.0,0) scale(0.95,1) translate(0.0,0)">L</text>
<text x="38.0" y="268.0" class="s" font-size="6.2" fill="#e02020" text-anchor="middle">1002</text>
<text x="0.0" y="271.2" class="r" font-weight="bold" font-size="15" fill="#2323e6" text-anchor="middle" transform="translate(222.0,0) scale(0.95,1) translate(0.0,0)">H</text>
<text x="222.0" y="279.0" class="s" font-size="6.2" fill="#2323e6" text-anchor="middle">1029</text>
<text x="0.0" y="130.2" class="r" font-weight="bold" font-size="15" fill="#e02020" text-anchor="middle" transform="translate(340.0,0) scale(0.95,1) translate(0.0,0)">L</text>
<text x="340.0" y="138.0" class="s" font-size="6.2" fill="#e02020" text-anchor="middle">998</text>
<text x="0.0" y="315.2" class="r" font-weight="bold" font-size="15" fill="#e02020" text-anchor="middle" transform="translate(313.0,0) scale(0.95,1) translate(0.0,0)">L</text>
<text x="313.0" y="323.0" class="s" font-size="6.2" fill="#e02020" text-anchor="middle">1016</text>
<text x="0.0" y="293.2" class="r" font-weight="bold" font-size="15" fill="#e02020" text-anchor="middle" transform="translate(385.0,0) scale(0.95,1) translate(0.0,0)">L</text>
<text x="385.0" y="301.0" class="s" font-size="6.2" fill="#e02020" text-anchor="middle">1017</text>
</g>
<rect x="17.7" y="58.0" width="429.3" height="341.4" fill="none" stroke="#7a7a7a" stroke-width="1.4"/>
<rect x="10.0" y="50.5" width="445.4" height="355.5" fill="none" stroke="#6a6a6a" stroke-width="2"/>
<rect x="379.5" y="58" width="67.5" height="36.5" fill="#fff" stroke="#888" stroke-width="0.8"/>
<rect x="380" y="83.5" width="66.5" height="10.5" fill="#fde2e2"/>
<text x="381" y="70.3" class="r" font-weight="bold" font-size="13.5" fill="#3434ee" textLength="64.5" lengthAdjust="spacingAndGlyphs">ASFE&#160;&#160;&#160;KMA</text>
<text x="381" y="81.4" class="s" font-weight="bold" font-size="10.5" fill="#3c3cee" textLength="64.5" lengthAdjust="spacingAndGlyphs">0912UTC MAR 2021</text>
<text x="381" y="92.8" class="s" font-weight="bold" font-size="10.2" fill="#f03030" textLength="64.5" lengthAdjust="spacingAndGlyphs">SURFACE PRESSURE(hPa)</text>
<text x="23" y="395.5" class="r" font-weight="bold" font-size="15" fill="#1010ee" textLength="31" lengthAdjust="spacingAndGlyphs">DFS</text>
<text x="10.0" y="49.3" class="s" font-size="9.2" fill="#4a4ae2" textLength="180.0" lengthAdjust="spacingAndGlyphs">12UTC 09 MAR 2021 (21KST 09 MAR 2021)</text>
<path d="M10.0,50.2H190.0" stroke="#6a6ae6" stroke-width="0.8"/>
<text x="10.0" y="414.5" class="s" font-size="9.2" fill="#4a4ae2" textLength="168.0" lengthAdjust="spacingAndGlyphs">Korea Meteorological Administration(KMA)</text>
<text x="278.0" y="414.5" class="s" font-size="9.2" fill="#4a4ae2" textLength="176.0" lengthAdjust="spacingAndGlyphs">12UTC 09 MAR 2021 (21KST 09 MAR 2021)</text>
<text x="65.5" y="55.8" class="s" font-size="3.6" fill="#777" text-anchor="middle">100</text>
<text x="124.7" y="55.8" class="s" font-size="3.6" fill="#777" text-anchor="middle">100</text>
<text x="178.8" y="55.8" class="s" font-size="3.6" fill="#777" text-anchor="middle">100</text>
<text x="231.7" y="55.8" class="s" font-size="3.6" fill="#777" text-anchor="middle">100</text>
<text x="283.0" y="55.8" class="s" font-size="3.6" fill="#777" text-anchor="middle">100</text>
<text x="332.4" y="55.8" class="s" font-size="3.6" fill="#777" text-anchor="middle">150</text>
<text x="386.1" y="55.8" class="s" font-size="3.6" fill="#777" text-anchor="middle">150</text>
<text x="440.0" y="55.8" class="s" font-size="3.6" fill="#777" text-anchor="middle">150</text>
<text x="109.8" y="405.3" class="s" font-size="3.6" fill="#777" text-anchor="middle">100</text>
<text x="297.8" y="405.3" class="s" font-size="3.6" fill="#777" text-anchor="middle">100</text>
<text x="392.0" y="405.3" class="s" font-size="3.6" fill="#777" text-anchor="middle">150</text>
<text x="13.5" y="151.3" class="s" font-size="3.6" fill="#777" text-anchor="middle">100</text>
<text x="13.5" y="261.3" class="s" font-size="3.6" fill="#777" text-anchor="middle">100</text>
<text x="13.5" y="371.3" class="s" font-size="3.6" fill="#777" text-anchor="middle">100</text>
<text x="451.0" y="101.3" class="s" font-size="3.6" fill="#777" text-anchor="middle">150</text>
<text x="451.0" y="211.3" class="s" font-size="3.6" fill="#777" text-anchor="middle">150</text>
<text x="451.0" y="331.3" class="s" font-size="3.6" fill="#777" text-anchor="middle">150</text>
<text x="0" y="28.5" class="r" font-size="26.5" fill="#1a1a1a" transform="translate(16.2,0) scale(1.05,1)">(a)</text>
</g>
<g transform="translate(467.4,0)">
<g clip-path="url(#mapclip)"><g filter="url(#soft)">
<use href="#geo"/>
<path d="M442.1 52l4.9 5.5 6 4.3M427.7 52l4.4 7.5 5.9 6.7 7.5 5.9 7.5 3.7M414.9 52l2.2 6 2.9 5.3 3.8 5.2 5.2 5.4 6 5 6 4 6 3 6 2M391.7 52l0.4 10.5 2.3 9 4.6 8.6 6 6.9 9 7 15 8.2 12 4.8 12 2.6M12 296.1l9-6.4 15.3-9.7 3-3 1.5-4.5 -1.3-6 -5.1-9 -12-16.5 -10.4-11.8M380.3 52l-1.3 12 0.5 6 1 4.5 2.3 6 3.4 6 3.8 5 4.5 4.8 4.5 3.8 6 4 15 7.2 18 6.1 7.5 1.6 7.5 0.9M12 305.4l9-5.7 9-3.7 9-1.9 15-1.3 4.5-1.3 3-2.1 1.3-1.9 1.1-3 0.3-3 -0.5-4.5 -1.5-4.5 -2.4-4.5 -3.3-4.5 -36.2-36 -8.3-7.5M368.4 52l-2.6 7.5 -1.1 6 -0.1 6 1.1 6 2.4 6 4.4 7.5 5.8 7.5 7.2 7.4 6 4.9 6 3.9 7.5 3.8 7.5 2.9 12 3.7 10.5 2.6 9 1.5 9 0.6M12 313.6l9-5.8 10.5-3.8 10.5-1.1 18 0.6 4.5-0.7 3-1.1 3.3-2.2 2.7-3.8 1.5-4.5 0.5-5.2 -0.8-7.5 -2.1-7.5 -3.6-7.5 -4.4-6 -6.1-6.1 -16.5-13.3 -20.3-18.1 -9.7-7.7M347.4 52l-3.5 9 -2 9 -0.3 9 1.3 7.5 2.8 7.5 5.3 9.1 7.5 9.5 9 9.1 8 6.8 8.5 5.7 9 4.7 8.1 3.1 9.9 2.7 13.5 2.4 15 1.6 13.5 0.6M12 329.6l5.1-4.6 5.4-3.6 4.5-2.1 6-1.7 10.5-0.9 18 1.9 6 0.2 6-1 4.5-1.8 4.5-3.2 4.4-5.8 2.6-7.5 0.7-7.5 -1.2-13.5 -3.3-15 -3.4-9 -4.3-6.5 -3.8-4 -5.6-4.5 -19.1-13.2 -26.1-19.8 -11.4-7.6M339.3 52l-3.9 10.5 -2.4 10.5 -0.6 10.5 1.4 9 3.2 9 4.2 7.5 6.8 9 9 9.4 9.9 8.6 9.6 6.8 9.3 5.2 10.2 4.1 10.5 2.7 12 1.9 18 1.7 16.5 0.7M12 338.6l4.5-5 5-4.1 5.5-3.1 6-2.1 6-0.9 6-0.1 18 2.2 6 0.2 7.5-1.1 6-2.5 6-4.8 5-7.3 2.5-7.5 0.8-9 -1-12 -3.9-24 -2.5-7.5 -3.8-6 -4.5-4.5 -4.6-3.5 -21-13.5 -26.8-19 -16.7-10.7M331.9 52l-4.6 12 -3.2 12 -1.3 10.5 0.4 9 2.2 9 4.2 9 5.2 7.5 8.7 9.4 11.3 10.1 12.7 9.8 10.5 6.5 10.5 4.8 10 2.9 11 1.9 43.5 3M12 349.9l4.5-6.5 4.7-4.9 5.8-4.2 6-2.5 6-1.2 6-0.2 19.5 2.5 7.5 0.2 7.5-1.4 6-2.6 7.5-5.7 5.7-7.4 3.6-9 1.3-10.5 -0.4-7.5 -2.4-19.5 -1.2-19.5 -1.9-6 -3-4.5 -7.6-6 -25.6-14.7 -29.6-19.8 -19.9-12M317.1 52l-14.1 31.5 -3.4 10.5 -1.9 9 -0.8 10.5 0.8 7.5 2.1 6 4.4 6 7.4 6 27.4 18.1 28.5 22.8 6 3.8 6 3 7.5 2.3 7.5 1.3 36 1.5 10.5 1.2 12 2.2M15.6 406l1.5-16.5 2.6-12 4.3-9.9 3-4.4 3.8-3.7 5.2-3.1 6-1.4 6 0 12 1.3 7.5 0.2 7.5-0.9 6-1.6 7.5-3.4 7.5-5 7.5-6.7 6.8-7.9 4.2-6 3.1-6 1.7-4.5 1.4-6 0.2-10.5 -3.5-18 -0.8-7.5 0.7-7.5 2.6-7.5 4.6-6.8 6-6 7.2-5.2 16.9-10.5 7.6-6 4.8-6 1.7-4.5 0.1-3 -0.6-3 -2-4.5 -3.7-4.5 -3.7-3 -4.3-2.4 -4.5-1.6 -4.5-0.7 -4.5 0 -7.5 1.7 -7.4 4.5 -4.4 4.5 -9 12 -4.7 3.5 -3 1.2 -4.5 0.7 -9-0.7 -9-2.7 -10.5-4.7 -28.4-16.8 -31.6-17.6M267.4 329.5l10.1-4.6 33.4-17.9 7.2-4.5 5.6-4.5 3.7-4.5 2.3-4.5 0.9-4.5 -0.6-6 -2.6-6 -4.7-6 -6.9-6 -9.1-6 -12.7-6.5 -10.5-3.8 -7.5-1.5 -6 0.2 -4.5 1.4 -4.5 3.3 -4.1 5.4 -4.2 9 -4.6 13.5 -3.1 12 -1.7 10.5 -0.2 7.5 0.8 7.5 1.9 6 3.2 5.5 3.6 3.5 3.9 2 4.5 0.7 6.4-1.2M366.1 404.5l11.8-7.5 6.1-3.1 7.5-2.6 19.5-4.9 6-2.5 5.6-3.4 4.8-4.5 2.3-4.5 0.1-4.5 -1.1-3 -1.9-3 -5.8-6 -8.5-6.1 -9-4.7 -10.5-3.5 -10.5-1.9 -10.5-0.1 -7.5 1.8 -6 3.4 -3 2.7 -3 3.8 -2.5 4.6 -1.8 4.5 -1.9 10.5 0.4 10.5 2.8 12.2 1.7 4.3 2.8 4.6 3 2.9 3 1.2 3-0.1 3.1-1.1M309.1 52l-16.3 31.5 -5.2 12 -5.6 15 -4.5 13.5 -2.8 10.5 -0.7 7.5 1.5 4.5 2 1.8 4.5 1.8 19.5 3.4 10.5 3 9 3.7 7.5 4.2 6.6 4.6 7.1 6 8.7 9 15.1 17.8 4.5 3.9 4.5 2.4 4.5 1.2 4.5 0.4 27-2.1 15 0.8 7.5 1.6 7.1 2.5 5.9 3 6.5 4.6M453 269.9l-3-1.5 -3-0.7 -7.5-0.3 -10.5 1.6 -24 5.7 -6 0.3 -6-0.8 -6-2.1 -6.9-4.1 -5.6-4.5 -11.5-11.1 -4.5-3.3 -3-1.5 -6-1.7 -21-1.8 -13.5-2.8 -16.5-5.9 -19.7-9.4 -7.6-4.5 -4-3 -4.1-4.5 -2.4-4.5 -1.8-6 -0.7-6 -0.2-28.5 -1.9-4.5 -1.8-1.5 -2.3-0.8 -6-0.4 -7.5 1.1 -9 2.7 -7.1 3.4 -9.4 6.7 -18 17.8 -4.5 3 -3 1.1 -4.5 0.4 -4.5-1.1 -16.5-8.4 -7.5-2.6 -7.5-1.3 -7.5 0.2 -7.5 1.7 -6 2.8 -6 4.2 -13.5 12.1 -4.5 2.2 -6 1.2 -9-0.9 -10.5-3.8 -64.5-34.8M63.3 406l5-6 6.2-6 5.9-4.5 17.1-11.4 7.1-6.6 4.1-6 10.6-19.5 12.3-18 3.5-6 2.6-7.5 0.3-4.5 -0.4-4.5 -2.2-7.5 -6.8-16.5 -1.2-4.5 -0.4-4.5 0.4-4.5 1.5-4.5 2.7-4.5 2.6-3 8.3-6.9 13.5-8.7 16.5-9.2 10.5-4 7.5-0.7 10.5 1.3 19.5 3.9 9 3.5 4.5 4 2.4 4.8 1.1 6 -0.2 7.5 -1.2 7.5 -2.1 8.4 -10.9 32.1 -1.1 6 -0.1 4.5 0.7 4.5 1.7 4.5 10.9 18 4.2 9 1.5 7.5 -1.1 4.5 -2.4 3 -4.9 3 -6 2.2 -9 1.9 -21 2 -43.5 1.3 -9 1.2 -7.2 1.9 -6.3 3.4 -2.7 2.6 -1.9 3 -1.1 3 -0.7 4.5 0.2 4.5 0.9 4.5M453 352.2l-7.5-0.3 -6-1.5 -6-2.7 -7.8-4.7 -10-7.5 -6.5-6 -4.3-6 -1.1-4.5 1.3-4.5 4.5-4.5 5.9-3.1 16.5-5.9 9-4.1 7.1-4.9 4.9-5.5M248.9 406l1.2-9 1.3-22.5 1.3-4.5 2.8-4.5 20.1-19.5 7-6 6.9-5 7.1-4 6.4-2.7 7.5-2.1 7.5-0.8 7.5 0.8 4.5 2 1.7 1.3 2.2 3 1.4 4.5 0.1 7.5 -2 19.5 -0.5 10.5 0.9 31.5M407.1 406l32.4-11.4 7.5-1.9 6-0.8M300.3 52l-29.5 54 -6.8 10.5 -7.2 9 -6.3 6.2 -7.5 5.9 -24 14.5 -7.5 5.2 -7.5 6.7 -13.5 14.6 -3.1 2.4 -4.4 2.2 -4.5 1 -4.5-0.1 -16.5-3.4 -7.5-1 -7.5 0 -6 0.7 -7.5 2 -6 2.6 -5.9 3.5 -10.6 7.6 -4.5 2.5 -6 1.7 -6 0.1 -7.5-1.8 -7.5-3.1 -46.5-22.8 -16.5-9.4M325.5 224.9l-4.5 0.9 -6 0.1 -6-0.9 -6-1.8 -6-2.7 -5.6-3.5 -3.7-3 -4.1-4.5 -2.6-4.5 -1.6-4.5 -0.5-4.5 0.2-4.5 1.2-4.5 2.1-4.5 2.6-3.6 3-2.8 4.5-2.8 6-1.9 6-0.5 7.5 0.9 6 2.1 6 3.2 6 4.8 4.6 5.1 3.8 6 2.4 6 0.9 6 -0.4 4.5 -1.6 4.5 -3.7 5 -4.5 3.4 -6 2.5M190.5 295.3l-9 1 -10.5-1 -10.5-3.2 -9-5 -6.1-5.6 -2.9-4.5 -1-3 -0.4-3 0.4-3 3-6 6.2-6 8.3-5.5 10.5-5 9-2.7 9-0.9 9 0.8 9 2.5 6.3 3.3 4.4 4.5 2.5 6 0 7.5 -2.3 7.5 -4.9 8 -6 6 -7.5 4.7 -7.5 2.6M190.5 364.1l-9 0.1 -7.5-0.7 -7.5-1.6 -6.4-2.4 -4.7-3 -2.5-3 -1-3 0.7-4.5 3.3-4.5 4.6-3.5 6-2.8 7.5-2.2 7.5-0.9 7.5 0.1 7.5 1.4 6 2.2 6.7 4.2 4 4.5 1.7 4.5 -0.6 4.5 -3.7 4.5 -5.1 2.9 -6 1.8 -9 1.4M301.5 392.6l-3 0.3 -3-0.7 -3-1.6 -3-2.9 -1.7-2.7 -1.6-4.5 -0.4-7.5 1.9-7.5 1.8-3.6 2.9-3.9 3.1-2.9 3-1.9 3-1.1 3-0.4 4.5 1.4 3 3.4 1.9 6 0.2 7.5 -1.1 7.5 -2.8 7.5 -4.2 5.3 -4.5 2.3M12 69.1l8.5-9.6 9.4-7.5M281.3 52l-7.5 15 -9.9 16.5 -8.8 12 -9.1 9.8 -13.5 11.4 -36.3 23.8 -8.7 6.7 -14.4 12.8 -8.1 4.5 -7.5 2 -18 2.6 -10.5 2.2 -28.5 9.5 -6 0.9 -4.5-0.1 -6-1 -7.5-2.1 -36-12.5 -15.2-7.5 -7.1-4.5 -6.2-4.8M12 84.5l6.9-10 8.1-8.4 9-6.7 12.7-7.4M271.3 52l-6.1 13.5 -8.7 14.3 -9 11.5 -10.3 10.2 -15.2 11.8 -35.8 22.7 -22.7 16.5 -6 3.5 -7.5 3.1 -46.5 11.6 -9 1 -10.5-0.7 -12-2.2 -13.5-3.3 -10.5-3.2 -9-3.5 -7.5-3.6 -7.5-4.6 -7.1-5.6 -4.9-5.1M12 105.4l2.7-8.4 3.8-7.5 5.1-7.5 5.4-6 6.8-6 7.7-5.4 22.3-12.6M260.6 52l-4.7 12 -8.1 13.5 -9.3 11.2 -12 10.9 -18 12.8 -54 33.5 -10.5 5.4 -12 4.2 -21 4.8 -18 1.9 -18-0.9 -19.5-3.6 -15.2-5.2 -7.3-3.8 -6-4 -6-5.4 -3.9-4.8 -3.4-6 -1.7-4.8M234 52l0 4.5 -0.9 4.5 -4 9 -7.1 9.8 -9.8 9.7 -11.4 9 -16 10.5 -30.3 17.4 -16.5 8.5 -12 4.6 -12 3.1 -13.5 2.2 -15 1.1 -13.5-0.3 -10.5-1.4 -9-2.5 -9-4.2 -4.5-3.2 -4.5-4.5 -3-4.8 -2-5.5 -0.6-6 0.7-6 1.9-6 3.1-6 4.2-6 5.5-6 14.2-12 8.6-6 9.4-5.6 17.4-7.9M214.5 52l1.7 3 0.9 4.5 -0.1 3 -1.1 4.5 -2.1 4.5 -2.9 4.5 -7.9 9 -10.6 9 -13 9 -22.7 13.5 -18.7 9.8 -12 4.9 -12 3.4 -13.5 2.2 -15 1.2 -12-0.3 -10.4-1.7 -8.7-3 -6.4-3.9 -3.7-3.6 -2.8-4.5 -1.5-4.5 -0.4-4.5 0.5-4.5 1.9-6 3.1-6 4.2-6 6.6-7.5 6.4-6 7.4-6 6.8-4.6 7.5-4.2 9-4 17.1-5.2M103.5 128.6l-18 1.1 -7.5-0.4 -7.5-1.3 -6-1.9 -4.5-2.4 -3.4-2.7 -3.3-4.5 -1.5-4.5 -0.2-4.5 1.1-6 2.3-6 4.5-7.5 4.7-6 5.8-6 6.5-5.3 10.5-6.5 10.5-4.4 12-3.2 13.5-1.8 39-1.5 13.5 0.2 6 0.8 6 1.6 4.2 2.1 3.3 3 1.5 3 0.3 4.5 -0.7 3 -2.1 4.5 -3.1 4.5 -4.1 4.5 -12.4 10.5 -20.5 13.5 -18.9 10.3 -15 5.8 -16.5 3.5M106.5 113.7l-10.5 0.8 -9-0.9 -7.5-2.8 -3-2 -2.6-2.8 -1.6-3 -0.9-3 -0.2-3 0.6-4.5 3.2-7.5 4.7-6 5.8-5.1 7.5-4.4 9-3.4 9-1.6 9-0.1 9 1.5 7.6 2.6 7.3 4.5 3.6 4.5 0.8 3 0 3 -2.4 6 -4.6 6 -6.7 6 -9.6 6 -9.5 3.9 -9 2.3M105 107.7l-7.5 0.5 -6-0.7 -4.5-1.5 -4.7-3 -3.1-4.5 -0.9-4.5 0.6-4.5 2.9-6 3.8-4.5 5.8-4.5 6.1-3.1 6-1.8 7.5-1.1 6 0.3 6 1.3 6.1 2.9 4.5 4.5 1.6 4.5 -0.3 4.5 -2.9 6 -5.8 6 -6.2 4.1 -7.5 3.3 -7.5 1.8M105 101.7l-4.5 0.5 -4.5-0.4 -4.5-1.4 -3-1.9 -2.4-3 -0.9-3 0.1-3 1.6-4.5 2.2-3 3.9-3.5 4.1-2.5 4.9-1.9 6-1 4.5 0 4.5 1 4 1.9 3.1 3 1.4 3 0 4.5 -2.1 4.5 -3.4 3.8 -4.5 3.2 -4.5 2.1 -6 1.6" stroke="#9494ea" stroke-width="0.95" fill="none" stroke-linejoin="round"/>
<path d="M403 52l1.4 7.5 2.8 7.5 3.8 6.1 6 6.6 8.5 6.8 9.7 6 8.8 4.1 9 2.4M12 283.8l4.5-5.3 2.8-4.5 1.6-4.5 0.5-4.5 -0.5-4.5 -1.8-6 -2.9-6 -4.2-6.8M356.9 52l-3.1 7.5 -1.8 7.5 -0.3 7.5 1.4 7.5 3.2 7.5 4.7 7.5 7.3 9 8.2 8.3 6.3 5.2 7.2 4.9 7.5 3.9 9 3.5 10.5 3 13.5 2.7 12 1.6 10.5 0.5M12 321.5l5.1-4 5.4-3.2 4.5-1.8 6-1.6 10.5-0.7 19.5 1.5 4.5-0.4 4.7-1.3 4.7-3 3.5-4.5 2.3-6 0.7-7.5 -1.1-10.5 -2.6-10.5 -3.2-7.8 -4.7-7.2 -7.7-7.5 -19.1-14.2 -23-18.8 -10-7.2M324.6 52l-6.1 15 -4.1 12 -2.4 10.5 -0.7 9 0.8 9 2.2 7.5 4.1 7.5 6.4 7.5 11.9 10.5 24.8 19.5 10.5 7.1 10.5 5.3 9 3 10.5 1.8 51 3.7M12 367.1l4.5-9.9 4.5-6.7 4.5-4.7 6-3.9 6-2 6-0.7 6 0.4 18 2.5 6-0.1 4.5-0.7 6-1.9 7.2-3.9 5.7-4.5 5.1-5.6 5.8-9.4 1.6-4.5 1.4-6 0.3-10.5 -2.5-19.5 -0.4-9 0.8-7.5 3.6-15 0.5-4.5 -1.4-4.5 -3.7-2.9 -22.5-8.5 -13.5-6.3 -10.5-6.1 -26.4-16.7 -23.1-13.3M141 223l6-2.5 4.5-3.2 3-3.6 1.6-4.2 -0.3-4.5 -2.6-4.5 -4.3-3 -4.9-1.3 -3 0 -4.5 1.2 -4.8 3.1 -2.5 3 -1.6 3 -1.6 6 0.3 6 1.2 2.7 1.5 1.5 4.5 1.3 7.5-1M278.3 304l8.2-3.3 8.1-5.7 4.8-6 1.9-6 -0.9-6 -3.8-6 -5.7-4.5 -3.3-1.5 -4.1-1 -4.5 0 -3 0.8 -3 1.6 -3 2.7 -4.5 7.1 -2.8 9.8 -0.3 4.5 0.5 4.5 1.1 3.6 1.5 2.5 3 2.4 3 1 6.8-0.5M386.1 376l9.9-1.6 4.5-1.4 2.8-1.5 1.7-1.5 1.4-3 0-1.5 -1.3-3 -3.4-3 -4.2-2 -6-1.4 -6-0.2 -6 0.6 -5.2 1.5 -5 3 -2.5 3 -1.3 3 0.1 4.5 1.7 3 1.7 1.2 6 1.2 11.1-0.9M12 53.4l1.2-1.4M291 52l-9.8 18 -13.3 22.5 -7.3 10.5 -8.6 10 -7.5 7 -7.5 5.9 -33.4 22.1 -8.6 7.5 -12 12.6 -3.1 2.4 -4.4 2.3 -7.5 1.5 -21-0.1 -13.5 1.7 -12 3.9 -21 10.3 -4.5 1.2 -6 0.1 -4.5-0.8 -6-1.9 -40.5-17.1 -15-7.4 -12-7.5M310.5 200.6l-1.5-0.2 -1.1-1.4 0.6-1.5 2.2 0 0.9 1.5 -1.1 1.6M183 272.7l-6 0.9 -6-1 -2.7-1.6 -1.3-1.5 -0.4-3 2-3 5.4-3.1 6-1.1 6 1 2.6 1.7 1.2 1.5 0.3 3 -0.5 1.5 -2.1 2.4 -4.5 2.3M248.5 52l-1.8 7.5 -3.3 7.5 -4.7 7.5 -5.9 7.5 -7.4 7.5 -8.8 7.5 -10.4 7.5 -11.2 7.3 -45 26.2 -16.5 7.8 -10.5 3.2 -12 2.6 -13.5 1.6 -13.5 0.6 -13.5-0.7 -12-1.8 -11-3.3 -10-4.8 -7.6-5.7 -5.9-7.1 -3.5-7.9 -1-7.5 0.7-7.5 3-9 5.1-9 6.2-7.5 8.4-7.5 10.6-7.5 14-8.5 12.9-6.5M103.5 121l-13.5 0.7 -6-0.6 -6-1.2 -5.1-1.9 -3.9-2.4 -3-2.9 -2.2-3.7 -1.1-4.5 0.1-4.5 0.9-4.5 1.7-4.5 3.4-6 3.5-4.5 8.7-8.1 8.8-5.4 9.2-3.8 10.5-2.5 12-0.9 15 1 19.5 3.5 9 2.8 3 1.8 2.5 2.6 1 3 -0.2 3 -2.8 6 -8.1 9 -11.1 9 -11.4 7.5 -11.9 6 -10.5 3.6 -12 2.4M108 94.2l-6 1.1 -3-0.3 -3-1.2 -1.5-1.3 -1.2-3 1.3-4.5 2.9-3 6-2.8 6-0.3 4 1.6 2.3 3 0.2 1.5 -0.7 3 -2.8 3.5 -4.5 2.7" stroke="#6060e2" stroke-width="1.5" fill="none" stroke-linejoin="round"/>
<g class="s" font-size="5.6" font-weight="bold" fill="#5555e4" text-anchor="middle"><text transform="translate(75.2,285.7) rotate(84)">1008</text><text transform="translate(363.2,119.2) rotate(46)">1012</text><text transform="translate(86.2,267.3) rotate(78)">1012</text><text transform="translate(96.0,285.6) rotate(85)">1012</text><text transform="translate(365.3,150.4) rotate(38)">1014</text><text transform="translate(82.3,332.2) rotate(-23)">1014</text><text transform="translate(109.8,257.3) rotate(-77)">1016</text><text transform="translate(120.5,298.0) rotate(79)">1016</text><text transform="translate(420.8,383.4) rotate(-31)">1016</text><text transform="translate(229.8,237.3) rotate(41)">1018</text><text transform="translate(404.4,318.6) rotate(-74)">1018</text><text transform="translate(322.4,327.7) rotate(6)">1018</text><text transform="translate(280.2,188.9) rotate(-76)">1018</text><text transform="translate(294.9,357.5) rotate(-43)">1018</text><text transform="translate(223.1,124.6) rotate(-33)">1022</text><text transform="translate(167.8,129.5) rotate(-30)">1024</text><text transform="translate(97.5,146.8) rotate(-4)">1026</text><text transform="translate(144.3,124.8) rotate(-28)">1028</text><text transform="translate(99.9,76.7) rotate(-21)">1034</text></g>
<use href="#st2" x="46" y="90"/><use href="#st9" x="152" y="265"/><use href="#st6" x="37" y="290"/><use href="#st3" x="92" y="121"/><use href="#st2" x="32" y="171"/><use href="#st8" x="238" y="182"/><use href="#st7" x="307" y="123"/><use href="#st7" x="356" y="181"/><use href="#st7" x="90" y="315"/><use href="#st4" x="299" y="146"/><use href="#st5" x="228" y="136"/><use href="#st4" x="349" y="223"/><use href="#st4" x="298" y="259"/><use href="#st1" x="177" y="291"/><use href="#st1" x="26" y="335"/><use href="#st4" x="47" y="281"/><use href="#st3" x="80" y="151"/><use href="#st3" x="46" y="183"/><use href="#st1" x="307" y="90"/><use href="#st0" x="33" y="306"/><use href="#st2" x="180" y="105"/><use href="#st3" x="23" y="259"/><use href="#st5" x="86" y="74"/><use href="#st8" x="229" y="165"/><use href="#st1" x="302" y="168"/><use href="#st2" x="32" y="326"/><use href="#st2" x="298" y="296"/><use href="#st7" x="78" y="119"/><use href="#st9" x="210" y="146"/><use href="#st9" x="119" y="327"/><use href="#st6" x="322" y="148"/><use href="#st2" x="140" y="313"/><use href="#st1" x="37" y="199"/><use href="#st1" x="239" y="91"/><use href="#st3" x="64" y="123"/><use href="#st7" x="67" y="70"/><use href="#st6" x="214" y="241"/><use href="#st3" x="112" y="366"/><use href="#st1" x="244" y="123"/><use href="#st1" x="30" y="384"/><use href="#st5" x="280" y="159"/><use href="#st6" x="152" y="355"/><use href="#st0" x="65" y="164"/><use href="#st4" x="24" y="70"/><use href="#st9" x="341" y="126"/><use href="#st1" x="81" y="178"/><use href="#st9" x="130" y="103"/><use href="#st7" x="136" y="238"/><use href="#st4" x="199" y="227"/><use href="#st9" x="189" y="114"/><use href="#st1" x="132" y="205"/><use href="#st8" x="63" y="181"/><use href="#st1" x="84" y="202"/><use href="#st5" x="187" y="299"/><use href="#st6" x="69" y="243"/><use href="#st7" x="265" y="110"/><use href="#st4" x="188" y="80"/><use href="#st1" x="162" y="312"/><use href="#st6" x="117" y="270"/><use href="#st7" x="154" y="237"/><use href="#st3" x="64" y="335"/><use href="#st9" x="267" y="226"/><use href="#st6" x="80" y="267"/><use href="#st1" x="95" y="301"/><use href="#st8" x="170" y="365"/><use href="#st5" x="34" y="89"/><use href="#st7" x="91" y="190"/><use href="#st0" x="142" y="219"/><use href="#st6" x="177" y="242"/><use href="#st4" x="261" y="130"/><use href="#st8" x="233" y="107"/><use href="#st4" x="323" y="163"/><use href="#st4" x="371" y="164"/><use href="#st8" x="290" y="193"/><use href="#st5" x="173" y="174"/><use href="#st4" x="92" y="210"/><use href="#st7" x="217" y="107"/><use href="#st3" x="137" y="115"/><use href="#st5" x="220" y="314"/><use href="#st2" x="100" y="109"/><use href="#st9" x="370" y="177"/><use href="#st2" x="177" y="194"/><use href="#st7" x="131" y="364"/><use href="#st9" x="252" y="141"/><use href="#st2" x="187" y="157"/><use href="#st7" x="174" y="130"/><use href="#st3" x="62" y="110"/><use href="#st5" x="162" y="109"/><use href="#st3" x="128" y="177"/><use href="#st9" x="42" y="377"/><use href="#st1" x="48" y="110"/><use href="#st2" x="204" y="323"/><use href="#st1" x="158" y="255"/><use href="#st9" x="156" y="343"/><use href="#st7" x="60" y="233"/><use href="#st8" x="214" y="200"/><use href="#st7" x="213" y="356"/><use href="#st0" x="151" y="329"/><use href="#st3" x="129" y="286"/><use href="#st3" x="43" y="363"/><use href="#st8" x="251" y="78"/><use href="#st3" x="71" y="98"/><use href="#st6" x="287" y="175"/><use href="#st2" x="91" y="97"/><use href="#st6" x="287" y="132"/><use href="#st2" x="107" y="176"/><use href="#st4" x="203" y="195"/><use href="#st8" x="119" y="298"/><use href="#st8" x="300" y="72"/><use href="#st8" x="133" y="304"/><use href="#st3" x="42" y="321"/><use href="#st1" x="38" y="128"/><use href="#st2" x="81" y="294"/><use href="#st7" x="268" y="211"/><use href="#st0" x="34" y="394"/><use href="#st5" x="157" y="148"/><use href="#st4" x="221" y="300"/><use href="#st3" x="86" y="162"/><use href="#st5" x="108" y="298"/><use href="#st3" x="112" y="83"/><use href="#st7" x="187" y="208"/><use href="#st6" x="188" y="221"/><use href="#st0" x="142" y="143"/><use href="#st0" x="60" y="379"/><use href="#st6" x="45" y="299"/><use href="#st5" x="120" y="153"/><use href="#st7" x="116" y="70"/><use href="#st0" x="109" y="143"/><use href="#st2" x="258" y="91"/><use href="#st7" x="153" y="283"/><use href="#st5" x="42" y="248"/><use href="#st5" x="174" y="266"/><use href="#st8" x="25" y="287"/><use href="#st9" x="54" y="243"/><use href="#st9" x="123" y="123"/><use href="#st5" x="41" y="261"/><use href="#st3" x="275" y="85"/><use href="#st8" x="116" y="238"/><use href="#st0" x="77" y="308"/><use href="#st6" x="240" y="209"/><use href="#st6" x="221" y="125"/><use href="#st5" x="187" y="268"/><use href="#st2" x="92" y="140"/><use href="#st4" x="263" y="198"/><use href="#st6" x="306" y="286"/><use href="#st1" x="273" y="131"/><use href="#st6" x="56" y="263"/><use href="#st2" x="168" y="164"/><use href="#st5" x="324" y="79"/><use href="#st9" x="194" y="280"/><use href="#st5" x="264" y="143"/><use href="#st9" x="327" y="137"/><use href="#st2" x="134" y="130"/><use href="#st5" x="23" y="319"/><use href="#st0" x="99" y="224"/><use href="#st3" x="357" y="107"/><use href="#st0" x="137" y="269"/><use href="#st4" x="26" y="356"/><use href="#st8" x="135" y="353"/><use href="#st8" x="54" y="333"/><use href="#st3" x="216" y="83"/><use href="#st1" x="152" y="296"/><use href="#st1" x="29" y="276"/><use href="#st2" x="171" y="345"/><use href="#st2" x="72" y="351"/><use href="#st9" x="327" y="121"/><use href="#st1" x="155" y="78"/><use href="#st4" x="189" y="251"/><use href="#st6" x="171" y="143"/><use href="#st2" x="118" y="109"/><use href="#st6" x="202" y="64"/><use href="#st0" x="23" y="94"/><use href="#st6" x="102" y="63"/><use href="#st4" x="96" y="348"/><use href="#st6" x="147" y="194"/><use href="#st8" x="147" y="255"/><use href="#st8" x="202" y="293"/><use href="#st6" x="52" y="65"/><use href="#st3" x="292" y="115"/><use href="#st2" x="116" y="133"/><use href="#st7" x="91" y="86"/><use href="#st5" x="82" y="235"/><use href="#st8" x="309" y="136"/><use href="#st4" x="234" y="147"/><use href="#st9" x="278" y="115"/><use href="#st3" x="164" y="212"/><use href="#st3" x="158" y="202"/><use href="#st4" x="225" y="203"/><use href="#st0" x="53" y="388"/><use href="#st8" x="199" y="341"/><use href="#st5" x="268" y="69"/><use href="#st6" x="261" y="242"/><use href="#st0" x="34" y="148"/><use href="#st2" x="26" y="135"/><use href="#st0" x="96" y="364"/><use href="#st3" x="162" y="90"/><use href="#st0" x="111" y="192"/><use href="#st2" x="60" y="221"/><use href="#st8" x="295" y="95"/><use href="#st9" x="101" y="265"/><use href="#st1" x="291" y="84"/><use href="#st6" x="181" y="280"/><use href="#st8" x="46" y="210"/><use href="#st8" x="56" y="301"/><use href="#st2" x="70" y="391"/><use href="#st0" x="333" y="91"/><use href="#st9" x="217" y="68"/><use href="#st3" x="159" y="135"/><use href="#st5" x="70" y="194"/><use href="#st6" x="213" y="164"/><use href="#st2" x="130" y="318"/><use href="#st3" x="348" y="81"/><use href="#st7" x="226" y="237"/><use href="#st8" x="202" y="214"/><use href="#st9" x="163" y="324"/><use href="#st2" x="276" y="255"/><use href="#st9" x="50" y="146"/><use href="#st9" x="282" y="62"/><use href="#st5" x="29" y="116"/><use href="#st1" x="113" y="380"/><use href="#st0" x="147" y="366"/><use href="#st4" x="69" y="288"/><use href="#st2" x="98" y="283"/><use href="#st8" x="130" y="226"/><use href="#st9" x="146" y="171"/><use href="#st2" x="56" y="366"/><use href="#st7" x="56" y="200"/><use href="#st3" x="201" y="167"/><use href="#st8" x="371" y="206"/><use href="#st4" x="136" y="188"/><use href="#st6" x="110" y="221"/><use href="#st4" x="34" y="239"/><use href="#st8" x="179" y="335"/><use href="#st5" x="114" y="256"/><use href="#st6" x="256" y="177"/><use href="#st6" x="151" y="94"/><use href="#st7" x="24" y="230"/><use href="#st1" x="185" y="317"/><use href="#st8" x="200" y="310"/><use href="#st6" x="77" y="63"/><use href="#st3" x="125" y="246"/><use href="#st4" x="43" y="232"/><use href="#st6" x="342" y="102"/><use href="#st1" x="163" y="295"/><use href="#st0" x="201" y="102"/><use href="#st1" x="81" y="338"/><use href="#st7" x="27" y="213"/><use href="#st7" x="109" y="347"/><use href="#st0" x="128" y="262"/><use href="#st7" x="280" y="233"/><use href="#st0" x="73" y="277"/><use href="#st2" x="255" y="158"/><use href="#st5" x="80" y="251"/><use href="#st3" x="198" y="131"/><use href="#st5" x="162" y="187"/><use href="#st9" x="116" y="316"/><use href="#st4" x="62" y="86"/><use href="#st6" x="104" y="241"/><use href="#st3" x="201" y="119"/><use href="#st0" x="360" y="193"/><use href="#st0" x="274" y="186"/><use href="#st7" x="272" y="169"/><use href="#st6" x="72" y="366"/><use href="#st0" x="142" y="74"/><use href="#st6" x="100" y="329"/><use href="#st7" x="60" y="135"/><use href="#st4" x="325" y="275"/><use href="#st9" x="102" y="92"/><use href="#st8" x="126" y="93"/><use href="#st8" x="222" y="187"/><use href="#st1" x="175" y="209"/><use href="#st6" x="360" y="126"/><use href="#st2" x="240" y="74"/><use href="#st3" x="164" y="355"/><use href="#st1" x="127" y="166"/><use href="#st1" x="361" y="138"/><use href="#st3" x="348" y="236"/><use href="#st6" x="215" y="176"/><use href="#st5" x="104" y="129"/><use href="#st9" x="247" y="190"/><use href="#st9" x="71" y="325"/><use href="#st7" x="307" y="180"/><use href="#st3" x="78" y="223"/><use href="#st5" x="231" y="219"/><use href="#st7" x="293" y="270"/><use href="#st2" x="41" y="159"/><use href="#st9" x="38" y="337"/><use href="#st1" x="308" y="157"/><use href="#st6" x="177" y="91"/><use href="#st1" x="185" y="132"/><use href="#st4" x="212" y="372"/><use href="#st3" x="312" y="67"/><use href="#st4" x="136" y="88"/><use href="#st5" x="382" y="169"/><use href="#st0" x="158" y="221"/><use href="#st6" x="312" y="104"/><use href="#st7" x="97" y="174"/><use href="#st1" x="169" y="277"/><use href="#st2" x="166" y="240"/><use href="#st0" x="325" y="255"/><use href="#st8" x="135" y="62"/><use href="#st2" x="279" y="142"/><use href="#st5" x="315" y="115"/><use href="#st7" x="64" y="312"/><use href="#st4" x="191" y="183"/><use href="#st8" x="323" y="99"/><use href="#st3" x="285" y="245"/><use href="#st1" x="204" y="184"/><use href="#st3" x="36" y="349"/><use href="#st9" x="351" y="250"/><use href="#st0" x="26" y="370"/><use href="#st8" x="339" y="260"/><use href="#st6" x="370" y="229"/><use href="#st1" x="146" y="157"/><use href="#st5" x="22" y="248"/><use href="#st3" x="150" y="106"/><use href="#st7" x="179" y="63"/><use href="#st1" x="199" y="266"/><use href="#st4" x="335" y="112"/><use href="#st1" x="335" y="148"/><use href="#st0" x="118" y="282"/><use href="#st2" x="41" y="68"/><use href="#st4" x="126" y="344"/><use href="#st1" x="255" y="208"/><use href="#st5" x="132" y="147"/><use href="#st7" x="213" y="273"/><use href="#st8" x="275" y="104"/><use href="#st7" x="68" y="212"/><use href="#st4" x="202" y="243"/><use href="#st8" x="248" y="102"/><use href="#st9" x="432" y="355"/><use href="#st2" x="442" y="331"/><use href="#st7" x="434" y="192"/><use href="#st7" x="410" y="185"/><use href="#st3" x="221" y="336"/><use href="#st5" x="386" y="219"/><use href="#st1" x="410" y="147"/><use href="#st6" x="296" y="366"/><use href="#st5" x="386" y="289"/><use href="#st1" x="230" y="278"/><use href="#st6" x="258" y="294"/><use href="#st4" x="282" y="385"/><use href="#st4" x="374" y="343"/><use href="#st7" x="263" y="358"/><use href="#st8" x="397" y="385"/><use href="#st9" x="192" y="361"/><use href="#st5" x="405" y="84"/><use href="#st2" x="413" y="265"/><use href="#st2" x="402" y="159"/><use href="#st4" x="397" y="194"/><use href="#st9" x="322" y="380"/><use href="#st4" x="362" y="355"/><use href="#st9" x="239" y="356"/><use href="#st3" x="410" y="223"/><use href="#st4" x="399" y="330"/><use href="#st4" x="349" y="306"/><use href="#st5" x="434" y="109"/><use href="#st4" x="349" y="373"/><use href="#st1" x="439" y="292"/><use href="#st7" x="330" y="191"/><use href="#st7" x="299" y="393"/><use href="#st5" x="437" y="227"/><use href="#st1" x="347" y="335"/><use href="#st1" x="374" y="319"/><use href="#st3" x="423" y="217"/><use href="#st1" x="432" y="151"/><use href="#st9" x="431" y="256"/><use href="#st5" x="363" y="263"/><use href="#st8" x="157" y="395"/><use href="#st8" x="328" y="363"/><use href="#st3" x="267" y="283"/><use href="#st3" x="243" y="307"/><use href="#st1" x="314" y="305"/><use href="#st5" x="273" y="318"/><use href="#st3" x="238" y="250"/><use href="#st8" x="420" y="321"/><use href="#st9" x="232" y="323"/><use href="#st2" x="270" y="378"/><use href="#st6" x="377" y="140"/><use href="#st1" x="409" y="286"/><use href="#st7" x="286" y="346"/><use href="#st0" x="387" y="76"/><use href="#st7" x="444" y="371"/><use href="#st7" x="185" y="397"/><use href="#st4" x="258" y="315"/><use href="#st8" x="344" y="286"/><use href="#st2" x="381" y="372"/><use href="#st6" x="268" y="331"/><use href="#st8" x="375" y="280"/><use href="#st0" x="371" y="90"/><use href="#st0" x="394" y="129"/><use href="#st9" x="325" y="223"/><use href="#st6" x="341" y="387"/><use href="#st8" x="217" y="218"/><use href="#st0" x="374" y="120"/><use href="#st2" x="305" y="335"/><use href="#st8" x="300" y="230"/><use href="#st0" x="423" y="395"/><use href="#st9" x="405" y="112"/><use href="#st4" x="331" y="292"/><use href="#st1" x="367" y="64"/><use href="#st1" x="368" y="385"/><use href="#st7" x="322" y="347"/><use href="#st6" x="284" y="219"/><use href="#st5" x="320" y="239"/><use href="#st0" x="143" y="384"/><use href="#st2" x="425" y="171"/><use href="#st7" x="377" y="358"/><use href="#st8" x="389" y="150"/><use href="#st8" x="437" y="165"/><use href="#st7" x="289" y="308"/><use href="#st4" x="331" y="65"/><use href="#st9" x="364" y="288"/><use href="#st2" x="385" y="392"/><use href="#st9" x="393" y="346"/><use href="#st6" x="256" y="397"/><use href="#st6" x="383" y="254"/><use href="#st6" x="94" y="379"/><use href="#st8" x="245" y="225"/><use href="#st9" x="392" y="308"/><use href="#st2" x="217" y="259"/><use href="#st1" x="209" y="388"/><use href="#st6" x="88" y="392"/><use href="#st8" x="333" y="329"/><use href="#st9" x="411" y="66"/><use href="#st2" x="250" y="381"/><use href="#st3" x="309" y="373"/><use href="#st8" x="425" y="71"/><use href="#st5" x="419" y="360"/><use href="#st3" x="437" y="91"/>
<circle cx="58.6" cy="92.6" r="2.6" fill="#119911"/>
<circle cx="96.9" cy="103.3" r="2.6" fill="#119911"/>
<circle cx="118.2" cy="128.8" r="2.6" fill="#119911"/>
<circle cx="186.4" cy="113.0" r="2.6" fill="#119911"/>
<circle cx="82.0" cy="190.6" r="2.6" fill="#119911"/>
<circle cx="58.6" cy="210.6" r="2.6" fill="#119911"/>
<circle cx="133.2" cy="205.5" r="2.6" fill="#119911"/>
<circle cx="145.9" cy="216.2" r="2.6" fill="#119911"/>
<circle cx="120.4" cy="246.0" r="2.6" fill="#119911"/>
<circle cx="180.0" cy="271.6" r="2.6" fill="#119911"/>
<circle cx="226.9" cy="283.5" r="2.6" fill="#119911"/>
<circle cx="233.3" cy="297.1" r="2.6" fill="#119911"/>
<circle cx="226.9" cy="316.3" r="2.6" fill="#119911"/>
<circle cx="148.1" cy="334.6" r="2.6" fill="#119911"/>
<circle cx="316.4" cy="131.0" r="2.6" fill="#119911"/>
<circle cx="367.5" cy="165.9" r="2.6" fill="#119911"/>
<circle cx="299.3" cy="297.1" r="2.6" fill="#119911"/>
<circle cx="205.6" cy="190.6" r="2.6" fill="#b5b51e"/>
<circle cx="209.9" cy="212.0" r="2.6" fill="#b5b51e"/>
<circle cx="199.2" cy="231.0" r="2.6" fill="#b5b51e"/>
<circle cx="173.6" cy="239.6" r="2.6" fill="#b5b51e"/>
<circle cx="150.2" cy="246.0" r="2.6" fill="#b5b51e"/>
<circle cx="150.2" cy="271.6" r="2.6" fill="#b5b51e"/>
<circle cx="137.4" cy="301.4" r="2.6" fill="#b5b51e"/>
<circle cx="163.0" cy="316.3" r="2.6" fill="#b5b51e"/>
<circle cx="180.0" cy="329.0" r="2.6" fill="#b5b51e"/>
<circle cx="122.5" cy="327.0" r="2.6" fill="#b5b51e"/>
<circle cx="99.1" cy="329.0" r="2.6" fill="#b5b51e"/>
<circle cx="92.7" cy="292.9" r="2.6" fill="#b5b51e"/>
<circle cx="88.4" cy="354.6" r="2.6" fill="#b5b51e"/>
<circle cx="214.1" cy="356.8" r="2.6" fill="#b5b51e"/>
<circle cx="265.2" cy="158.6" r="2.6" fill="#b5b51e"/>
<circle cx="205.6" cy="344.0" r="2.6" fill="#b5b51e"/>
<circle cx="172.0" cy="77.7" r="1.8" fill="#111"/>
<circle cx="197.0" cy="88.0" r="1.8" fill="#111"/>
<circle cx="265.0" cy="212.0" r="1.8" fill="#111"/>
<circle cx="273.0" cy="195.0" r="1.8" fill="#111"/>
<circle cx="280.0" cy="150.0" r="1.8" fill="#111"/>
<circle cx="300.0" cy="100.0" r="1.8" fill="#111"/>
<circle cx="250.0" cy="120.0" r="1.8" fill="#111"/>
<circle cx="355.0" cy="110.0" r="1.8" fill="#111"/>
<circle cx="358.0" cy="90.0" r="1.8" fill="#111"/>
<circle cx="362.0" cy="140.0" r="1.8" fill="#111"/>
<circle cx="290.0" cy="250.0" r="1.8" fill="#111"/>
<circle cx="270.0" cy="262.0" r="1.8" fill="#111"/>
<circle cx="345.0" cy="245.0" r="1.8" fill="#111"/>
<circle cx="360.0" cy="225.0" r="1.8" fill="#111"/>
<circle cx="430.0" cy="150.0" r="1.8" fill="#111"/>
<circle cx="335.0" cy="305.0" r="1.8" fill="#111"/>
<circle cx="212.0" cy="385.0" r="1.8" fill="#111"/>
<circle cx="95.0" cy="380.0" r="1.8" fill="#111"/>
<circle cx="140.0" cy="95.0" r="1.8" fill="#111"/>
<circle cx="160.0" cy="150.0" r="1.8" fill="#111"/>
<circle cx="200.0" cy="160.0" r="1.8" fill="#111"/>
<use href="#st5" x="260" y="217"/><use href="#st6" x="273" y="251"/><use href="#st4" x="284" y="243"/><use href="#st1" x="268" y="220"/><use href="#st9" x="274" y="263"/><use href="#st8" x="267" y="260"/><use href="#st6" x="271" y="239"/><use href="#st6" x="260" y="242"/><use href="#st9" x="274" y="227"/><use href="#st6" x="280" y="260"/><use href="#st6" x="266" y="234"/><use href="#st0" x="261" y="223"/><use href="#st0" x="261" y="249"/><use href="#st1" x="266" y="214"/><use href="#st0" x="285" y="257"/><use href="#st9" x="262" y="257"/><use href="#st7" x="280" y="250"/><use href="#st2" x="368" y="114"/><use href="#st0" x="367" y="120"/><use href="#st3" x="365" y="105"/><use href="#st5" x="356" y="104"/><use href="#st8" x="351" y="82"/><use href="#st1" x="357" y="97"/><use href="#st0" x="360" y="111"/><use href="#st6" x="348" y="92"/><use href="#st3" x="348" y="74"/><use href="#st5" x="362" y="143"/><use href="#st2" x="382" y="167"/><use href="#st8" x="363" y="159"/><use href="#st9" x="357" y="185"/><use href="#st5" x="375" y="163"/><use href="#st8" x="360" y="171"/><use href="#st2" x="381" y="159"/><use href="#st2" x="367" y="168"/><use href="#st1" x="374" y="156"/><use href="#st8" x="361" y="177"/><use href="#st8" x="349" y="244"/><use href="#st9" x="332" y="244"/><use href="#st0" x="322" y="256"/><use href="#st6" x="357" y="197"/><use href="#st6" x="354" y="216"/><use href="#st5" x="337" y="261"/><use href="#st4" x="364" y="220"/><use href="#st4" x="308" y="253"/><use href="#st9" x="369" y="226"/><use href="#st3" x="369" y="206"/><use href="#st4" x="343" y="255"/><use href="#st7" x="359" y="228"/><use href="#st2" x="357" y="250"/><use href="#st9" x="351" y="230"/><use href="#st9" x="325" y="264"/><use href="#st1" x="338" y="251"/><use href="#st7" x="367" y="238"/><use href="#st6" x="344" y="236"/><use href="#st5" x="305" y="265"/><use href="#st8" x="332" y="253"/><use href="#st4" x="355" y="236"/><use href="#st0" x="308" y="260"/><use href="#st9" x="348" y="250"/><use href="#st2" x="338" y="239"/><use href="#st1" x="363" y="248"/><use href="#st6" x="358" y="206"/><use href="#st5" x="368" y="195"/><use href="#st7" x="374" y="214"/><use href="#st2" x="358" y="242"/><use href="#st6" x="368" y="212"/><use href="#st7" x="318" y="265"/><use href="#st2" x="334" y="270"/><use href="#st4" x="304" y="299"/><use href="#st8" x="292" y="276"/><use href="#st0" x="297" y="280"/><use href="#st6" x="300" y="290"/><use href="#st0" x="304" y="286"/><use href="#st6" x="294" y="287"/><use href="#st8" x="297" y="297"/>
<clipPath id="hc1_0"><path d="M91.0,355.0C92.4,352.1 97.3,351.3 100.7,350.3C104.1,349.3 112.2,346.8 116.4,347.2C120.6,347.6 128.3,351.7 132.1,353.5C135.9,355.3 143.9,358.5 145.0,361.0C146.1,363.5 143.3,371.3 140.0,372.0C136.7,372.7 125.3,366.5 120.0,366.0C114.7,365.5 104.0,367.2 100.0,368.0C96.0,368.8 91.2,373.7 90.0,372.0C88.8,370.3 89.6,357.9 91.0,355.0Z"/></clipPath>
<g clip-path="url(#hc1_0)"><path d="M65.2,372.0l24.8,-24.8M69.4,372.0l24.8,-24.8M73.6,372.0l24.8,-24.8M77.8,372.0l24.8,-24.8M82.0,372.0l24.8,-24.8M86.2,372.0l24.8,-24.8M90.4,372.0l24.8,-24.8M94.6,372.0l24.8,-24.8M98.8,372.0l24.8,-24.8M103.0,372.0l24.8,-24.8M107.2,372.0l24.8,-24.8M111.4,372.0l24.8,-24.8M115.6,372.0l24.8,-24.8M119.8,372.0l24.8,-24.8M124.0,372.0l24.8,-24.8M128.2,372.0l24.8,-24.8M132.4,372.0l24.8,-24.8M136.6,372.0l24.8,-24.8M140.8,372.0l24.8,-24.8M145.0,372.0l24.8,-24.8" stroke="#7cbc7c" stroke-width="0.9" fill="none"/></g>
<path d="M91.0,355.0C92.4,352.1 97.3,351.3 100.7,350.3C104.1,349.3 112.2,346.8 116.4,347.2C120.6,347.6 128.3,351.7 132.1,353.5C135.9,355.3 143.9,358.5 145.0,361.0C146.1,363.5 143.3,371.3 140.0,372.0C136.7,372.7 125.3,366.5 120.0,366.0C114.7,365.5 104.0,367.2 100.0,368.0C96.0,368.8 91.2,373.7 90.0,372.0C88.8,370.3 89.6,357.9 91.0,355.0Z" stroke="#4aa64a" stroke-width="1.1" fill="none"/>
<clipPath id="hc1_1"><path d="M226.0,372.0C226.6,369.7 231.8,366.2 232.7,362.9C233.6,359.6 233.1,350.3 232.7,347.2C232.3,344.1 228.8,340.8 229.6,339.3C230.4,337.8 237.1,335.1 239.0,336.2C240.9,337.3 243.3,343.6 243.7,347.2C244.1,350.8 241.1,359.6 242.2,362.9C243.3,366.2 251.9,370.3 251.6,372.3C251.3,374.3 243.1,377.0 240.0,378.0C236.9,379.0 229.9,380.8 228.0,380.0C226.1,379.2 225.4,374.3 226.0,372.0Z"/></clipPath>
<g clip-path="url(#hc1_1)"><path d="M182.2,380.0l43.8,-43.8M186.4,380.0l43.8,-43.8M190.6,380.0l43.8,-43.8M194.8,380.0l43.8,-43.8M199.0,380.0l43.8,-43.8M203.2,380.0l43.8,-43.8M207.4,380.0l43.8,-43.8M211.6,380.0l43.8,-43.8M215.8,380.0l43.8,-43.8M220.0,380.0l43.8,-43.8M224.2,380.0l43.8,-43.8M228.4,380.0l43.8,-43.8M232.6,380.0l43.8,-43.8M236.8,380.0l43.8,-43.8M241.0,380.0l43.8,-43.8M245.2,380.0l43.8,-43.8M249.4,380.0l43.8,-43.8" stroke="#7cbc7c" stroke-width="0.9" fill="none"/></g>
<path d="M226.0,372.0C226.6,369.7 231.8,366.2 232.7,362.9C233.6,359.6 233.1,350.3 232.7,347.2C232.3,344.1 228.8,340.8 229.6,339.3C230.4,337.8 237.1,335.1 239.0,336.2C240.9,337.3 243.3,343.6 243.7,347.2C244.1,350.8 241.1,359.6 242.2,362.9C243.3,366.2 251.9,370.3 251.6,372.3C251.3,374.3 243.1,377.0 240.0,378.0C236.9,379.0 229.9,380.8 228.0,380.0C226.1,379.2 225.4,374.3 226.0,372.0Z" stroke="#4aa64a" stroke-width="1.1" fill="none"/>
<clipPath id="hc1_2"><path d="M251.6,372.3C251.6,371.4 264.6,371.3 270.5,369.2C276.4,367.1 288.1,358.5 295.6,356.6C303.1,354.7 318.7,355.6 327.1,355.0C335.5,354.4 350.1,353.4 358.5,351.9C366.9,350.4 377.9,346.9 390.0,344.0C402.1,341.1 441.1,330.9 449.0,330.0C456.9,329.1 456.9,334.2 449.0,337.0C441.1,339.8 402.1,348.1 390.0,351.0C377.9,353.9 366.9,357.5 358.5,359.0C350.1,360.5 335.5,361.2 327.1,362.0C318.7,362.8 303.1,363.1 295.6,365.0C288.1,366.9 276.4,375.0 270.5,376.0C264.6,377.0 251.6,373.2 251.6,372.3Z"/></clipPath>
<g clip-path="url(#hc1_2)"><path d="M205.6,376.0l46.0,-46.0M209.8,376.0l46.0,-46.0M214.0,376.0l46.0,-46.0M218.2,376.0l46.0,-46.0M222.4,376.0l46.0,-46.0M226.6,376.0l46.0,-46.0M230.8,376.0l46.0,-46.0M235.0,376.0l46.0,-46.0M239.2,376.0l46.0,-46.0M243.4,376.0l46.0,-46.0M247.6,376.0l46.0,-46.0M251.8,376.0l46.0,-46.0M256.0,376.0l46.0,-46.0M260.2,376.0l46.0,-46.0M264.4,376.0l46.0,-46.0M268.6,376.0l46.0,-46.0M272.8,376.0l46.0,-46.0M277.0,376.0l46.0,-46.0M281.2,376.0l46.0,-46.0M285.4,376.0l46.0,-46.0M289.6,376.0l46.0,-46.0M293.8,376.0l46.0,-46.0M298.0,376.0l46.0,-46.0M302.2,376.0l46.0,-46.0M306.4,376.0l46.0,-46.0M310.6,376.0l46.0,-46.0M314.8,376.0l46.0,-46.0M319.0,376.0l46.0,-46.0M323.2,376.0l46.0,-46.0M327.4,376.0l46.0,-46.0M331.6,376.0l46.0,-46.0M335.8,376.0l46.0,-46.0M340.0,376.0l46.0,-46.0M344.2,376.0l46.0,-46.0M348.4,376.0l46.0,-46.0M352.6,376.0l46.0,-46.0M356.8,376.0l46.0,-46.0M361.0,376.0l46.0,-46.0M365.2,376.0l46.0,-46.0M369.4,376.0l46.0,-46.0M373.6,376.0l46.0,-46.0M377.8,376.0l46.0,-46.0M382.0,376.0l46.0,-46.0M386.2,376.0l46.0,-46.0M390.4,376.0l46.0,-46.0M394.6,376.0l46.0,-46.0M398.8,376.0l46.0,-46.0M403.0,376.0l46.0,-46.0M407.2,376.0l46.0,-46.0M411.4,376.0l46.0,-46.0M415.6,376.0l46.0,-46.0M419.8,376.0l46.0,-46.0M424.0,376.0l46.0,-46.0M428.2,376.0l46.0,-46.0M432.4,376.0l46.0,-46.0M436.6,376.0l46.0,-46.0M440.8,376.0l46.0,-46.0M445.0,376.0l46.0,-46.0" stroke="#7cbc7c" stroke-width="0.9" fill="none"/></g>
<path d="M251.6,372.3C251.6,371.4 264.6,371.3 270.5,369.2C276.4,367.1 288.1,358.5 295.6,356.6C303.1,354.7 318.7,355.6 327.1,355.0C335.5,354.4 350.1,353.4 358.5,351.9C366.9,350.4 377.9,346.9 390.0,344.0C402.1,341.1 441.1,330.9 449.0,330.0C456.9,329.1 456.9,334.2 449.0,337.0C441.1,339.8 402.1,348.1 390.0,351.0C377.9,353.9 366.9,357.5 358.5,359.0C350.1,360.5 335.5,361.2 327.1,362.0C318.7,362.8 303.1,363.1 295.6,365.0C288.1,366.9 276.4,375.0 270.5,376.0C264.6,377.0 251.6,373.2 251.6,372.3Z" stroke="#4aa64a" stroke-width="1.1" fill="none"/>
<path d="M18.9,375.5C21.0,375.0 26.3,374.1 31.5,372.3C36.7,370.5 43.0,367.1 50.3,364.5C57.6,361.9 67.1,359.0 75.5,356.6C83.9,354.2 93.9,351.9 100.7,350.3C107.5,348.7 111.2,346.7 116.4,347.2C121.6,347.7 126.9,350.9 132.1,353.5C137.3,356.1 143.1,360.0 147.8,362.9C152.5,365.8 154.6,369.0 160.4,370.8C166.2,372.6 174.5,373.1 182.4,373.9C190.3,374.7 200.3,375.8 207.6,375.5C214.9,375.2 222.2,374.4 226.4,372.3C230.6,370.2 231.6,367.1 232.7,362.9C233.8,358.7 233.2,351.1 232.7,347.2C232.2,343.3 228.5,341.1 229.6,339.3C230.7,337.5 236.7,334.9 239.0,336.2C241.3,337.5 243.2,342.8 243.7,347.2C244.2,351.6 240.9,358.7 242.2,362.9C243.5,367.1 246.9,371.2 251.6,372.3C256.3,373.4 263.2,371.8 270.5,369.2C277.8,366.6 286.2,359.0 295.6,356.6C305.0,354.2 316.6,355.8 327.1,355.0C337.6,354.2 348.0,353.7 358.5,351.9C369.0,350.1 374.3,347.7 390.0,344.0C405.7,340.3 442.1,332.2 452.5,329.9" stroke="#4aa64a" stroke-width="1.2" fill="none"/>
</g>
<text x="0.0" y="89.2" class="r" font-weight="bold" font-size="15" fill="#2323e6" text-anchor="middle" transform="translate(101.6,0) scale(0.95,1) translate(0.0,0)">H</text>
<text x="101.6" y="97.0" class="s" font-size="6.2" fill="#2323e6" text-anchor="middle">1036</text>
<text x="0.0" y="203.2" class="r" font-weight="bold" font-size="15" fill="#e02020" text-anchor="middle" transform="translate(141.0,0) scale(0.95,1) translate(0.0,0)">L</text>
<text x="141.0" y="211.0" class="s" font-size="6.2" fill="#e02020" text-anchor="middle">1018</text>
<text x="0.0" y="300.2" class="r" font-weight="bold" font-size="15" fill="#e02020" text-anchor="middle" transform="translate(66.5,0) scale(0.95,1) translate(0.0,0)">L</text>
<text x="66.5" y="308.0" class="s" font-size="6.2" fill="#e02020" text-anchor="middle">1004</text>
<text x="0.0" y="357.2" class="r" font-weight="bold" font-size="15" fill="#2323e6" text-anchor="middle" transform="translate(186.6,0) scale(0.95,1) translate(0.0,0)">H</text>
<text x="186.6" y="365.0" class="s" font-size="6.2" fill="#2323e6" text-anchor="middle">1016</text>
<text x="0.0" y="195.2" class="r" font-weight="bold" font-size="15" fill="#2323e6" text-anchor="middle" transform="translate(314.0,0) scale(0.95,1) translate(0.0,0)">H</text>
<text x="314.0" y="203.0" class="s" font-size="6.2" fill="#2323e6" text-anchor="middle">1026</text>
<text x="0.0" y="381.2" class="r" font-weight="bold" font-size="15" fill="#e02020" text-anchor="middle" transform="translate(43.0,0) scale(0.95,1) translate(0.0,0)">L</text>
<text x="43.0" y="389.0" class="s" font-size="6.2" fill="#e02020" text-anchor="middle">1006</text>
</g>
<rect x="17.7" y="58.0" width="429.3" height="341.4" fill="none" stroke="#7a7a7a" stroke-width="1.4"/>
<rect x="10.0" y="50.5" width="445.4" height="355.5" fill="none" stroke="#6a6a6a" stroke-width="2"/>
<rect x="379.5" y="58" width="67.5" height="36.5" fill="#fff" stroke="#888" stroke-width="0.8"/>
<rect x="380" y="83.5" width="66.5" height="10.5" fill="#fde2e2"/>
<text x="381" y="70.3" class="r" font-weight="bold" font-size="13.5" fill="#3434ee" textLength="64.5" lengthAdjust="spacingAndGlyphs">ASFE&#160;&#160;&#160;KMA</text>
<text x="381" y="81.4" class="s" font-weight="bold" font-size="10.5" fill="#3c3cee" textLength="64.5" lengthAdjust="spacingAndGlyphs">1900UTC MAR 2021</text>
<text x="381" y="92.8" class="s" font-weight="bold" font-size="10.2" fill="#f03030" textLength="64.5" lengthAdjust="spacingAndGlyphs">SURFACE PRESSURE(hPa)</text>
<text x="23" y="395.5" class="r" font-weight="bold" font-size="15" fill="#1010ee" textLength="31" lengthAdjust="spacingAndGlyphs">DFS</text>
<text x="10.0" y="49.3" class="s" font-size="9.2" fill="#4a4ae2" textLength="64.5" lengthAdjust="spacingAndGlyphs">00UTC 19 MAR</text>
<path d="M10.0,50.2H74.5" stroke="#6a6ae6" stroke-width="0.8"/>
<text x="113.0" y="49.3" class="s" font-size="9.2" fill="#4a4ae2" textLength="77.0" lengthAdjust="spacingAndGlyphs">&lt;ST 19 MAR 2021)</text>
<path d="M113.0,50.2H190.0" stroke="#6a6ae6" stroke-width="0.8"/>
<text x="10.0" y="414.5" class="s" font-size="9.2" fill="#4a4ae2" textLength="168.0" lengthAdjust="spacingAndGlyphs">Korea Meteorological Administration(KMA)</text>
<text x="276.5" y="414.5" class="s" font-size="9.2" fill="#4a4ae2" textLength="177.5" lengthAdjust="spacingAndGlyphs">00UTC 19 MAR 2021 (09KST 19 MAR 2021)</text>
<text x="65.5" y="55.8" class="s" font-size="3.6" fill="#777" text-anchor="middle">100</text>
<text x="124.7" y="55.8" class="s" font-size="3.6" fill="#777" text-anchor="middle">100</text>
<text x="178.8" y="55.8" class="s" font-size="3.6" fill="#777" text-anchor="middle">100</text>
<text x="231.7" y="55.8" class="s" font-size="3.6" fill="#777" text-anchor="middle">100</text>
<text x="283.0" y="55.8" class="s" font-size="3.6" fill="#777" text-anchor="middle">100</text>
<text x="332.4" y="55.8" class="s" font-size="3.6" fill="#777" text-anchor="middle">150</text>
<text x="386.1" y="55.8" class="s" font-size="3.6" fill="#777" text-anchor="middle">150</text>
<text x="440.0" y="55.8" class="s" font-size="3.6" fill="#777" text-anchor="middle">150</text>
<text x="109.8" y="405.3" class="s" font-size="3.6" fill="#777" text-anchor="middle">100</text>
<text x="297.8" y="405.3" class="s" font-size="3.6" fill="#777" text-anchor="middle">100</text>
<text x="392.0" y="405.3" class="s" font-size="3.6" fill="#777" text-anchor="middle">150</text>
<text x="13.5" y="151.3" class="s" font-size="3.6" fill="#777" text-anchor="middle">100</text>
<text x="13.5" y="261.3" class="s" font-size="3.6" fill="#777" text-anchor="middle">100</text>
<text x="13.5" y="371.3" class="s" font-size="3.6" fill="#777" text-anchor="middle">100</text>
<text x="451.0" y="101.3" class="s" font-size="3.6" fill="#777" text-anchor="middle">150</text>
<text x="451.0" y="211.3" class="s" font-size="3.6" fill="#777" text-anchor="middle">150</text>
<text x="451.0" y="331.3" class="s" font-size="3.6" fill="#777" text-anchor="middle">150</text>
<text x="0" y="28.5" class="r" font-size="26.5" fill="#1a1a1a" transform="translate(15.3,0) scale(1.05,1)">(b)</text>
</g>
<g transform="translate(934.9,0)">
<g clip-path="url(#mapclip)"><g filter="url(#soft)">
<use href="#geo"/>
<path d="M335.9 211l3.1-2.6 2.2-4.9 0.5-6 -1.3-6 -2.9-5.7 -4.5-5 -6-3.4 -3-0.4 -1.5 0.4 -1.9 2.1 -0.8 6 1.1 7.5 2.3 7.5 2.3 4.8 3 3.9 3 2 1.5 0.3 2.9-0.5M336.9 227.5l3.6-1.5 4.5-3.8 3.3-5.2 2.1-6 1-6 -0.2-7.5 -1.5-7.5 -2.3-6 -3.9-6.7 -4.5-5.7 -6-5.8 -7.5-5.7 -7.5-4.6 -7.5-3.2 -6-0.8 -3.8 1 -2.2 1.7 -1.4 2.8 -0.2 3 0.6 3 10.3 22.5 11 30 3.7 6.3 4.5 4.2 4.5 1.8 5.4-0.3M341 238l5.5-3 4.6-4.5 3.5-6 2.8-9 1-9 -0.5-9 -1.9-9 -3.5-9.1 -5.3-8.9 -6.7-8.3 -9-8.6 -9-6.6 -9-4.8 -7.5-2.2 -7.5-0.2 -6 1.8 -4.5 3.3 -3 4.6 -1.2 6 0.9 6 3.3 7.3 9.1 13.7 5 9 12.9 34.6 4.5 6.9 3 2.8 3 1.8 3 1.2 4.5 0.6 4.5-0.4 3.5-1M339.7 257.5l11.3-2 7.5-3.3 3-2.3 2.6-2.9 3.7-7.5 1.4-6 1-9 0-18 -2.2-15 -4.9-15 -6.1-12.4 -9-13.5 -9-10 -9-6.9 -10.5-5.1 -12-3 -10.5-0.3 -6 1.1 -4.5 1.5 -4.5 2.3 -5.2 4.3 -3.5 4.5 -2.9 6 -1.5 6 -0.3 6 0.7 6 2.2 7 4.4 8 11.3 15 5.3 8.9 4.3 10.6 7.2 22.5 2.7 6 3.8 5.7 6 5.6 6 3.1 7.5 1.9 9.7 0.2M39.9 406l2.7-6 0.4-3 -0.3-4.5 -2.2-6.6 -4.5-6 -6-4 -4.5-1.3 -3-0.1 -3 0.5 -3 1.3 -4.5 4.4M12 401.9l2.9 4.1M349.2 266.5l10.8-1.1 4.5-1.4 3.4-2 3.1-3 2.5-3.9 1.5-3.6 1.4-6 0.7-7.5 -0.1-10.5 -0.8-15 -1.1-10.5 -1.7-9 -2.3-9 -6.4-16.5 -7.7-14.7 -7.5-11.2 -7.8-8.6 -8.7-6.3 -6-2.8 -6-2.1 -13.5-2.6 -7.5-0.2 -6 0.5 -6 1.4 -4.5 1.7 -6 3.3 -6 5.4 -4.4 6.2 -2.5 6 -1.7 7.5 -0.2 9 1.6 9 2.7 7.5 4.3 7.5 10.7 14.1 5.1 8.4 3.9 9 8.4 25.5 3.8 7.5 4.3 5.8 7.5 6.2 9 3.9 10.5 1.9 14.7 0.2M51.6 406l1.1-7.5 -1.3-9 -3.9-9 -5.5-7 -7.5-5.8 -7.5-3.2 -7.5-0.9 -4.5 0.7 -3 1M368.2 283l3.8-1.6 3-3 3-4.8 3-6.6 3.4-12.5 0.6-7.5 -0.2-7.5 -3.5-31.5 -3.9-19.5 -3.2-10.5 -3.9-10.5 -10.7-22.5 -7.1-11.4 -7.3-8.1 -7.7-5.4 -9-3.7 -13.5-2.8 -15-0.7 -12 1.9 -10.5 4.3 -5.1 3.4 -4.8 4.5 -3.6 4.6 -3.2 5.9 -2.1 6 -1.4 7.5 -0.3 7.5 0.6 7.5 2.5 10.5 3.8 9 4.6 7.5 9.7 13.5 4.9 9 9.5 27 4.1 9 3.9 6 5.4 5.9 6 4.6 6 3.1 9 3 22 4.4 14 4.1 5.2 0.4M60.1 406l0.2-9 -2.5-10.5 -4.3-9 -7-9 -7.5-6.3 -9-4.7 -9-2.4 -9 0M12 93.3l3.5-41.3M374.1 332.5l5.4-2.5 4.5-4.4 4.1-6.6 2.8-7.5 1.9-9 2.3-21 3.2-21 0.6-12 -2.1-16.5 -7.7-37.5 -7.1-24 -12.4-36 -5.9-12 -6.7-9.3 -7.5-6.5 -9-4.6 -6-1.7 -7.5-1.2 -18-0.6 -15 1.7 -7.5 1.9 -6 2.2 -6 2.8 -6 3.7 -9 7.7 -6.1 8.4 -2.2 4.5 -2.2 6.4 -2.1 13.1 0.3 16.5 2.7 16.5 5.1 15.9 13.9 29.1 12.2 30 5.1 9 6.3 8.2 6 5.8 7.5 5.7 22.5 12.5 7.5 4.9 6 5.2 13.5 14 6 4.8 6 3.1 3 0.6 3.6-0.3M75.8 406l-1.6-10.5 -4.3-12 -6.7-12 -7.7-9.7 -9-8.1 -9.7-6.2 -12.8-5.7 -12-3.5M12 112.9l6.9-60.9M379.7 374.5l3.1-3 1.5-3 0.6-3 0.1-4.5 -1.6-10.5 0.5-4.5 10.3-19.5 2.3-6 2-7.5 1.5-10.5 1.8-22.5 2.7-19.5 0.5-10.5 -1.7-15 -6.7-31.5 -20.1-71.1 -5.8-14.4 -6.4-10.5 -4.3-5.1 -4.3-3.9 -9.2-5.6 -10.5-3.1 -7.5-1 -7.5-0.2 -18 1.4 -13.5 3.1 -9 3.5 -7.5 3.8 -7.5 4.8 -6 4.7 -5.1 5.1 -3.9 5.2 -3 5.3 -2.4 6 -1.9 7.5 -1 7.5 -0.4 9 0.4 10.5 2.7 21 5.6 21.4 19.8 58.1 4.9 10.5 5.9 9 6.9 7.6 9 7.6 10.5 7.1 25.5 15.6 22.6 17.6 4.4 4.5 1.8 3 1.2 4.5 1 12 3 6 3.5 3 3 1.1 3 0 3.2-1.1M84.5 406l-3.1-12 -5.4-12 -8.4-13.5 -8.6-10.5 -8-7.3 -9.2-6.2 -11.8-6.2 -18-7.6M12 132.5l3.9-34 6.7-46.5M382 382l3.5-2.1 2.4-2.4 3.3-6 1.4-6 1.9-16.5 8.2-22.5 3.2-15 1.8-28.5 2.7-22.5 0.4-10.5 -1.6-15 -6-27 -12.7-45 -6.5-30.6 -3-11.2 -6-15.3 -7.5-12.8 -6-6.9 -6-5 -6-3.6 -7.5-3 -9-1.9 -9-0.5 -10.5 0.7 -9 1.7 -10.5 3.7 -10.5 5.6 -16.5 11 -10.5 8.3 -7 7.3 -5 7.2 -3.6 7.8 -2.3 9 -1.2 9 -0.3 10.5 0.4 12 1.2 13.5 3.4 21 7.8 34.5 3.2 16.5 2.4 18 2.6 28.5 1.8 10.5 1.4 4.5 2.7 4.9 4.2 4.1 4.8 2.7 21 7.1 33 9 7.5 2.9 7.5 3.8 6 4.2 3.1 3.3 2.9 4.7 5.3 11.8 5.2 6.7 4.5 3.1 4.5 1.6 4.5 0.2 4-1.1M95.6 406l-5.2-12 -8.8-15 -10.7-15 -9.3-10.5 -6.8-6 -8.7-6 -34.1-18.3M12 170l5.3-47.5 2.9-21 5.3-28 5.4-21.5M212.5 52l9.5 10.7 15.3 13.3 2.7 3.7 1.4 3.8 0.1 3 -0.9 4.5 -7.3 18 -2.8 9 -1.9 10.5 -0.7 10.5 0.1 13.5 1 18 6.9 66 0.8 24 -0.7 12 -1.7 12 -2.6 12 -4.1 13.5 -4.7 12 -5.9 12 -6.3 10.5 -6.5 9 -9.2 10.3 -9 8.1 -9 6.4 -10.5 5.8 -10.5 4 -10.5 2.4 -10.5 0.5 -10.5-1.5 -10.5-3.7 -6-3.2 -6-4 -10.5-9 -18.4-19.1 -8.4-7.5 -10.7-7.3 -19.7-10.7 -8.8-5.4 -7.5-5.7 -6-6.1M448.5 406l-6-4.4 -4.5-4.2 -4.5-5.1 -4.2-5.8 -5.9-12 -2-6 -1.5-7.5 -0.7-13.5 1.9-31.5 -0.7-30 2.1-27 -0.1-12 -1.7-12 -3.3-15 -4-15 -9.6-31.5 -3.9-19.5 -6-60 0-12 2-30M329.6 406l-5.6-1.5 -6.3-3 -4.2-3 -3.7-4.5 -1.4-4.5 1.1-4.5 2.4-3 4.5-3 7.6-2.3 4.5-0.2 4.5 0.5 6 2.5 3 2.2 3 3.2 3 4.6 1.1 3 0.4 3 -0.4 3 -1.1 2.2 -2.1 2.3 -2.4 1.6 -4.1 1.4M12 183.5l3.2-20.5 4.3-40.3 3.2-21.2 5.8-26.4 7.4-23.1M202.1 52l21.4 27 3.3 6 1.2 4.5 -0.2 9 -4.1 25.5 -0.5 16.5 1.9 33 4.9 58.5 0.7 18 -0.4 13.5 -1.2 12 -1.9 10.5 -3.1 12 -4.2 12 -4.7 10.5 -5.2 9.1 -6 8.6 -9 10.2 -9 7.9 -10.5 7.1 -12 6.3 -12 4.3 -10.5 2.1 -10.5 0.6 -10.5-1.3 -10.5-3.4 -9-4.9 -9-6.9 -15.4-14.2 -9.3-7.5 -8.3-5.3 -21-11.1 -9-5.7 -9.3-7.9 -3.9-4.5 -3.3-4.9M453 364.9l-6.3-5.4 -5.7-7.4 -3.8-7.6 -2.8-9 -3.9-23.2 -2.6-20.3 -0.3-12 1.2-24 -1.3-15 -5.2-24 -12.5-40.5 -3.8-18 -1.1-12 -2-48 1.2-13.5 5-33M12 196.9l4.9-29.4 4.8-43.5 3.8-22.8 3.4-14.7 4.1-14 4.5-12 4-8.5M193.1 52l20 27 4 7.5 2.1 7.5 0.5 7.5 -1.2 22.5 0.2 15 6.7 99 0.1 13.5 -0.7 13.5 -1.6 12 -2.5 12 -3.6 12 -4.3 10.5 -4.8 9 -6.1 9 -8.4 9.5 -9 7.6 -10.5 6.8 -12 5.9 -12 4.2 -10.5 2.2 -10.5 0.6 -10.5-1.2 -9-2.7 -9-4.5 -7.5-5.2 -15.7-12.7 -8.6-6 -7.8-4.5 -20.4-10.2 -9-5.7 -6.2-5.1 -5.5-6 -4.1-6 -3.7-7.8M453 331.8l-4.5-6.2 -4.2-8.1 -3.5-9 -3.1-10.5 -2.3-15 -0.2-28.5 -1.9-15 -6.2-25.5 -12.5-39 -3.3-16.5 -0.8-12 -0.5-36 0.3-10.5 1.8-13.5 7.2-34.5M175 52l11.3 12 11.1 15 5.6 10.5 2.2 6 1.5 6 1.2 9 5.1 60 2.7 46.5 0.7 31.5 -0.6 12 -1.4 12 -3.5 16.5 -5.7 15 -7.2 12.3 -9 10.1 -6 5 -6 4 -7.5 4.1 -9 4 -15 4.5 -7.5 1.3 -7.5 0.4 -12-1.3 -12-3.9 -7.5-3.8 -24.1-14.2 -26.8-12 -8.2-4.5 -8.4-6.6 -7.1-8.4 -4.9-9 -3.5-10.5 -2.1-10.5 -1-10.5 -0.3-13.5 0.6-13.5 2.4-21 6.5-40.5 3.8-34.5 2.3-15 4.8-20.6 6-16.9 7.5-14.5 4.5-6.4 5.4-6.1M453 271.4l-3.6-19.9 -3.3-13.5 -7.2-24 -13.1-36 -2.6-10.5 -1.5-10.5 -0.3-10.5 0.8-31.5 1.2-15 3.2-15 10.6-33M164.4 52l6.6 5.2 6 5.6 6.4 7.2 5.8 7.5 4.8 7.5 3.1 6 2.3 6 2 7.5 1.7 10.5 4.5 39 2.7 33 1.9 51 -0.2 15 -1.1 13.5 -2.9 16.5 -5 15 -6.5 12 -4.5 5.8 -4.5 4.7 -10.5 8.1 -7.5 4.1 -7.5 3.4 -15 4.7 -7.5 1.3 -7.5 0.5 -12-1.1 -12-3.7 -30-15.2 -27-11.1 -9-4.7 -9-7.2 -6-7.5 -4.7-9.1 -3.8-12 -1.8-10.5 -0.9-10.5 -0.1-13.5 0.7-13.5 2.3-19.5 6.3-39 3.9-34.5 2.6-15 3-12 3-9.5 3.4-8.5 4.1-8.3 4.5-7.2 4.5-5.9 6-6.4 6.3-5.2M453 235.1l-8.2-22.6 -13.6-34.5 -3-12 -1.3-12 1.2-40.5 1.8-15 2.1-8.9 3-9.1 11.6-28.5M150.4 52l7.1 3.7 7.5 5 7.4 6.3 6.1 6.4 5.6 7.1 4.9 7.6 3.6 7.4 3.1 9 2.3 10.5 3.2 21 4.3 37.6 2.4 50.9 0.2 18 -0.6 15 -2.2 18 -4 15 -3.2 7.5 -3.1 5.7 -7.5 9.7 -4.5 4.3 -6 4.4 -7.5 4.3 -7.5 3.3 -15 4.7 -7.5 1.3 -7.5 0.3 -10.5-1 -10.5-3 -32.3-14.5 -26.2-9.7 -9-4.7 -8.1-6.6 -6.8-9 -4.8-10.5 -3.1-12 -1.4-10.5 -0.6-10.5 0.1-12 0.9-13.5 2.3-18 5.9-36 4.1-34.5 4-19.6 3.2-10.4 4.3-10.4 4.5-8.5 4.5-6.8 6-7.2 6-5.7 7.5-5.6 6.5-3.8M453 214.4l-12-25.8 -4.6-12.1 -3-12 -1.1-13.5 1.8-37.5 2.2-15 2.6-9 3.6-9.1 4.5-9.2 6-10.6M139.5 323.6l-10.5-0.2 -10.5-2.2 -29.3-11.2 -30.7-9.3 -9.9-4.2 -8.1-6.1 -6-7.7 -4.7-10.2 -3.1-12 -1.3-10.5 -0.4-10.5 0.3-12 1.2-13.5 2.1-15 6.3-36 4.2-31.5 2.1-10.5 2.6-9 4.1-10.5 4.6-8.7 6-8.8 6-7 7.5-6.9 7.5-5.1 7.5-3.5 7.5-1.9 7.5-0.8 10.5 0.3 13.5 1.5 10.5 2.1 7.5 2.4 7.5 3.3 7.5 4.6 6 4.7 5.8 5.8 4.7 5.9 3.9 6.1 3.7 7.5 5.3 16.5 5.9 28.5 2.3 16.5 1.6 18 1.5 54 -0.2 15 -0.8 12 -1.6 10.5 -2.1 8.4 -3.1 8.1 -4.4 7.8 -4.6 5.7 -6.7 6 -8.2 5.1 -9 3.9 -10.5 3.2 -9 1.4M453 183.4l-4-8.4 -2.4-7.5 -1.5-7.5 -0.5-9 0.5-10.5 2.6-27 2.3-10.5 3-7.7M141 317.6l-9 0 -9-1.7 -30-11 -31.7-8.4 -10.3-4 -7.5-5.3 -6-7.3 -4.5-9.5 -3-11.4 -1.3-10.5 -0.3-10.5 0.4-12 1.2-12 2.7-18 6.5-34.5 4.3-30 3.7-15 3.4-9 4.5-9 5.8-9 6.1-7.5 6.1-6 6.4-4.8 6-3.1 7.5-2.2 7.5-0.8 7.5 0.5 15 2.3 12 2.6 7.5 2.3 6 2.6 6 3.4 6.4 4.7 5.6 5.4 4.5 5.6 4.3 7 2.9 6 6.3 18.7 5.4 23.3 2.4 15 1.6 16.5 1.4 49.5 -0.5 28.5 -1.2 10.5 -2 9 -3.3 9 -3.8 6.7 -4.5 5.6 -6 5.4 -7.5 4.7 -7.5 3.4 -9 2.8 -9 1.5M453 159l-0.5-8 0.5-9.3M142.5 311.6l-9 0 -7.5-1.4 -30-11.1 -12-3.2 -21-4.6 -9-3 -7.5-4.8 -5.6-6.5 -3.9-7.5 -3.1-10.5 -1.3-9 -0.5-10.5 0.3-12 1.2-12 3.2-19.5 7.5-36 4.5-28.5 2.9-12 3.3-9 3.6-7.5 5.4-9 5-6.7 4.9-5.3 5.6-4.6 6-3.4 6-2.1 6-0.7 7.5 0.5 28.5 7 7.5 2.5 6 2.7 6 3.5 4.5 3.5 4.5 4.4 3.8 4.7 6.9 12 7.3 19.3 5.3 19.7 2.1 12 1.5 12 1.3 27 0.5 51 -0.9 12 -2.1 10.5 -2.6 7.5 -3.1 6 -4.6 6 -4.9 4.7 -6 4 -7.5 3.7 -9 2.9 -7.5 1.3M142.5 299.5l-6-0.2 -6-1.1 -6-2 -18-7.9 -9-3.2 -12-3.1 -21-3.9 -7.5-2.5 -5-3.1 -4-4.3 -3-5.3 -2.3-6.9 -1.3-7.5 -0.5-9 0.5-10.5 1.4-10.5 5.3-25.5 11.3-37.5 1.5-9 1.7-18 2.4-12 4.6-12 6.4-10.5 3.5-3.9 4.5-3.6 3-1.7 4.5-1.6 7.5-0.2 4.5 1 4.5 1.9 31.5 18.7 9 6.8 9 10.2 7.5 11.7 6 12.5 4.5 14.4 2.6 14.8 1.3 16.5 1.3 61.5 -0.5 9 -1.3 7.5 -1.9 6.1 -2.9 5.9 -3.3 4.5 -4.3 4.2 -4.7 3.3 -6.1 3 -7.2 2.2 -6 0.8M150 292l-9 1.2 -9-1.2 -7.5-2.7 -18-8.6 -10.5-4.1 -12-3.5 -22.5-5.2 -4.5-2.4 -3-2.6 -3-4.1 -2.3-5.8 -1.4-7.5 -0.3-7.5 0.9-10.5 1.8-10.5 3.7-15 3.6-12.1 10.6-25.4 2.4-9 0.4-7.5 -0.9-19.5 0.6-7.5 1.2-6 3.1-9 4.4-7.5 5.2-5.5 6-3.4 4.5-0.8 6 0.9 5.8 2.8 5.6 4.5 17.1 20.1 4.5 3.8 15 10.6 7.5 7.4 7.1 10.6 5 12 2.8 12 1.5 13.5 0.3 34.5 2.1 30 -0.6 12 -1.3 6 -1.6 4.5 -4.8 7.7 -3 3.1 -4.5 3.3 -4.5 2.3 -4.5 1.6M145.5 286.1l-7.5 0.1 -9-2.3 -31.5-16.3 -12-4.9 -18-6.4 -3.3-1.8 -2.7-2.3 -2.6-3.7 -1.2-3 -1-6 0.2-7.5 1.6-8.8 3-10.8 7.5-21.5 11.7-21.9 2.5-7.5 0.2-4.5 -0.7-4.5 -4.6-15 -1.6-7.5 -0.3-7.5 0.9-7.5 2.4-7.3 3-5.1 4.5-4.6 4.5-2.1 3-0.4 4.5 0.9 3.7 2.1 3.3 3 3.3 4.5 3 6 5.6 19.5 2.9 6 2.2 2.3 3 1.9 15 5.3 7.5 4.6 4.5 4.6 3 4.3 2.7 5.5 2.1 6 2.4 13.5 0.1 33 0.8 9 3.6 22.5 0.1 12 -2.5 9 -1.8 3.4 -3 3.9 -6.1 4.7 -4.4 2 -4.5 1.1M142.5 263.8l-3 1 -3-0.4 -3-1.4 -2.8-2.5 -1.9-3 -0.8-3 0.4-3 2.1-2.6 3-1 3 0.2 3 1.2 3 2.5 1.8 2.7 0.9 4.5 -0.9 3 -1.8 1.8" stroke="#9494ea" stroke-width="0.95" fill="none" stroke-linejoin="round"/>
<path d="M339.3 248.5l8.7-2.7 6-4 4.5-5.4 3.7-8.9 2.1-12 0.1-12 -1.8-12 -4.1-12.5 -6-11.5 -7.5-10.3 -9-9.5 -9.2-7.2 -8.8-4.8 -10.5-3.3 -9-0.5 -4.5 0.6 -4.5 1.4 -4 2.1 -3.6 3 -3.4 4.5 -2 4.5 -0.9 4.5 -0.1 4.5 0.6 4.5 2.1 6 3.8 6.7 10.5 14.3 4.3 7.5 4.4 10.5 7.8 23.4 2.4 5.1 2.9 4.5 5.2 5.1 6 3.1 6 1.2 7.8-0.4M12 62.5l0.3-10.5M373.1 314.5l3.4-1.5 3-3 2.4-4.5 1.6-4.5 8-40.5 0.8-7.5 0-7.5 -1.2-10.5 -3.8-24 -4.5-21 -7.1-22.5 -11-27 -6.2-11.5 -6.1-8 -7.4-6.3 -9-4.5 -6-1.7 -7.5-1.3 -18-1 -13.5 1.6 -6 1.6 -6 2.4 -9 5.3 -7.5 7 -5.8 8.9 -3.2 9 -1.7 12 0.6 13.5 2.6 13 4.5 11.9 16.5 28.2 10.1 26.4 3.4 7.5 4.5 7.5 4.8 6 7.2 6.5 7.5 4.6 7.5 3.4 16.5 6 6.8 3.5 6.7 5.3 10 11.2 3.5 3.3 4.5 2.4 4.1 0.3M67.9 406l-0.8-10.5 -3.1-10.5 -5.4-10.5 -7.6-9.7 -7.7-6.8 -10.3-6.1 -10.5-3.9 -10.5-1.6M12 153.5l3-30.2 2.8-21.8 4.1-25.5 4.7-24M227.7 52l4.8 3.6 4.5 2.4 18 6.6 4.8 2.4 2.7 2.2 1.5 2.2 0.8 4.6 -1.3 4.5 -2.7 4.5 -14.8 17.6 -6.1 9.4 -4.4 10.7 -2.5 13.3 -0.5 18 1.5 24 2.5 21 5.8 37.5 1.8 19.5 -0.2 21 -2.9 21 -6.4 24 -10.5 28.5 -11.1 25 -16 30.5M258.6 406l-0.9-9 0.7-7.5 2.3-7.5 3.4-6 5.6-6 6.3-4.3 7.5-3.4 9-2.4 13.5-1.9 13.5-0.6 10.5 1 7.5 2.2 4.5 2.4 4.5 3.6 10.7 13.9 7.3 7.3 7.5 4.8 7.5 2.3 6-0.2 3-1.2 3-2 3-3 2.4-3.5 3.3-7.5 1.8-7.5 2.8-18 5.7-22.5 2.1-12 0.7-9 0.6-25.5 2.7-25.5 -0.2-12 -1.8-12 -4.3-19.5 -14-49.5 -2.3-12 -5.1-33 -13.1-51 -3.5-16.5M114.8 406l-17.3-18.5 -26-31 -9.1-9 -10-7.5 -28.4-15.9 -12-8.4M12 213.4l7.5-47.4 5-43.5 3.8-21 4-15 4.7-13.5 5-10.8 6.2-10.2M184.3 52l11 13.5 9.5 13.5 4.7 9 2.4 7.5 1.2 9 0.9 30 6 84 0.8 19.5 -0.1 15 -1 13.5 -2 13.5 -2.9 12 -4.4 12 -5.2 10.5 -6.1 9 -7.1 8 -9 7.5 -10.5 6.5 -13.5 6.2 -12 3.7 -10.5 1.8 -10.5 0.2 -10.5-1.7 -7.5-2.6 -6-2.9 -29-19.2 -8.3-4.5 -21.2-10 -10.5-6.7 -7.5-7 -5.8-7.8 -4.4-9 -3.3-11.6M453 304.4l-4.5-8.3 -3-8.8 -1.8-10.3 -2-25.5 -2.4-13.5 -6.9-25.5 -12.3-36 -2.1-9 -1.4-9 -0.6-13.5 0.3-34.5 0.7-10.5 2.4-13.5 9-34.5M114.3 52l11.7 1 9 1.6 9 2.6 7.5 3.2 7.5 4.3 7.5 5.6 6.1 5.7 6.3 7.5 7.4 12 3.1 7.5 2.3 7.5 5.8 30 3.7 28.5 2.1 37.5 0.5 43.5 -1.9 21 -1.8 9 -2.8 9 -3.8 8.3 -4.5 7 -6 6.6 -6 4.9 -9 5.2 -9 3.9 -10.5 3.1 -9 1.5 -12 0 -12-2.7 -33-13.3 -28.1-9.5 -9.4-4.7 -4.5-3.4 -4-3.9 -3.5-4.5 -3-5.1 -4.5-11.7 -2.8-14.7 -0.8-10.5 -0.1-12 2.2-25.9 6.9-41.6 5.1-39.3 3-13.3 4.5-13.1 4.5-9.5 6-9.6 7.5-9 7.5-6.9 7.5-5.2 9-4.4 9-2.5 10.2-1.2M453 198.4l-7.5-14.4 -4-10.5 -2.5-10.5 -0.9-12 2.1-34.5 1.6-12 4.1-13.5 2.8-6 4.3-7.4M142.5 305.6l-7.3-0.1 -6.2-1.1 -7.5-2.4 -15-6.4 -9-3.2 -12-3 -22.5-4.3 -7.5-2.5 -6-3.7 -4.7-4.9 -4.1-7.5 -2.8-9 -1.4-9 -0.4-10.5 0.5-10.5 1.4-12 4-21.6 8.7-35.4 4.6-28.5 2.6-10.5 5.9-15 4.2-7.5 4.3-6 4.2-4.7 4.5-3.8 4.5-2.8 6-2.1 4.5-0.6 4.5 0.2 9 2.2 31.5 12.2 6 3.2 6 4.5 7.5 8.3 7.5 12.5 7.5 17.6 5.2 17.8 3.2 19.5 1.2 21 0.8 57 -0.7 10.5 -1.7 9 -2 6.2 -3 6.1 -4.2 5.7 -4.8 4.6 -6 4 -6 2.9 -7.5 2.4 -7.5 1.2M97.5 139.2l-1.5 0.3 -3-0.5 -4.5-3.2 -3-4.6 -2.1-7.2 0.2-7.5 1.9-5.9 3-4 4.5-2.3 4.5 1 3 2.5 3 5.3 1.5 6.4 0 6 -1.5 6.6 -3 5.1 -3 2M147 277.5l-6 0.9 -6-0.7 -6-2.3 -7.4-4.4 -9.9-7.5 -21.7-18 -5.2-6 -2.6-6 -0.2-6 1.5-6 10.4-27 3.6-7 4.5-5.7 6-5.1 6-3.3 7.5-2.5 9-0.8 3 0.4 4.1 1.5 2.2 1.5 2.9 3 1.8 3 1.5 4.5 0.8 7.5 -1.6 16.5 0.5 7.5 2.1 7.5 9.7 22.5 1.6 6 0.6 6 -0.5 6 -2.4 6 -3.8 4.6 -6 3.4" stroke="#6060e2" stroke-width="1.5" fill="none" stroke-linejoin="round"/>
<g class="s" font-size="5.6" font-weight="bold" fill="#5555e4" text-anchor="middle"><text transform="translate(320.6,192.9) rotate(81)">1006</text><text transform="translate(293.6,143.1) rotate(-16)">1008</text><text transform="translate(283.3,177.7) rotate(54)">1010</text><text transform="translate(276.9,128.3) rotate(-42)">1012</text><text transform="translate(334.2,120.6) rotate(22)">1014</text><text transform="translate(50.0,374.8) rotate(52)">1014</text><text transform="translate(271.6,214.8) rotate(60)">1016</text><text transform="translate(334.1,102.1) rotate(9)">1016</text><text transform="translate(66.9,361.3) rotate(49)">1018</text><text transform="translate(391.9,392.9) rotate(-45)">1020</text><text transform="translate(162.9,387.3) rotate(-21)">1022</text><text transform="translate(343.5,385.1) rotate(46)">1022</text><text transform="translate(227.4,202.9) rotate(85)">1022</text><text transform="translate(225.1,260.4) rotate(-87)">1024</text><text transform="translate(182.5,341.1) rotate(-32)">1024</text><text transform="translate(416.2,125.9) rotate(-89)">1024</text><text transform="translate(429.8,174.3) rotate(76)">1028</text><text transform="translate(121.9,95.9) rotate(31)">1036</text><text transform="translate(69.4,159.7) rotate(-75)">1038</text><text transform="translate(86.8,214.6) rotate(-69)">1040</text></g>
<use href="#st5" x="123" y="244"/><use href="#st7" x="255" y="126"/><use href="#st3" x="190" y="350"/><use href="#st9" x="306" y="83"/><use href="#st4" x="40" y="323"/><use href="#st6" x="222" y="303"/><use href="#st7" x="189" y="330"/><use href="#st7" x="177" y="74"/><use href="#st6" x="114" y="385"/><use href="#st9" x="200" y="341"/><use href="#st9" x="170" y="258"/><use href="#st0" x="120" y="175"/><use href="#st5" x="306" y="117"/><use href="#st9" x="111" y="341"/><use href="#st7" x="135" y="104"/><use href="#st6" x="59" y="330"/><use href="#st1" x="203" y="201"/><use href="#st0" x="41" y="268"/><use href="#st8" x="182" y="258"/><use href="#st3" x="276" y="73"/><use href="#st5" x="133" y="293"/><use href="#st3" x="204" y="303"/><use href="#st5" x="131" y="164"/><use href="#st9" x="27" y="201"/><use href="#st9" x="155" y="188"/><use href="#st5" x="289" y="82"/><use href="#st5" x="219" y="290"/><use href="#st7" x="280" y="155"/><use href="#st0" x="31" y="82"/><use href="#st0" x="182" y="321"/><use href="#st4" x="78" y="230"/><use href="#st6" x="123" y="125"/><use href="#st9" x="297" y="95"/><use href="#st3" x="158" y="174"/><use href="#st3" x="94" y="175"/><use href="#st8" x="117" y="103"/><use href="#st4" x="200" y="236"/><use href="#st0" x="145" y="252"/><use href="#st9" x="24" y="378"/><use href="#st8" x="116" y="312"/><use href="#st0" x="73" y="144"/><use href="#st2" x="28" y="312"/><use href="#st0" x="235" y="142"/><use href="#st9" x="244" y="201"/><use href="#st8" x="70" y="104"/><use href="#st8" x="171" y="128"/><use href="#st2" x="123" y="154"/><use href="#st4" x="43" y="153"/><use href="#st0" x="283" y="236"/><use href="#st1" x="51" y="389"/><use href="#st6" x="88" y="86"/><use href="#st8" x="161" y="103"/><use href="#st8" x="40" y="216"/><use href="#st5" x="180" y="228"/><use href="#st8" x="217" y="144"/><use href="#st6" x="136" y="260"/><use href="#st8" x="34" y="171"/><use href="#st8" x="218" y="103"/><use href="#st1" x="332" y="251"/><use href="#st9" x="186" y="239"/><use href="#st2" x="64" y="357"/><use href="#st1" x="369" y="176"/><use href="#st7" x="33" y="101"/><use href="#st8" x="67" y="313"/><use href="#st9" x="48" y="171"/><use href="#st6" x="181" y="141"/><use href="#st9" x="198" y="252"/><use href="#st3" x="101" y="152"/><use href="#st4" x="274" y="258"/><use href="#st3" x="135" y="331"/><use href="#st2" x="158" y="321"/><use href="#st9" x="319" y="131"/><use href="#st1" x="258" y="223"/><use href="#st0" x="101" y="298"/><use href="#st4" x="58" y="93"/><use href="#st9" x="183" y="88"/><use href="#st4" x="75" y="169"/><use href="#st7" x="54" y="207"/><use href="#st5" x="63" y="377"/><use href="#st7" x="261" y="238"/><use href="#st4" x="237" y="82"/><use href="#st2" x="99" y="278"/><use href="#st7" x="98" y="360"/><use href="#st8" x="327" y="262"/><use href="#st7" x="149" y="125"/><use href="#st8" x="51" y="302"/><use href="#st6" x="174" y="151"/><use href="#st7" x="45" y="108"/><use href="#st8" x="163" y="197"/><use href="#st1" x="86" y="260"/><use href="#st9" x="69" y="296"/><use href="#st6" x="272" y="111"/><use href="#st2" x="360" y="244"/><use href="#st7" x="149" y="350"/><use href="#st0" x="35" y="126"/><use href="#st8" x="286" y="129"/><use href="#st2" x="69" y="157"/><use href="#st9" x="79" y="327"/><use href="#st5" x="233" y="68"/><use href="#st9" x="316" y="107"/><use href="#st3" x="49" y="129"/><use href="#st7" x="107" y="116"/><use href="#st6" x="222" y="85"/><use href="#st0" x="110" y="226"/><use href="#st6" x="218" y="316"/><use href="#st0" x="175" y="197"/><use href="#st8" x="178" y="349"/><use href="#st2" x="105" y="132"/><use href="#st9" x="291" y="109"/><use href="#st0" x="93" y="226"/><use href="#st0" x="156" y="73"/><use href="#st7" x="123" y="75"/><use href="#st3" x="33" y="385"/><use href="#st3" x="124" y="192"/><use href="#st4" x="149" y="146"/><use href="#st1" x="60" y="269"/><use href="#st0" x="94" y="74"/><use href="#st7" x="162" y="363"/><use href="#st5" x="166" y="222"/><use href="#st6" x="151" y="265"/><use href="#st6" x="187" y="174"/><use href="#st6" x="96" y="310"/><use href="#st7" x="197" y="139"/><use href="#st8" x="168" y="337"/><use href="#st0" x="228" y="114"/><use href="#st5" x="219" y="353"/><use href="#st1" x="104" y="326"/><use href="#st2" x="111" y="293"/><use href="#st9" x="353" y="219"/><use href="#st1" x="70" y="70"/><use href="#st3" x="58" y="218"/><use href="#st6" x="305" y="296"/><use href="#st9" x="69" y="342"/><use href="#st1" x="210" y="189"/><use href="#st5" x="330" y="88"/><use href="#st3" x="50" y="236"/><use href="#st7" x="146" y="236"/><use href="#st4" x="39" y="312"/><use href="#st4" x="220" y="128"/><use href="#st6" x="82" y="211"/><use href="#st5" x="142" y="188"/><use href="#st5" x="34" y="187"/><use href="#st3" x="363" y="162"/><use href="#st2" x="28" y="273"/><use href="#st0" x="205" y="175"/><use href="#st2" x="344" y="251"/><use href="#st5" x="196" y="313"/><use href="#st2" x="255" y="156"/><use href="#st7" x="48" y="335"/><use href="#st8" x="277" y="201"/><use href="#st1" x="289" y="160"/><use href="#st4" x="228" y="156"/><use href="#st3" x="56" y="139"/><use href="#st1" x="71" y="274"/><use href="#st1" x="24" y="157"/><use href="#st8" x="217" y="159"/><use href="#st2" x="42" y="141"/><use href="#st2" x="83" y="365"/><use href="#st6" x="190" y="65"/><use href="#st1" x="248" y="190"/><use href="#st0" x="205" y="123"/><use href="#st5" x="83" y="105"/><use href="#st7" x="179" y="110"/><use href="#st0" x="320" y="167"/><use href="#st7" x="335" y="240"/><use href="#st2" x="107" y="261"/><use href="#st9" x="74" y="197"/><use href="#st5" x="159" y="232"/><use href="#st6" x="330" y="145"/><use href="#st2" x="224" y="240"/><use href="#st1" x="209" y="269"/><use href="#st8" x="111" y="87"/><use href="#st8" x="175" y="163"/><use href="#st1" x="179" y="209"/><use href="#st8" x="142" y="72"/><use href="#st2" x="256" y="101"/><use href="#st0" x="275" y="90"/><use href="#st1" x="148" y="158"/><use href="#st5" x="49" y="356"/><use href="#st7" x="50" y="65"/><use href="#st6" x="62" y="283"/><use href="#st1" x="159" y="279"/><use href="#st2" x="123" y="340"/><use href="#st8" x="120" y="219"/><use href="#st8" x="268" y="184"/><use href="#st0" x="334" y="130"/><use href="#st0" x="378" y="168"/><use href="#st0" x="160" y="145"/><use href="#st2" x="110" y="164"/><use href="#st3" x="261" y="144"/><use href="#st9" x="165" y="307"/><use href="#st8" x="84" y="162"/><use href="#st9" x="169" y="275"/><use href="#st6" x="317" y="250"/><use href="#st8" x="219" y="366"/><use href="#st2" x="206" y="150"/><use href="#st1" x="169" y="177"/><use href="#st5" x="136" y="232"/><use href="#st4" x="204" y="161"/><use href="#st3" x="343" y="231"/><use href="#st8" x="334" y="112"/><use href="#st1" x="310" y="94"/><use href="#st1" x="96" y="339"/><use href="#st5" x="241" y="172"/><use href="#st5" x="198" y="94"/><use href="#st1" x="304" y="144"/><use href="#st5" x="32" y="71"/><use href="#st7" x="360" y="122"/><use href="#st9" x="234" y="95"/><use href="#st1" x="245" y="161"/><use href="#st8" x="222" y="64"/><use href="#st4" x="42" y="288"/><use href="#st4" x="367" y="227"/><use href="#st0" x="260" y="198"/><use href="#st6" x="43" y="197"/><use href="#st2" x="99" y="95"/><use href="#st6" x="367" y="194"/><use href="#st3" x="137" y="136"/><use href="#st8" x="192" y="222"/><use href="#st8" x="107" y="194"/><use href="#st4" x="74" y="261"/><use href="#st6" x="89" y="293"/><use href="#st3" x="167" y="247"/><use href="#st5" x="125" y="136"/><use href="#st5" x="119" y="364"/><use href="#st1" x="108" y="179"/><use href="#st4" x="299" y="261"/><use href="#st5" x="74" y="120"/><use href="#st6" x="156" y="244"/><use href="#st2" x="93" y="62"/><use href="#st1" x="248" y="65"/><use href="#st1" x="254" y="89"/><use href="#st1" x="304" y="130"/><use href="#st0" x="141" y="284"/><use href="#st9" x="160" y="211"/><use href="#st6" x="169" y="236"/><use href="#st3" x="386" y="156"/><use href="#st2" x="95" y="187"/><use href="#st3" x="22" y="122"/><use href="#st9" x="286" y="142"/><use href="#st3" x="72" y="185"/><use href="#st8" x="269" y="228"/><use href="#st8" x="107" y="74"/><use href="#st5" x="160" y="119"/><use href="#st0" x="323" y="275"/><use href="#st5" x="27" y="245"/><use href="#st5" x="127" y="351"/><use href="#st0" x="46" y="371"/><use href="#st0" x="360" y="94"/><use href="#st6" x="204" y="287"/><use href="#st1" x="188" y="131"/><use href="#st1" x="271" y="212"/><use href="#st9" x="269" y="166"/><use href="#st4" x="188" y="200"/><use href="#st1" x="129" y="320"/><use href="#st3" x="134" y="85"/><use href="#st3" x="117" y="328"/><use href="#st8" x="58" y="194"/><use href="#st1" x="105" y="211"/><use href="#st7" x="82" y="138"/><use href="#st0" x="139" y="359"/><use href="#st5" x="95" y="107"/><use href="#st1" x="202" y="70"/><use href="#st5" x="264" y="69"/><use href="#st8" x="129" y="114"/><use href="#st6" x="149" y="312"/><use href="#st9" x="88" y="148"/><use href="#st9" x="105" y="235"/><use href="#st7" x="124" y="232"/><use href="#st9" x="180" y="298"/><use href="#st4" x="193" y="189"/><use href="#st4" x="31" y="356"/><use href="#st2" x="309" y="160"/><use href="#st0" x="273" y="125"/><use href="#st0" x="140" y="172"/><use href="#st0" x="288" y="65"/><use href="#st8" x="192" y="113"/><use href="#st6" x="211" y="247"/><use href="#st3" x="64" y="175"/><use href="#st7" x="317" y="149"/><use href="#st5" x="23" y="141"/><use href="#st9" x="245" y="110"/><use href="#st0" x="165" y="91"/><use href="#st9" x="181" y="185"/><use href="#st3" x="234" y="123"/><use href="#st1" x="373" y="207"/><use href="#st7" x="308" y="281"/><use href="#st4" x="73" y="91"/><use href="#st4" x="22" y="346"/><use href="#st9" x="288" y="173"/><use href="#st5" x="23" y="365"/><use href="#st9" x="230" y="201"/><use href="#st6" x="255" y="179"/><use href="#st2" x="63" y="249"/><use href="#st3" x="31" y="335"/><use href="#st2" x="98" y="164"/><use href="#st9" x="164" y="347"/><use href="#st6" x="170" y="63"/><use href="#st1" x="121" y="394"/><use href="#st2" x="303" y="176"/><use href="#st4" x="53" y="318"/><use href="#st1" x="119" y="262"/><use href="#st1" x="318" y="83"/><use href="#st2" x="85" y="242"/><use href="#st8" x="30" y="227"/><use href="#st8" x="153" y="203"/><use href="#st7" x="137" y="221"/><use href="#st5" x="170" y="325"/><use href="#st7" x="319" y="119"/><use href="#st5" x="245" y="150"/><use href="#st5" x="149" y="294"/><use href="#st4" x="145" y="87"/><use href="#st3" x="146" y="110"/><use href="#st4" x="219" y="174"/><use href="#st5" x="45" y="84"/><use href="#st1" x="263" y="252"/><use href="#st7" x="207" y="109"/><use href="#st4" x="338" y="97"/><use href="#st5" x="154" y="334"/><use href="#st6" x="86" y="275"/><use href="#st5" x="118" y="278"/><use href="#st4" x="317" y="65"/><use href="#st7" x="356" y="105"/><use href="#st4" x="31" y="112"/><use href="#st8" x="26" y="295"/><use href="#st4" x="63" y="82"/><use href="#st5" x="187" y="100"/><use href="#st1" x="117" y="203"/><use href="#st7" x="63" y="394"/><use href="#st7" x="64" y="234"/><use href="#st5" x="402" y="241"/><use href="#st4" x="378" y="329"/><use href="#st5" x="430" y="277"/><use href="#st8" x="366" y="395"/><use href="#st2" x="306" y="346"/><use href="#st6" x="264" y="322"/><use href="#st7" x="189" y="383"/><use href="#st8" x="351" y="301"/><use href="#st8" x="404" y="260"/><use href="#st3" x="248" y="293"/><use href="#st6" x="428" y="346"/><use href="#st7" x="407" y="279"/><use href="#st3" x="413" y="322"/><use href="#st0" x="248" y="233"/><use href="#st5" x="318" y="324"/><use href="#st8" x="234" y="350"/><use href="#st2" x="378" y="346"/><use href="#st8" x="199" y="395"/><use href="#st0" x="153" y="381"/><use href="#st9" x="283" y="383"/><use href="#st5" x="444" y="71"/><use href="#st1" x="346" y="353"/><use href="#st5" x="373" y="81"/><use href="#st6" x="301" y="363"/><use href="#st0" x="412" y="108"/><use href="#st1" x="399" y="354"/><use href="#st2" x="420" y="236"/><use href="#st6" x="178" y="369"/><use href="#st1" x="342" y="313"/><use href="#st2" x="390" y="307"/><use href="#st5" x="380" y="284"/><use href="#st9" x="420" y="146"/><use href="#st1" x="367" y="304"/><use href="#st0" x="252" y="358"/><use href="#st2" x="444" y="102"/><use href="#st0" x="431" y="318"/><use href="#st7" x="405" y="152"/><use href="#st5" x="251" y="273"/><use href="#st3" x="210" y="378"/><use href="#st3" x="344" y="386"/><use href="#st9" x="415" y="380"/><use href="#st4" x="298" y="318"/><use href="#st1" x="93" y="384"/><use href="#st7" x="298" y="212"/><use href="#st0" x="436" y="240"/><use href="#st7" x="393" y="213"/><use href="#st1" x="440" y="173"/><use href="#st4" x="415" y="251"/><use href="#st0" x="274" y="309"/><use href="#st5" x="384" y="227"/><use href="#st7" x="363" y="262"/><use href="#st1" x="388" y="192"/><use href="#st2" x="256" y="393"/><use href="#st1" x="249" y="332"/><use href="#st6" x="444" y="256"/><use href="#st4" x="319" y="374"/><use href="#st6" x="388" y="70"/><use href="#st1" x="334" y="376"/><use href="#st9" x="354" y="144"/><use href="#st2" x="337" y="72"/><use href="#st6" x="339" y="187"/><use href="#st7" x="269" y="292"/><use href="#st3" x="439" y="210"/><use href="#st5" x="433" y="195"/><use href="#st1" x="400" y="123"/><use href="#st5" x="139" y="395"/><use href="#st0" x="314" y="391"/><use href="#st6" x="425" y="161"/><use href="#st6" x="383" y="396"/><use href="#st2" x="429" y="224"/><use href="#st8" x="444" y="375"/><use href="#st4" x="265" y="279"/><use href="#st2" x="381" y="138"/><use href="#st6" x="427" y="123"/><use href="#st6" x="411" y="364"/><use href="#st4" x="390" y="271"/><use href="#st7" x="405" y="391"/><use href="#st7" x="224" y="386"/><use href="#st0" x="412" y="303"/><use href="#st4" x="287" y="298"/><use href="#st9" x="324" y="194"/><use href="#st6" x="379" y="243"/><use href="#st6" x="338" y="327"/><use href="#st7" x="441" y="126"/><use href="#st6" x="325" y="222"/><use href="#st5" x="300" y="383"/><use href="#st9" x="362" y="352"/><use href="#st7" x="365" y="283"/><use href="#st4" x="408" y="223"/><use href="#st8" x="282" y="368"/><use href="#st6" x="173" y="385"/><use href="#st5" x="393" y="171"/><use href="#st6" x="385" y="102"/><use href="#st7" x="260" y="343"/><use href="#st4" x="237" y="323"/><use href="#st4" x="235" y="376"/><use href="#st7" x="283" y="329"/><use href="#st5" x="434" y="140"/><use href="#st0" x="385" y="364"/><use href="#st4" x="424" y="75"/>
<circle cx="234.9" cy="116.0" r="2.6" fill="#119911"/>
<circle cx="290.3" cy="128.8" r="2.6" fill="#119911"/>
<circle cx="315.9" cy="131.0" r="2.6" fill="#119911"/>
<circle cx="264.7" cy="158.6" r="2.6" fill="#119911"/>
<circle cx="292.4" cy="162.9" r="2.6" fill="#119911"/>
<circle cx="264.7" cy="184.2" r="2.6" fill="#119911"/>
<circle cx="298.8" cy="182.1" r="2.6" fill="#119911"/>
<circle cx="324.4" cy="167.2" r="2.6" fill="#119911"/>
<circle cx="337.2" cy="148.0" r="2.6" fill="#119911"/>
<circle cx="388.3" cy="165.0" r="2.6" fill="#119911"/>
<circle cx="354.2" cy="177.8" r="2.6" fill="#119911"/>
<circle cx="371.3" cy="214.0" r="2.6" fill="#119911"/>
<circle cx="341.4" cy="237.5" r="2.6" fill="#119911"/>
<circle cx="354.0" cy="237.5" r="2.6" fill="#119911"/>
<circle cx="362.7" cy="239.6" r="2.6" fill="#119911"/>
<circle cx="371.3" cy="237.5" r="2.6" fill="#119911"/>
<circle cx="324.4" cy="258.8" r="2.6" fill="#119911"/>
<circle cx="315.9" cy="271.6" r="2.6" fill="#119911"/>
<circle cx="290.3" cy="271.6" r="2.6" fill="#119911"/>
<circle cx="290.3" cy="284.3" r="2.6" fill="#119911"/>
<circle cx="303.0" cy="297.1" r="2.6" fill="#119911"/>
<circle cx="298.8" cy="282.2" r="2.6" fill="#119911"/>
<circle cx="92.2" cy="293.7" r="2.6" fill="#119911"/>
<circle cx="119.9" cy="299.3" r="2.6" fill="#119911"/>
<circle cx="147.6" cy="334.6" r="2.6" fill="#119911"/>
<circle cx="226.4" cy="316.3" r="2.6" fill="#119911"/>
<circle cx="230.7" cy="297.1" r="2.6" fill="#119911"/>
<circle cx="234.9" cy="354.6" r="2.6" fill="#119911"/>
<circle cx="177.4" cy="363.2" r="2.6" fill="#119911"/>
<circle cx="30.4" cy="122.4" r="2.6" fill="#b5b51e"/>
<circle cx="256.2" cy="214.0" r="2.6" fill="#b5b51e"/>
<circle cx="256.2" cy="260.9" r="2.6" fill="#b5b51e"/>
<circle cx="209.4" cy="288.6" r="2.6" fill="#b5b51e"/>
<circle cx="230.7" cy="305.0" r="2.6" fill="#b5b51e"/>
<circle cx="177.4" cy="303.5" r="2.6" fill="#b5b51e"/>
<circle cx="122.0" cy="324.8" r="2.6" fill="#b5b51e"/>
<circle cx="41.0" cy="367.4" r="2.6" fill="#b5b51e"/>
<circle cx="60.0" cy="95.0" r="1.8" fill="#111"/>
<circle cx="115.0" cy="75.0" r="1.8" fill="#111"/>
<circle cx="172.0" cy="77.0" r="1.8" fill="#111"/>
<circle cx="205.0" cy="105.0" r="1.8" fill="#111"/>
<circle cx="290.0" cy="100.0" r="1.8" fill="#111"/>
<circle cx="300.0" cy="115.0" r="1.8" fill="#111"/>
<circle cx="320.0" cy="140.0" r="1.8" fill="#111"/>
<circle cx="350.0" cy="120.0" r="1.8" fill="#111"/>
<circle cx="355.0" cy="85.0" r="1.8" fill="#111"/>
<circle cx="370.0" cy="130.0" r="1.8" fill="#111"/>
<circle cx="270.0" cy="230.0" r="1.8" fill="#111"/>
<circle cx="275.0" cy="250.0" r="1.8" fill="#111"/>
<circle cx="300.0" cy="300.0" r="1.8" fill="#111"/>
<circle cx="310.0" cy="305.0" r="1.8" fill="#111"/>
<circle cx="210.0" cy="330.0" r="1.8" fill="#111"/>
<circle cx="220.0" cy="360.0" r="1.8" fill="#111"/>
<circle cx="240.0" cy="372.0" r="1.8" fill="#111"/>
<circle cx="260.0" cy="365.0" r="1.8" fill="#111"/>
<circle cx="350.0" cy="300.0" r="1.8" fill="#111"/>
<circle cx="400.0" cy="100.0" r="1.8" fill="#111"/>
<circle cx="60.0" cy="360.0" r="1.8" fill="#111"/>
<circle cx="75.0" cy="390.0" r="1.8" fill="#111"/>
<circle cx="260.0" cy="200.0" r="1.8" fill="#111"/>
<circle cx="245.0" cy="175.0" r="1.8" fill="#111"/>
<use href="#st8" x="274" y="234"/><use href="#st4" x="266" y="251"/><use href="#st7" x="269" y="222"/><use href="#st5" x="261" y="212"/><use href="#st5" x="276" y="245"/><use href="#st9" x="273" y="258"/><use href="#st7" x="260" y="237"/><use href="#st8" x="281" y="240"/><use href="#st9" x="263" y="242"/><use href="#st4" x="265" y="231"/><use href="#st6" x="269" y="212"/><use href="#st8" x="285" y="252"/><use href="#st1" x="264" y="260"/><use href="#st8" x="280" y="259"/><use href="#st2" x="261" y="225"/><use href="#st8" x="271" y="241"/><use href="#st7" x="273" y="252"/><use href="#st8" x="361" y="131"/><use href="#st3" x="367" y="121"/><use href="#st6" x="362" y="110"/><use href="#st3" x="346" y="84"/><use href="#st1" x="365" y="140"/><use href="#st7" x="348" y="77"/><use href="#st9" x="354" y="94"/><use href="#st8" x="368" y="111"/><use href="#st7" x="366" y="134"/><use href="#st4" x="353" y="86"/><use href="#st3" x="378" y="162"/><use href="#st0" x="370" y="175"/><use href="#st6" x="357" y="183"/><use href="#st7" x="380" y="171"/><use href="#st1" x="365" y="165"/><use href="#st2" x="390" y="158"/><use href="#st3" x="362" y="170"/><use href="#st8" x="363" y="181"/><use href="#st3" x="384" y="164"/><use href="#st4" x="333" y="245"/><use href="#st9" x="369" y="208"/><use href="#st9" x="354" y="224"/><use href="#st6" x="366" y="243"/><use href="#st2" x="356" y="214"/><use href="#st9" x="343" y="253"/><use href="#st9" x="327" y="261"/><use href="#st6" x="356" y="240"/><use href="#st2" x="353" y="253"/><use href="#st7" x="315" y="256"/><use href="#st3" x="366" y="200"/><use href="#st9" x="363" y="219"/><use href="#st0" x="360" y="207"/><use href="#st8" x="348" y="230"/><use href="#st6" x="306" y="254"/><use href="#st8" x="343" y="241"/><use href="#st8" x="329" y="255"/><use href="#st5" x="365" y="228"/><use href="#st5" x="322" y="256"/><use href="#st9" x="367" y="237"/><use href="#st9" x="318" y="264"/><use href="#st3" x="300" y="265"/><use href="#st6" x="334" y="261"/><use href="#st2" x="351" y="245"/><use href="#st2" x="373" y="202"/><use href="#st9" x="358" y="198"/><use href="#st0" x="360" y="250"/><use href="#st0" x="360" y="233"/><use href="#st0" x="322" y="249"/><use href="#st4" x="340" y="235"/><use href="#st7" x="373" y="219"/><use href="#st0" x="333" y="272"/><use href="#st5" x="303" y="275"/><use href="#st2" x="299" y="283"/><use href="#st4" x="297" y="272"/><use href="#st1" x="300" y="290"/><use href="#st7" x="301" y="298"/><use href="#st9" x="308" y="280"/><use href="#st1" x="309" y="271"/>
<clipPath id="hc2_0"><path d="M244.0,400.0C235.7,396.4 253.3,378.6 258.0,373.0C262.7,367.4 273.4,362.9 279.0,358.0C284.6,353.1 295.9,340.7 300.0,336.0C304.1,331.3 307.9,323.8 310.0,323.0C312.1,322.2 315.7,326.4 316.0,330.0C316.3,333.6 313.5,345.3 312.0,350.0C310.5,354.7 303.9,361.3 305.0,365.0C306.1,368.7 316.0,377.1 320.0,378.0C324.0,378.9 332.3,374.4 335.0,372.0C337.7,369.6 340.4,358.3 340.0,360.0C339.6,361.7 334.7,379.7 332.0,385.0C329.3,390.3 331.7,398.0 320.0,400.0C308.3,402.0 252.3,403.6 244.0,400.0Z"/></clipPath>
<g clip-path="url(#hc2_0)"><path d="M167.0,400.0l77.0,-77.0M171.2,400.0l77.0,-77.0M175.4,400.0l77.0,-77.0M179.6,400.0l77.0,-77.0M183.8,400.0l77.0,-77.0M188.0,400.0l77.0,-77.0M192.2,400.0l77.0,-77.0M196.4,400.0l77.0,-77.0M200.6,400.0l77.0,-77.0M204.8,400.0l77.0,-77.0M209.0,400.0l77.0,-77.0M213.2,400.0l77.0,-77.0M217.4,400.0l77.0,-77.0M221.6,400.0l77.0,-77.0M225.8,400.0l77.0,-77.0M230.0,400.0l77.0,-77.0M234.2,400.0l77.0,-77.0M238.4,400.0l77.0,-77.0M242.6,400.0l77.0,-77.0M246.8,400.0l77.0,-77.0M251.0,400.0l77.0,-77.0M255.2,400.0l77.0,-77.0M259.4,400.0l77.0,-77.0M263.6,400.0l77.0,-77.0M267.8,400.0l77.0,-77.0M272.0,400.0l77.0,-77.0M276.2,400.0l77.0,-77.0M280.4,400.0l77.0,-77.0M284.6,400.0l77.0,-77.0M288.8,400.0l77.0,-77.0M293.0,400.0l77.0,-77.0M297.2,400.0l77.0,-77.0M301.4,400.0l77.0,-77.0M305.6,400.0l77.0,-77.0M309.8,400.0l77.0,-77.0M314.0,400.0l77.0,-77.0M318.2,400.0l77.0,-77.0M322.4,400.0l77.0,-77.0M326.6,400.0l77.0,-77.0M330.8,400.0l77.0,-77.0M335.0,400.0l77.0,-77.0M339.2,400.0l77.0,-77.0" stroke="#7cbc7c" stroke-width="0.9" fill="none"/></g>
<path d="M244.0,400.0C235.7,396.4 253.3,378.6 258.0,373.0C262.7,367.4 273.4,362.9 279.0,358.0C284.6,353.1 295.9,340.7 300.0,336.0C304.1,331.3 307.9,323.8 310.0,323.0C312.1,322.2 315.7,326.4 316.0,330.0C316.3,333.6 313.5,345.3 312.0,350.0C310.5,354.7 303.9,361.3 305.0,365.0C306.1,368.7 316.0,377.1 320.0,378.0C324.0,378.9 332.3,374.4 335.0,372.0C337.7,369.6 340.4,358.3 340.0,360.0C339.6,361.7 334.7,379.7 332.0,385.0C329.3,390.3 331.7,398.0 320.0,400.0C308.3,402.0 252.3,403.6 244.0,400.0Z" stroke="#4aa64a" stroke-width="1.1" fill="none"/>
<clipPath id="hc2_1"><path d="M327.0,330.0C328.3,323.1 332.3,312.4 337.0,310.0C341.7,307.6 354.5,311.3 362.0,312.0C369.5,312.7 381.7,313.8 393.0,315.0C404.3,316.2 439.8,318.6 447.0,321.0C454.2,323.4 454.2,332.3 447.0,333.0C439.8,333.7 404.3,327.1 393.0,326.0C381.7,324.9 368.0,323.4 362.0,325.0C356.0,326.6 350.7,333.6 348.0,338.0C345.3,342.4 343.7,353.7 342.0,358.0C340.3,362.3 337.0,369.5 335.0,370.0C333.0,370.5 328.1,367.3 327.0,362.0C325.9,356.7 325.7,336.9 327.0,330.0Z"/></clipPath>
<g clip-path="url(#hc2_1)"><path d="M267.0,370.0l60.0,-60.0M271.2,370.0l60.0,-60.0M275.4,370.0l60.0,-60.0M279.6,370.0l60.0,-60.0M283.8,370.0l60.0,-60.0M288.0,370.0l60.0,-60.0M292.2,370.0l60.0,-60.0M296.4,370.0l60.0,-60.0M300.6,370.0l60.0,-60.0M304.8,370.0l60.0,-60.0M309.0,370.0l60.0,-60.0M313.2,370.0l60.0,-60.0M317.4,370.0l60.0,-60.0M321.6,370.0l60.0,-60.0M325.8,370.0l60.0,-60.0M330.0,370.0l60.0,-60.0M334.2,370.0l60.0,-60.0M338.4,370.0l60.0,-60.0M342.6,370.0l60.0,-60.0M346.8,370.0l60.0,-60.0M351.0,370.0l60.0,-60.0M355.2,370.0l60.0,-60.0M359.4,370.0l60.0,-60.0M363.6,370.0l60.0,-60.0M367.8,370.0l60.0,-60.0M372.0,370.0l60.0,-60.0M376.2,370.0l60.0,-60.0M380.4,370.0l60.0,-60.0M384.6,370.0l60.0,-60.0M388.8,370.0l60.0,-60.0M393.0,370.0l60.0,-60.0M397.2,370.0l60.0,-60.0M401.4,370.0l60.0,-60.0M405.6,370.0l60.0,-60.0M409.8,370.0l60.0,-60.0M414.0,370.0l60.0,-60.0M418.2,370.0l60.0,-60.0M422.4,370.0l60.0,-60.0M426.6,370.0l60.0,-60.0M430.8,370.0l60.0,-60.0M435.0,370.0l60.0,-60.0M439.2,370.0l60.0,-60.0M443.4,370.0l60.0,-60.0" stroke="#7cbc7c" stroke-width="0.9" fill="none"/></g>
<path d="M327.0,330.0C328.3,323.1 332.3,312.4 337.0,310.0C341.7,307.6 354.5,311.3 362.0,312.0C369.5,312.7 381.7,313.8 393.0,315.0C404.3,316.2 439.8,318.6 447.0,321.0C454.2,323.4 454.2,332.3 447.0,333.0C439.8,333.7 404.3,327.1 393.0,326.0C381.7,324.9 368.0,323.4 362.0,325.0C356.0,326.6 350.7,333.6 348.0,338.0C345.3,342.4 343.7,353.7 342.0,358.0C340.3,362.3 337.0,369.5 335.0,370.0C333.0,370.5 328.1,367.3 327.0,362.0C325.9,356.7 325.7,336.9 327.0,330.0Z" stroke="#4aa64a" stroke-width="1.1" fill="none"/>
<path d="M18.0,368.0C25.0,368.7 44.7,370.7 60.0,372.0C75.3,373.3 92.5,375.7 110.0,376.0C127.5,376.3 148.9,374.2 165.0,374.0C181.1,373.8 197.9,376.6 206.6,375.0C215.3,373.4 212.5,367.4 217.0,364.6C221.5,361.8 226.6,359.3 233.5,358.4C240.4,357.5 250.4,360.8 258.4,359.4C266.3,358.0 274.3,354.3 281.2,350.0C288.1,345.7 295.1,338.3 299.9,333.5C304.7,328.7 307.6,322.2 310.2,321.0C312.8,319.8 315.0,322.5 315.4,326.3C315.8,330.1 314.9,338.9 312.3,343.9C309.7,348.9 302.0,354.2 299.9,356.3M337.2,309.7C335.5,313.3 328.2,324.4 326.8,331.5C325.4,338.6 329.2,345.3 328.9,352.2C328.5,359.1 327.8,368.4 324.7,372.9C321.6,377.4 316.1,377.7 310.2,379.1C304.3,380.5 296.4,379.5 289.5,381.2C282.6,382.9 273.3,386.0 268.8,389.5C264.3,393.0 263.6,399.9 262.5,402.0M341.3,308.7C344.8,309.4 353.4,311.8 362.0,312.8C370.6,313.8 378.9,313.5 393.1,314.9C407.3,316.3 438.0,320.0 447.0,321.0" stroke="#4aa64a" stroke-width="1.2" fill="none"/>
</g>
<text x="0.0" y="115.9" class="r" font-weight="bold" font-size="15" fill="#2323e6" text-anchor="middle" transform="translate(91.3,0) scale(0.95,1) translate(0.0,0)">H</text>
<text x="91.3" y="123.7" class="s" font-size="6.2" fill="#2323e6" text-anchor="middle">1040</text>
<text x="0.0" y="195.8" class="r" font-weight="bold" font-size="15" fill="#2323e6" text-anchor="middle" transform="translate(104.9,0) scale(0.95,1) translate(0.0,0)">H</text>
<text x="104.9" y="203.6" class="s" font-size="6.2" fill="#2323e6" text-anchor="middle">1039</text>
<text x="0.0" y="152.5" class="r" font-weight="bold" font-size="15" fill="#e02020" text-anchor="middle" transform="translate(287.5,0) scale(0.95,1) translate(0.0,0)">L</text>
<text x="287.5" y="160.3" class="s" font-size="6.2" fill="#e02020" text-anchor="middle">1004</text>
<text x="0.0" y="202.7" class="r" font-weight="bold" font-size="15" fill="#e02020" text-anchor="middle" transform="translate(337.7,0) scale(0.95,1) translate(0.0,0)">L</text>
<text x="337.7" y="210.5" class="s" font-size="6.2" fill="#e02020" text-anchor="middle">1002</text>
<text x="0.0" y="145.6" class="r" font-weight="bold" font-size="15" fill="#2323e6" text-anchor="middle" transform="translate(433.6,0) scale(0.95,1) translate(0.0,0)">H</text>
<text x="433.6" y="153.4" class="s" font-size="6.2" fill="#2323e6" text-anchor="middle">1030</text>
<text x="0.0" y="373.8" class="r" font-weight="bold" font-size="15" fill="#e02020" text-anchor="middle" transform="translate(374.0,0) scale(0.95,1) translate(0.0,0)">L</text>
<text x="374.0" y="381.6" class="s" font-size="6.2" fill="#e02020" text-anchor="middle">1012</text>
<text x="0.0" y="385.2" class="r" font-weight="bold" font-size="15" fill="#e02020" text-anchor="middle" transform="translate(29.6,0) scale(0.95,1) translate(0.0,0)">L</text>
<text x="29.6" y="393.0" class="s" font-size="6.2" fill="#e02020" text-anchor="middle">1002</text>
</g>
<rect x="17.7" y="58.0" width="429.3" height="341.4" fill="none" stroke="#7a7a7a" stroke-width="1.4"/>
<rect x="10.0" y="50.5" width="445.4" height="355.5" fill="none" stroke="#6a6a6a" stroke-width="2"/>
<rect x="379.5" y="58" width="67.5" height="36.5" fill="#fff" stroke="#888" stroke-width="0.8"/>
<rect x="380" y="83.5" width="66.5" height="10.5" fill="#fde2e2"/>
<text x="381" y="70.3" class="r" font-weight="bold" font-size="13.5" fill="#3434ee" textLength="64.5" lengthAdjust="spacingAndGlyphs">ASFE&#160;&#160;&#160;KMA</text>
<text x="381" y="81.4" class="s" font-weight="bold" font-size="10.5" fill="#3c3cee" textLength="64.5" lengthAdjust="spacingAndGlyphs">2100UTC MAR 2021</text>
<text x="381" y="92.8" class="s" font-weight="bold" font-size="10.2" fill="#f03030" textLength="64.5" lengthAdjust="spacingAndGlyphs">SURFACE PRESSURE(hPa)</text>
<text x="23" y="395.5" class="r" font-weight="bold" font-size="15" fill="#1010ee" textLength="31" lengthAdjust="spacingAndGlyphs">DFS</text>
<text x="10.0" y="49.3" class="s" font-size="9.2" fill="#4a4ae2" textLength="178.0" lengthAdjust="spacingAndGlyphs">00UTC 21 MAR 2021 (09KST 21 MAR 2021)</text>
<path d="M10.0,50.2H188.0" stroke="#6a6ae6" stroke-width="0.8"/>
<text x="10.0" y="414.5" class="s" font-size="9.2" fill="#4a4ae2" textLength="168.0" lengthAdjust="spacingAndGlyphs">Korea Meteorological Administration(KMA)</text>
<text x="276.0" y="414.5" class="s" font-size="9.2" fill="#4a4ae2" textLength="177.5" lengthAdjust="spacingAndGlyphs">00UTC 21 MAR 2021 (09KST 21 MAR 2021)</text>
<text x="65.5" y="55.8" class="s" font-size="3.6" fill="#777" text-anchor="middle">100</text>
<text x="124.7" y="55.8" class="s" font-size="3.6" fill="#777" text-anchor="middle">100</text>
<text x="178.8" y="55.8" class="s" font-size="3.6" fill="#777" text-anchor="middle">100</text>
<text x="231.7" y="55.8" class="s" font-size="3.6" fill="#777" text-anchor="middle">100</text>
<text x="283.0" y="55.8" class="s" font-size="3.6" fill="#777" text-anchor="middle">100</text>
<text x="332.4" y="55.8" class="s" font-size="3.6" fill="#777" text-anchor="middle">150</text>
<text x="386.1" y="55.8" class="s" font-size="3.6" fill="#777" text-anchor="middle">150</text>
<text x="440.0" y="55.8" class="s" font-size="3.6" fill="#777" text-anchor="middle">150</text>
<text x="109.8" y="405.3" class="s" font-size="3.6" fill="#777" text-anchor="middle">100</text>
<text x="297.8" y="405.3" class="s" font-size="3.6" fill="#777" text-anchor="middle">100</text>
<text x="392.0" y="405.3" class="s" font-size="3.6" fill="#777" text-anchor="middle">150</text>
<text x="13.5" y="151.3" class="s" font-size="3.6" fill="#777" text-anchor="middle">100</text>
<text x="13.5" y="261.3" class="s" font-size="3.6" fill="#777" text-anchor="middle">100</text>
<text x="13.5" y="371.3" class="s" font-size="3.6" fill="#777" text-anchor="middle">100</text>
<text x="451.0" y="101.3" class="s" font-size="3.6" fill="#777" text-anchor="middle">150</text>
<text x="451.0" y="211.3" class="s" font-size="3.6" fill="#777" text-anchor="middle">150</text>
<text x="451.0" y="331.3" class="s" font-size="3.6" fill="#777" text-anchor="middle">150</text>
<text x="0" y="28.5" class="r" font-size="26.5" fill="#1a1a1a" transform="translate(15.2,0) scale(1.05,1)">(c)</text>
</g>
<text x="0" y="477.0" class="r" font-size="26.5" fill="#1a1a1a" transform="translate(21.5,0) scale(1.1,1)">(d)</text>
<text x="171.5" y="461.4" class="s" font-size="11.0" fill="#333" textLength="150.1" lengthAdjust="spacingAndGlyphs">NOAA HYSPLIT MODEL</text>
<text x="66.0" y="474.7" class="s" font-size="13.0" fill="#333" textLength="364.7" lengthAdjust="spacingAndGlyphs">Backward trajectories ending at 0000 UTC 09 Mar 21</text>
<text x="172.4" y="487.9" class="s" font-size="11.0" fill="#333" textLength="162.6" lengthAdjust="spacingAndGlyphs">GDAS Meteorological Data</text>
<path d="M53.2,495.8V742.9M144.0,495.8V742.9M235.0,495.8V742.9M326.4,495.8V742.9M417.8,495.8V742.9M42.5,520.7H451.5M42.5,600.7H451.5M42.5,680.5H451.5" stroke="#a2b8de" stroke-width="0.8" stroke-dasharray="1,1.4" fill="none"/>
<text x="0.0" y="560.5" class="s" font-size="9.5" fill="#7f9fcf" text-anchor="middle" transform="translate(53.2,0) scale(1.2,1) translate(0.0,0)">112</text>
<text x="0.0" y="560.5" class="s" font-size="9.5" fill="#7f9fcf" text-anchor="middle" transform="translate(144.0,0) scale(1.2,1) translate(0.0,0)">114</text>
<text x="0.0" y="560.5" class="s" font-size="9.5" fill="#7f9fcf" text-anchor="middle" transform="translate(235.0,0) scale(1.2,1) translate(0.0,0)">116</text>
<text x="0.0" y="560.5" class="s" font-size="9.5" fill="#7f9fcf" text-anchor="middle" transform="translate(326.4,0) scale(1.2,1) translate(0.0,0)">118</text>
<text x="0.0" y="560.5" class="s" font-size="9.5" fill="#7f9fcf" text-anchor="middle" transform="translate(417.8,0) scale(1.2,1) translate(0.0,0)">120</text>
<text x="0" y="524.1" class="s" font-size="9.5" fill="#7f9fcf" text-anchor="middle" transform="translate(282.0,0) scale(1.2,1)">26</text>
<text x="0" y="604.1" class="s" font-size="9.5" fill="#7f9fcf" text-anchor="middle" transform="translate(282.0,0) scale(1.2,1)">24</text>
<text x="0" y="683.9" class="s" font-size="9.5" fill="#7f9fcf" text-anchor="middle" transform="translate(282.0,0) scale(1.2,1)">22</text>
<path d="M42.6,692.4L44.3,689.6L48.0,689.3L49.9,686.7L52.5,687.2L55.0,683.5L57.6,687.8L60.8,687.7L62.3,684.6L64.5,683.0L68.4,685.8L70.2,682.4L71.5,686.1L74.7,684.9L77.4,685.3L79.1,685.5L81.3,684.0L83.7,682.9L85.8,681.2L89.2,682.9L91.4,681.3L94.2,681.4L95.6,677.9L98.4,677.6L100.8,676.1L102.5,673.9L104.3,670.8L108.2,670.4L110.5,669.4L113.5,667.8L116.5,670.3L119.7,670.2L121.4,673.4L124.6,674.3L124.0,671.9L123.6,669.3L123.0,666.7L121.2,664.2L123.7,661.1L121.4,658.8L120.4,656.0L119.9,653.0L118.8,650.2L116.5,648.0L114.0,646.1L110.8,645.2L110.5,639.8L111.4,642.9L114.2,642.3L116.8,641.2L119.2,639.6L121.3,637.1L124.5,637.8L127.0,637.1L129.6,636.2L132.3,636.3L134.0,638.6L137.3,639.6L138.9,642.1L139.1,645.8L142.1,647.1L145.4,646.8L147.3,649.2L151.7,646.5L152.3,651.3L155.2,649.8L157.7,650.3L160.2,650.9L162.8,652.4L164.1,655.2L167.0,655.5L168.3,652.3L171.8,650.6L174.5,649.2L177.3,650.2L180.0,650.2L182.1,645.7L185.0,647.9L187.7,647.4L190.6,648.4L193.0,646.5L196.0,647.7L198.2,645.3L201.0,645.2L203.6,644.3L206.1,642.8L208.9,646.0L211.8,644.2L214.4,644.6L216.9,646.3L219.3,643.1L222.8,647.6L225.2,645.2L227.7,643.6L230.5,643.7L233.0,642.4L235.3,640.6L237.7,639.3L240.0,638.4L241.5,636.0L244.0,634.9L246.2,633.4L250.6,634.9L250.2,629.9L253.9,630.3L254.7,627.1L257.5,626.3L260.1,625.4L262.1,624.3L263.8,622.0L265.7,620.2L267.8,618.6L271.2,619.8L273.3,618.3L275.7,617.4L277.7,615.0L280.8,615.7L283.6,615.1L285.4,611.7L287.3,608.9L290.6,609.7L294.1,610.5L296.1,607.9L299.3,607.9L301.7,606.0L302.0,603.0L305.6,602.4L307.1,600.4L306.9,597.2L311.1,597.1L310.9,593.8L310.9,590.7L312.2,588.5L316.2,588.2L316.4,584.9L318.8,584.0L320.8,582.3L323.4,581.7L326.5,581.8L327.6,578.7L330.3,577.3L332.2,574.1L336.5,578.2L338.8,576.1L340.9,573.5L344.4,575.3L346.6,575.5L349.2,573.1L351.9,575.5L354.5,574.6L355.5,571.4L357.2,569.4L358.2,566.9L362.1,566.5L362.9,563.8L365.1,561.5L364.6,558.0L366.0,555.4L368.9,553.6L370.3,551.9L373.1,552.2L375.3,549.4L377.9,548.8L381.1,550.7L382.7,546.7L385.8,544.5L388.9,544.3L391.3,542.6L394.8,545.3L397.3,543.7L397.1,539.4L396.5,536.7L393.7,534.7L395.5,531.4L393.1,528.8L392.6,525.4L387.9,526.2L387.0,523.1L389.4,523.5L391.9,521.7L394.2,519.6L397.2,519.1L396.9,514.8L401.5,514.0L402.1,510.7L404.8,509.4L405.8,506.4L406.6,503.2L410.3,502.9L411.5,499.5L411.6,495.9" stroke="#8ba6cc" stroke-width="0.8" fill="none"/>
<path d="M452.0,574.0L450.2,576.1L450.3,579.1L448.0,581.0L447.0,583.5L445.9,586.0L444.8,588.4L443.8,590.9L442.2,593.1L440.7,595.4L440.3,598.1L440.7,601.3L437.1,602.5L435.2,604.6L433.1,606.4L431.9,609.2L429.4,610.6L427.2,612.4L425.1,614.2L422.9,616.0L422.6,619.0L422.2,621.6L422.6,624.4L421.3,626.9L421.3,629.6L421.4,632.3L421.0,635.0L420.7,637.6L422.0,639.8L422.4,642.4L424.0,644.4L424.9,646.8L426.7,648.7L427.2,651.3L428.0,653.7L430.3,656.0L432.3,658.2L435.0,659.8L436.9,662.1L439.4,663.8L440.3,666.3L441.0,668.8L442.1,671.1L443.1,673.4L443.9,675.9L445.7,677.8L447.4,679.8L448.6,682.3L448.5,685.2L450.4,687.3L451.1,690.0" stroke="#8ba6cc" stroke-width="0.8" fill="none"/>
<path d="M136.3,661.4H166.7V674.6H136.3Z" stroke="#8ba6cc" stroke-width="0.8" fill="none"/>
<path d="M103.6,660.2C108.4,659.9 121.6,658.8 132.3,658.2C143.0,657.6 155.9,656.6 168.0,656.6C180.1,656.6 189.7,661.4 205.0,658.5C220.3,655.6 241.2,648.8 260.0,639.0C278.8,629.2 298.3,614.9 317.5,600.0C336.7,585.1 365.6,558.1 375.2,549.7" stroke="#ee1111" stroke-width="1.8" fill="none"/>
<path d="M132.3,655.7L134.4,659.9L130.2,659.9Z" fill="#ee1111"/>
<path d="M168.0,654.1L170.1,658.3L165.9,658.3Z" fill="#ee1111"/>
<path d="M205.0,656.0L207.1,660.2L202.9,660.2Z" fill="#ee1111"/>
<path d="M260.0,636.5L262.1,640.7L257.9,640.7Z" fill="#ee1111"/>
<path d="M317.5,597.5L319.6,601.7L315.4,601.7Z" fill="#ee1111"/>
<path d="M375.2,547.2L377.3,551.4L373.1,551.4Z" fill="#ee1111"/>
<path d="M103.6,660.2C111.6,660.6 135.2,662.8 151.4,662.7C167.6,662.6 183.1,663.2 201.0,659.5C218.9,655.8 240.3,649.2 258.8,640.2C277.3,631.2 294.9,619.1 312.2,605.8C329.5,592.5 349.3,573.5 362.5,560.3C375.7,547.1 386.8,532.1 391.6,526.5" stroke="#0000ee" stroke-width="1.8" fill="none"/>
<rect x="149.3" y="660.6" width="4.2" height="4.2" fill="#0000ee"/>
<rect x="198.9" y="657.4" width="4.2" height="4.2" fill="#0000ee"/>
<rect x="256.7" y="638.1" width="4.2" height="4.2" fill="#0000ee"/>
<rect x="309.0" y="602.6" width="6.4" height="6.4" fill="#0000ee"/>
<rect x="360.4" y="558.2" width="4.2" height="4.2" fill="#0000ee"/>
<rect x="389.5" y="524.4" width="4.2" height="4.2" fill="#0000ee"/>
<path d="M103.6,660.2C108.8,660.5 121.4,662.0 135.0,662.0C148.6,662.0 168.0,663.0 185.0,660.0C202.0,657.0 218.2,653.2 236.8,644.2C255.4,635.2 277.8,619.5 296.3,605.8C314.8,592.1 339.4,569.5 348.0,562.2" stroke="#11dd11" stroke-width="1.8" fill="none"/>
<circle cx="135.0" cy="662.0" r="2.1" fill="#11dd11"/>
<circle cx="185.0" cy="660.0" r="2.1" fill="#11dd11"/>
<circle cx="236.8" cy="644.2" r="3.2" fill="#11dd11"/>
<circle cx="296.3" cy="605.8" r="2.1" fill="#11dd11"/>
<circle cx="348.0" cy="562.2" r="2.1" fill="#11dd11"/>
<path d="M103.6,655.2L104.8,658.5L108.4,658.7L105.6,660.8L106.5,664.2L103.6,662.3L100.7,664.2L101.6,660.8L98.8,658.7L102.4,658.5Z" fill="#111"/>
<path d="M83.0,758.3H410.0M83.0,773.8H410.0M83.0,789.5H410.0" stroke="#666" stroke-width="1.1" stroke-dasharray="5,5" fill="none"/>
<text x="0.0" y="777.4" class="s" font-size="10" fill="#333" text-anchor="middle" transform="translate(63.7,0) scale(1.15,1)">1000</text>
<text x="0.0" y="793.1" class="s" font-size="10" fill="#333" text-anchor="middle" transform="translate(63.7,0) scale(1.15,1)">500</text>
<text x="0.0" y="808.2" class="s" font-size="10" fill="#333" text-anchor="middle" transform="translate(63.7,0) scale(1.15,1)">50</text>
<text x="0" y="761.9" class="s" font-size="10" fill="#333" text-anchor="middle" transform="translate(431.0,0) scale(1.15,1)">1500</text>
<text x="0" y="777.4" class="s" font-size="10" fill="#333" text-anchor="middle" transform="translate(431.0,0) scale(1.15,1)">1000</text>
<text x="0" y="793.1" class="s" font-size="10" fill="#333" text-anchor="middle" transform="translate(431.0,0) scale(1.15,1)">500</text>
<text x="0" y="816.1" class="s" font-size="8.5" fill="#444" text-anchor="middle" transform="translate(142.4,0) scale(1.15,1)">18</text>
<text x="0" y="816.1" class="s" font-size="8.5" fill="#444" text-anchor="middle" transform="translate(194.7,0) scale(1.15,1)">12</text>
<text x="0" y="816.1" class="s" font-size="8.5" fill="#444" text-anchor="middle" transform="translate(247.0,0) scale(1.15,1)">06</text>
<text x="0" y="816.1" class="s" font-size="8.5" fill="#444" text-anchor="middle" transform="translate(299.5,0) scale(1.15,1)">00</text>
<text x="0" y="816.1" class="s" font-size="8.5" fill="#444" text-anchor="middle" transform="translate(351.8,0) scale(1.15,1)">18</text>
<text x="0" y="816.1" class="s" font-size="8.5" fill="#444" text-anchor="middle" transform="translate(404.0,0) scale(1.15,1)">12</text>
<text x="0" y="824.1" class="s" font-size="8" fill="#555" text-anchor="middle" transform="translate(299.5,0) scale(1.1,1)">03/08</text>
<path d="M88.8,789.5C97.7,790.1 124.8,793.1 142.4,793.0C160.1,792.9 177.3,790.4 194.7,789.0C212.1,787.6 229.5,786.0 247.0,784.5C264.5,783.0 282.0,781.8 299.5,780.0C317.0,778.2 334.4,775.8 351.8,773.5C369.2,771.2 395.3,767.2 404.0,766.0" stroke="#0000ee" stroke-width="1.5" fill="none"/>
<rect x="140.7" y="791.3" width="3.4" height="3.4" fill="#0000ee"/>
<rect x="193.0" y="787.3" width="3.4" height="3.4" fill="#0000ee"/>
<rect x="245.3" y="782.8" width="3.4" height="3.4" fill="#0000ee"/>
<rect x="296.9" y="777.4" width="5.2" height="5.2" fill="#0000ee"/>
<rect x="350.1" y="771.8" width="3.4" height="3.4" fill="#0000ee"/>
<rect x="402.3" y="764.3" width="3.4" height="3.4" fill="#0000ee"/>
<path d="M88.8,773.8C97.7,774.0 126.4,775.5 142.4,775.0C158.4,774.5 174.9,770.8 185.0,771.0C195.1,771.2 196.8,773.3 203.0,776.0C209.2,778.7 214.7,784.7 222.0,787.0C229.3,789.3 234.1,789.2 247.0,790.0C259.9,790.8 282.0,792.5 299.5,792.0C317.0,791.5 340.7,788.0 351.8,787.0C362.9,786.0 357.3,784.5 366.0,786.0C374.7,787.5 397.7,794.3 404.0,796.0" stroke="#11dd11" stroke-width="1.5" fill="none"/>
<circle cx="142.4" cy="775.0" r="1.7" fill="#11dd11"/>
<circle cx="247.0" cy="790.0" r="1.7" fill="#11dd11"/>
<circle cx="299.5" cy="792.0" r="2.6" fill="#11dd11"/>
<circle cx="351.8" cy="787.0" r="1.7" fill="#11dd11"/>
<circle cx="404.0" cy="796.0" r="1.7" fill="#11dd11"/>
<path d="M88.8,804.0C97.7,804.0 124.8,804.0 142.4,804.0C160.1,804.0 177.3,804.0 194.7,804.0C212.1,804.0 229.5,804.0 247.0,804.0C264.5,804.0 282.0,804.0 299.5,804.0C317.0,804.0 334.4,804.0 351.8,804.0C369.2,804.0 395.3,804.0 404.0,804.0" stroke="#cc1111" stroke-width="1.5" fill="none"/>
<path d="M142.4,802.0L144.1,805.4L140.7,805.4Z" fill="#cc1111"/>
<path d="M194.7,802.0L196.4,805.4L193.0,805.4Z" fill="#cc1111"/>
<path d="M247.0,802.0L248.7,805.4L245.3,805.4Z" fill="#cc1111"/>
<path d="M299.5,802.0L301.2,805.4L297.8,805.4Z" fill="#cc1111"/>
<path d="M351.8,802.0L353.5,805.4L350.1,805.4Z" fill="#cc1111"/>
<path d="M404.0,802.0L405.7,805.4L402.3,805.4Z" fill="#cc1111"/>
<path d="M88.8,769.2L89.9,772.2L93.2,772.4L90.6,774.4L91.5,777.5L88.8,775.7L86.1,777.5L87.0,774.4L84.4,772.4L87.7,772.2Z" fill="#111"/>
<path d="M88.8,784.9L89.9,787.9L93.2,788.1L90.6,790.1L91.5,793.2L88.8,791.4L86.1,793.2L87.0,790.1L84.4,788.1L87.7,787.9Z" fill="#111"/>
<path d="M88.8,799.0L89.9,802.0L93.2,802.2L90.6,804.2L91.5,807.3L88.8,805.5L86.1,807.3L87.0,804.2L84.4,802.2L87.7,802.0Z" fill="#111"/>
<path d="M42.5,495.8H451.5V826.0H42.5Z M42.5,742.9H451.5 M42.5,804.6H451.5" stroke="#666" stroke-width="1.8" fill="none"/>
<text class="s" font-size="11.5" fill="#333" text-anchor="middle" transform="translate(36.8,595.5) scale(1.32,1) rotate(-90)" textLength="160" lengthAdjust="spacingAndGlyphs">Source ★  at   22.50 N  113.12 E</text>
<text class="s" font-size="11" fill="#333" text-anchor="middle" transform="translate(36.8,771.0) scale(1.32,1) rotate(-90)">Meters AGL</text>
<text x="0" y="477.0" class="r" font-size="26.5" fill="#1a1a1a" transform="translate(489.5,0) scale(1.1,1)">(e)</text>
<text x="634.7" y="461.4" class="s" font-size="11.0" fill="#333" textLength="146.3" lengthAdjust="spacingAndGlyphs">NOAA HYSPLIT MODEL</text>
<text x="531.7" y="474.7" class="s" font-size="13.0" fill="#333" textLength="356.3" lengthAdjust="spacingAndGlyphs">Backward trajectories ending at 0000 UTC 19 Mar 21</text>
<text x="636.4" y="487.9" class="s" font-size="11.0" fill="#333" textLength="158.2" lengthAdjust="spacingAndGlyphs">GDAS Meteorological Data</text>
<path d="M519.6,495.0V742.4M618.8,495.0V742.4M717.5,495.0V742.4M816.9,495.0V742.4M508.6,537.0H908.6M508.6,622.0H908.6M508.6,706.0H908.6" stroke="#a2b8de" stroke-width="0.8" stroke-dasharray="1,1.4" fill="none"/>
<text x="0.0" y="581.0" class="s" font-size="9.5" fill="#7f9fcf" text-anchor="middle" transform="translate(519.6,0) scale(1.2,1) translate(0.0,0)">112</text>
<text x="0.0" y="581.0" class="s" font-size="9.5" fill="#7f9fcf" text-anchor="middle" transform="translate(618.8,0) scale(1.2,1) translate(0.0,0)">114</text>
<text x="0.0" y="581.0" class="s" font-size="9.5" fill="#7f9fcf" text-anchor="middle" transform="translate(717.5,0) scale(1.2,1) translate(0.0,0)">116</text>
<text x="0.0" y="581.0" class="s" font-size="9.5" fill="#7f9fcf" text-anchor="middle" transform="translate(816.9,0) scale(1.2,1) translate(0.0,0)">118</text>
<text x="0" y="540.4" class="s" font-size="9.5" fill="#7f9fcf" text-anchor="middle" transform="translate(768.0,0) scale(1.2,1)">24</text>
<text x="0" y="625.4" class="s" font-size="9.5" fill="#7f9fcf" text-anchor="middle" transform="translate(768.0,0) scale(1.2,1)">22</text>
<text x="0" y="709.4" class="s" font-size="9.5" fill="#7f9fcf" text-anchor="middle" transform="translate(768.0,0) scale(1.2,1)">20</text>
<path d="M509.0,634.6L510.9,632.7L513.3,631.9L516.2,632.0L517.3,628.6L520.8,628.5L524.4,630.0L527.3,628.8L530.1,627.4L533.1,626.4L536.0,625.1L539.4,625.3L541.8,625.6L545.4,624.0L547.7,627.4L550.8,627.7L554.2,626.7L556.9,624.7L559.9,623.8L562.9,623.5L563.9,620.0L567.6,620.7L569.2,618.3L570.6,616.0L571.7,613.7L573.8,612.2L574.8,609.1L575.9,606.2L575.9,603.1L577.1,600.2L577.6,597.7L577.3,595.1L578.1,592.6L575.6,589.8L578.8,587.6L576.7,584.8L580.2,583.3L582.5,581.4L586.8,583.0L588.1,579.8L590.4,578.1L593.3,577.9L596.0,576.0L598.6,573.8L602.2,575.3L602.5,577.4L600.7,579.9L601.9,583.0L600.6,585.6L598.3,588.0L599.1,591.0L598.1,593.5L598.0,596.1L596.3,598.5L597.5,601.3L597.7,604.0L594.9,606.2L595.6,608.9L598.4,608.2L600.7,606.5L603.7,608.5L606.1,607.4L608.6,607.1L611.1,606.6L611.1,601.3L615.8,603.5L617.3,600.8L620.2,600.2L622.9,599.1L625.9,598.6L628.9,597.9L632.4,600.1L635.0,598.7L638.1,598.4L640.8,600.5L644.2,599.0L646.4,598.4L647.6,595.6L650.8,594.8L652.7,594.9L655.1,593.1L657.8,594.6L660.2,592.3L662.9,593.0L665.5,593.7L667.9,591.5L670.9,592.4L673.4,591.4L675.1,588.4L678.3,589.4L680.3,587.0L682.9,586.3L685.8,588.2L689.2,585.7L691.8,588.8L695.0,587.8L697.8,588.8L700.2,587.8L702.6,587.0L704.9,585.3L707.1,583.4L710.1,585.3L713.6,586.7L716.3,584.8L719.3,584.1L722.3,583.2L724.1,579.7L726.8,579.3L729.9,579.9L732.2,578.3L735.0,578.1L737.2,576.1L740.0,575.9L741.5,573.9L743.7,572.5L744.7,569.9L748.2,569.8L750.8,568.8L752.1,566.4L754.5,563.6L757.8,563.3L759.3,561.6L762.8,560.7L761.3,556.5L761.5,553.3L767.1,554.5L767.6,550.5L770.2,549.3L772.9,548.6L775.5,548.7L777.5,546.8L779.9,545.8L782.8,547.0L784.6,543.8L787.6,543.4L790.8,543.3L793.4,542.1L795.1,539.3L797.5,537.7L799.6,535.8L802.3,535.0L804.9,534.4L807.0,532.1L809.9,532.4L812.8,531.2L814.5,528.8L814.6,525.3L816.9,522.3L820.8,521.0L819.5,517.5L817.6,515.1L814.6,517.8L811.9,519.3L807.6,517.0L809.7,516.2L813.5,516.4L813.9,512.6L816.2,511.1L819.9,512.0L823.0,512.3L826.0,512.6L828.1,511.2L830.6,511.0L833.2,511.1L835.8,508.9L838.0,511.6L840.8,511.9L843.1,513.1L845.8,511.8L847.5,508.3L849.2,506.0L850.2,503.2L854.2,502.6L856.1,501.3L858.9,500.0L861.7,498.8L863.7,497.1L866.6,497.1" stroke="#8ba6cc" stroke-width="0.8" fill="none"/>
<path d="M614,597H644V615H614Z" stroke="#8ba6cc" stroke-width="0.8" fill="none"/>
<path d="M574.5,601.6C580.6,603.2 598.1,607.4 611.0,611.5C623.9,615.6 636.2,624.1 651.6,626.5C667.0,628.9 685.6,629.5 703.6,625.6C721.6,621.7 740.9,614.4 759.8,603.0C778.7,591.6 798.1,572.7 816.8,557.4C835.5,542.1 862.6,518.9 871.8,511.2" stroke="#ee1111" stroke-width="1.8" fill="none"/>
<path d="M611.0,609.0L613.1,613.2L608.9,613.2Z" fill="#ee1111"/>
<path d="M651.6,624.0L653.7,628.2L649.5,628.2Z" fill="#ee1111"/>
<path d="M703.6,623.1L705.7,627.3L701.5,627.3Z" fill="#ee1111"/>
<path d="M759.8,600.5L761.9,604.7L757.7,604.7Z" fill="#ee1111"/>
<path d="M816.8,554.9L818.9,559.1L814.7,559.1Z" fill="#ee1111"/>
<path d="M871.8,508.7L873.9,512.9L869.7,512.9Z" fill="#ee1111"/>
<path d="M574.5,601.6C582.1,604.8 604.0,614.6 620.0,621.0C636.0,627.4 653.7,637.0 670.6,640.0C687.5,643.0 703.2,641.0 721.6,639.0C740.0,637.0 763.0,633.3 780.8,627.7C798.6,622.1 815.3,612.3 828.2,605.5C841.1,598.7 853.0,590.2 858.0,587.1" stroke="#0000ee" stroke-width="1.8" fill="none"/>
<rect x="617.9" y="618.9" width="4.2" height="4.2" fill="#0000ee"/>
<rect x="668.5" y="637.9" width="4.2" height="4.2" fill="#0000ee"/>
<rect x="719.5" y="636.9" width="4.2" height="4.2" fill="#0000ee"/>
<rect x="777.6" y="624.5" width="6.4" height="6.4" fill="#0000ee"/>
<rect x="826.1" y="603.4" width="4.2" height="4.2" fill="#0000ee"/>
<rect x="855.9" y="585.0" width="4.2" height="4.2" fill="#0000ee"/>
<path d="M574.5,601.6C575.9,607.2 576.2,624.9 582.6,635.5C589.0,646.1 599.4,658.4 612.6,665.5C625.8,672.6 642.5,676.0 662.0,678.0C681.5,680.0 705.2,678.8 729.7,677.5C754.2,676.2 780.8,672.5 809.3,670.0C837.8,667.5 885.6,663.8 900.9,662.5" stroke="#11dd11" stroke-width="1.8" fill="none"/>
<circle cx="582.6" cy="635.5" r="2.1" fill="#11dd11"/>
<circle cx="612.6" cy="665.5" r="2.1" fill="#11dd11"/>
<circle cx="662.0" cy="678.0" r="2.1" fill="#11dd11"/>
<circle cx="729.7" cy="677.5" r="3.2" fill="#11dd11"/>
<circle cx="809.3" cy="670.0" r="2.1" fill="#11dd11"/>
<circle cx="900.9" cy="662.5" r="2.1" fill="#11dd11"/>
<path d="M574.5,596.6L575.7,599.9L579.3,600.1L576.5,602.2L577.4,605.6L574.5,603.7L571.6,605.6L572.5,602.2L569.7,600.1L573.3,599.9Z" fill="#111"/>
<path d="M548.0,757.4H868.4M548.0,772.9H868.4M548.0,788.7H868.4" stroke="#666" stroke-width="1.1" stroke-dasharray="5,5" fill="none"/>
<text x="0.0" y="776.5" class="s" font-size="10" fill="#333" text-anchor="middle" transform="translate(529.2,0) scale(1.15,1)">1000</text>
<text x="0.0" y="792.3" class="s" font-size="10" fill="#333" text-anchor="middle" transform="translate(529.2,0) scale(1.15,1)">500</text>
<text x="0.0" y="807.6" class="s" font-size="10" fill="#333" text-anchor="middle" transform="translate(529.2,0) scale(1.15,1)">50</text>
<text x="0" y="761.0" class="s" font-size="10" fill="#333" text-anchor="middle" transform="translate(889.0,0) scale(1.15,1)">1500</text>
<text x="0" y="776.5" class="s" font-size="10" fill="#333" text-anchor="middle" transform="translate(889.0,0) scale(1.15,1)">1000</text>
<text x="0" y="792.3" class="s" font-size="10" fill="#333" text-anchor="middle" transform="translate(889.0,0) scale(1.15,1)">500</text>
<text x="0" y="815.5" class="s" font-size="8.5" fill="#444" text-anchor="middle" transform="translate(605.5,0) scale(1.15,1)">18</text>
<text x="0" y="815.5" class="s" font-size="8.5" fill="#444" text-anchor="middle" transform="translate(657.0,0) scale(1.15,1)">12</text>
<text x="0" y="815.5" class="s" font-size="8.5" fill="#444" text-anchor="middle" transform="translate(708.0,0) scale(1.15,1)">06</text>
<text x="0" y="815.5" class="s" font-size="8.5" fill="#444" text-anchor="middle" transform="translate(759.5,0) scale(1.15,1)">00</text>
<text x="0" y="815.5" class="s" font-size="8.5" fill="#444" text-anchor="middle" transform="translate(811.0,0) scale(1.15,1)">18</text>
<text x="0" y="815.5" class="s" font-size="8.5" fill="#444" text-anchor="middle" transform="translate(862.4,0) scale(1.15,1)">12</text>
<text x="0" y="823.5" class="s" font-size="8" fill="#555" text-anchor="middle" transform="translate(759.5,0) scale(1.1,1)">03/18</text>
<path d="M554.0,788.7C562.6,790.2 588.3,797.0 605.5,798.0C622.7,799.0 639.9,796.3 657.0,794.7C674.1,793.1 690.9,789.5 708.0,788.5C725.1,787.5 742.3,788.9 759.5,789.0C776.7,789.1 793.9,789.2 811.0,789.0C828.1,788.8 853.8,787.8 862.4,787.5" stroke="#0000ee" stroke-width="1.5" fill="none"/>
<rect x="603.8" y="796.3" width="3.4" height="3.4" fill="#0000ee"/>
<rect x="655.3" y="793.0" width="3.4" height="3.4" fill="#0000ee"/>
<rect x="706.3" y="786.8" width="3.4" height="3.4" fill="#0000ee"/>
<rect x="756.9" y="786.4" width="5.2" height="5.2" fill="#0000ee"/>
<rect x="809.3" y="787.3" width="3.4" height="3.4" fill="#0000ee"/>
<rect x="860.7" y="785.8" width="3.4" height="3.4" fill="#0000ee"/>
<path d="M554.0,772.9C562.6,773.8 588.3,776.5 605.5,778.0C622.7,779.5 639.9,781.4 657.0,782.0C674.1,782.6 690.9,781.2 708.0,781.5C725.1,781.8 742.3,783.8 759.5,784.0C776.7,784.2 793.9,783.5 811.0,783.0C828.1,782.5 853.8,781.3 862.4,781.0" stroke="#11dd11" stroke-width="1.5" fill="none"/>
<circle cx="605.5" cy="778.0" r="1.7" fill="#11dd11"/>
<circle cx="657.0" cy="782.0" r="1.7" fill="#11dd11"/>
<circle cx="708.0" cy="781.5" r="1.7" fill="#11dd11"/>
<circle cx="759.5" cy="784.0" r="2.6" fill="#11dd11"/>
<circle cx="811.0" cy="783.0" r="1.7" fill="#11dd11"/>
<circle cx="862.4" cy="781.0" r="1.7" fill="#11dd11"/>
<path d="M554.0,803.5C562.6,803.5 588.3,803.5 605.5,803.5C622.7,803.5 639.9,803.5 657.0,803.5C674.1,803.5 690.9,803.5 708.0,803.5C725.1,803.5 742.3,803.5 759.5,803.5C776.7,803.5 793.9,803.5 811.0,803.5C828.1,803.5 853.8,803.5 862.4,803.5" stroke="#cc1111" stroke-width="1.5" fill="none"/>
<path d="M605.5,801.5L607.2,804.9L603.8,804.9Z" fill="#cc1111"/>
<path d="M657.0,801.5L658.7,804.9L655.3,804.9Z" fill="#cc1111"/>
<path d="M708.0,801.5L709.7,804.9L706.3,804.9Z" fill="#cc1111"/>
<path d="M759.5,801.5L761.2,804.9L757.8,804.9Z" fill="#cc1111"/>
<path d="M811.0,801.5L812.7,804.9L809.3,804.9Z" fill="#cc1111"/>
<path d="M862.4,801.5L864.1,804.9L860.7,804.9Z" fill="#cc1111"/>
<path d="M554.0,768.3L555.1,771.3L558.4,771.5L555.8,773.5L556.7,776.6L554.0,774.8L551.3,776.6L552.2,773.5L549.6,771.5L552.9,771.3Z" fill="#111"/>
<path d="M554.0,784.1L555.1,787.1L558.4,787.3L555.8,789.3L556.7,792.4L554.0,790.6L551.3,792.4L552.2,789.3L549.6,787.3L552.9,787.1Z" fill="#111"/>
<path d="M554.0,798.4L555.1,801.4L558.4,801.6L555.8,803.6L556.7,806.7L554.0,804.9L551.3,806.7L552.2,803.6L549.6,801.6L552.9,801.4Z" fill="#111"/>
<path d="M508.6,495.0H908.6V824.3H508.6Z M508.6,742.4H908.6 M508.6,804.0H908.6" stroke="#666" stroke-width="1.8" fill="none"/>
<text class="s" font-size="11.5" fill="#333" text-anchor="middle" transform="translate(502.0,595.5) scale(1.32,1) rotate(-90)" textLength="160" lengthAdjust="spacingAndGlyphs">Source ★  at   22.50 N  113.12 E</text>
<text class="s" font-size="11" fill="#333" text-anchor="middle" transform="translate(502.0,771.0) scale(1.32,1) rotate(-90)">Meters AGL</text>
<text x="0" y="477.0" class="r" font-size="26.5" fill="#1a1a1a" transform="translate(952.5,0) scale(1.1,1)">(f)</text>
<text x="1099.0" y="459.0" class="s" font-size="11.0" fill="#333" textLength="146.5" lengthAdjust="spacingAndGlyphs">NOAA HYSPLIT MODEL</text>
<text x="996.0" y="472.0" class="s" font-size="13.0" fill="#333" textLength="355.5" lengthAdjust="spacingAndGlyphs">Backward trajectories ending at 1200 UTC 21 Mar 21</text>
<text x="1100.7" y="485.5" class="s" font-size="11.0" fill="#333" textLength="158.3" lengthAdjust="spacingAndGlyphs">GDAS Meteorological Data</text>
<path d="M981.5,493.3V741.0M1053.0,493.3V741.0M1124.6,493.3V741.0M1195.7,493.3V741.0M1266.6,493.3V741.0M1337.6,493.3V741.0M972.0,525.0H1372.3M972.0,589.8H1372.3M972.0,654.4H1372.3M972.0,717.4H1372.3" stroke="#a2b8de" stroke-width="0.8" stroke-dasharray="1,1.4" fill="none"/>
<text x="0.0" y="559.0" class="s" font-size="9.5" fill="#7f9fcf" text-anchor="middle" transform="translate(981.5,0) scale(1.2,1) translate(0.0,0)">108</text>
<text x="0.0" y="559.0" class="s" font-size="9.5" fill="#7f9fcf" text-anchor="middle" transform="translate(1053.0,0) scale(1.2,1) translate(0.0,0)">110</text>
<text x="0.0" y="559.0" class="s" font-size="9.5" fill="#7f9fcf" text-anchor="middle" transform="translate(1124.6,0) scale(1.2,1) translate(0.0,0)">112</text>
<text x="0.0" y="559.0" class="s" font-size="9.5" fill="#7f9fcf" text-anchor="middle" transform="translate(1195.7,0) scale(1.2,1) translate(0.0,0)">114</text>
<text x="0.0" y="559.0" class="s" font-size="9.5" fill="#7f9fcf" text-anchor="middle" transform="translate(1266.6,0) scale(1.2,1) translate(0.0,0)">116</text>
<text x="0.0" y="559.0" class="s" font-size="9.5" fill="#7f9fcf" text-anchor="middle" transform="translate(1337.6,0) scale(1.2,1) translate(0.0,0)">118</text>
<text x="0" y="528.4" class="s" font-size="9.5" fill="#7f9fcf" text-anchor="middle" transform="translate(1233.0,0) scale(1.2,1)">28</text>
<text x="0" y="593.2" class="s" font-size="9.5" fill="#7f9fcf" text-anchor="middle" transform="translate(1233.0,0) scale(1.2,1)">26</text>
<text x="0" y="657.8" class="s" font-size="9.5" fill="#7f9fcf" text-anchor="middle" transform="translate(1233.0,0) scale(1.2,1)">24</text>
<text x="0" y="720.8" class="s" font-size="9.5" fill="#7f9fcf" text-anchor="middle" transform="translate(1233.0,0) scale(1.2,1)">22</text>
<path d="M972.3,730.6L974.5,728.9L977.1,728.4L979.2,726.5L982.6,728.2L984.9,726.8L987.2,725.9L989.6,724.4L992.2,724.3L995.0,726.0L997.5,725.6L999.9,723.8L1003.1,725.1L1006.1,725.6L1009.2,724.7L1012.3,724.4L1014.2,726.2L1015.0,729.1L1017.7,730.1L1018.7,732.8L1020.6,734.6L1024.1,732.7L1026.8,731.9L1028.8,729.6L1032.7,731.9L1033.8,727.2L1036.6,726.8L1039.5,728.7L1041.3,731.5L1044.7,731.1L1046.9,733.0L1049.9,733.5L1052.5,734.7L1054.5,737.0L1057.6,734.9L1059.7,737.6L1062.6,736.4L1065.2,736.8L1067.9,736.9L1070.5,738.3L1072.5,736.7L1073.8,733.5L1077.5,735.0L1079.4,733.4L1081.9,734.1L1084.5,733.0L1087.1,733.5L1089.6,733.3L1092.2,732.4L1094.5,731.8L1097.5,733.6L1099.8,731.5L1102.8,733.1L1104.6,728.8L1107.3,729.2L1110.4,730.1L1112.2,727.2L1115.0,726.8L1117.4,725.3L1120.8,726.2L1123.6,725.8L1125.2,723.0L1127.5,721.8L1130.1,721.8L1133.0,723.0L1134.8,719.9L1137.5,719.6L1140.0,718.5L1141.8,715.6L1146.0,718.5L1148.6,717.7L1151.1,716.4L1153.5,714.0L1155.2,711.3L1156.9,708.7L1160.6,708.5L1160.6,704.9L1163.2,703.2L1164.6,700.9L1165.4,698.2L1165.5,695.4L1170.6,695.2L1169.8,691.9L1170.9,689.6L1172.0,687.3L1173.3,685.2L1174.7,682.1L1178.3,682.8L1181.5,682.1L1182.4,684.8L1176.1,685.3L1177.1,688.7L1176.3,691.3L1175.1,693.8L1174.1,696.4L1175.7,699.5L1176.1,702.3L1178.3,704.4L1182.8,705.5L1180.0,709.6L1180.2,712.4L1181.4,709.0L1184.4,707.4L1183.4,703.8L1186.9,702.4L1188.6,701.4L1191.3,701.5L1193.4,699.1L1196.5,700.9L1198.7,697.8L1201.7,699.8L1204.1,697.9L1207.1,699.9L1209.6,698.4L1211.9,696.2L1214.5,696.0L1216.9,694.7L1219.5,694.2L1222.3,694.7L1224.9,694.3L1227.7,695.4L1230.0,693.1L1232.5,693.7L1235.1,693.6L1237.7,692.9L1240.2,693.2L1242.8,695.3L1245.4,693.6L1247.5,691.9L1250.1,691.7L1252.4,690.6L1255.2,691.5L1257.4,689.8L1260.2,690.2L1262.6,689.3L1264.6,686.9L1267.6,688.6L1270.3,687.4L1271.9,685.2L1274.2,683.9L1276.0,682.0L1277.9,680.1L1280.3,679.2L1280.8,675.0L1285.9,678.4L1288.1,676.7L1290.8,675.9L1292.7,673.7L1295.1,672.4L1297.6,671.6L1298.8,668.5L1301.9,668.7L1304.0,667.3L1305.7,665.1L1308.0,664.1L1311.1,664.1L1312.6,661.2L1315.1,660.0L1318.5,660.7L1320.1,657.8L1323.2,657.7L1324.2,654.2L1326.1,652.0L1329.3,651.1L1330.6,648.3L1333.2,646.8L1334.0,643.5L1338.0,644.2L1339.3,641.7L1340.4,638.9L1342.7,637.7L1346.0,637.8L1346.6,634.4L1349.5,633.5L1351.7,631.9L1354.9,632.1L1357.8,631.7L1359.6,629.2L1359.4,624.8L1363.3,624.6L1364.8,622.0L1367.4,620.5L1370.4,619.4L1372.3,617.3" stroke="#8ba6cc" stroke-width="0.8" fill="none"/>
<path d="M1190.5,700H1212V712H1190.5Z" stroke="#8ba6cc" stroke-width="0.8" fill="none"/>
<path d="M1163.8,701.4C1164.7,695.0 1168.4,673.2 1169.0,663.0C1169.6,652.8 1167.8,646.2 1167.5,640.0C1167.2,633.8 1167.8,630.4 1167.5,625.5C1167.2,620.6 1166.8,616.5 1166.0,610.7C1165.2,604.9 1164.4,597.1 1163.0,590.7C1161.6,584.3 1158.6,575.4 1157.7,572.3" stroke="#ee1111" stroke-width="1.8" fill="none"/>
<path d="M1169.0,660.5L1171.1,664.7L1166.9,664.7Z" fill="#ee1111"/>
<path d="M1167.5,636.2L1170.7,642.6L1164.3,642.6Z" fill="#ee1111"/>
<path d="M1167.5,623.0L1169.6,627.2L1165.4,627.2Z" fill="#ee1111"/>
<path d="M1166.0,608.2L1168.1,612.4L1163.9,612.4Z" fill="#ee1111"/>
<path d="M1163.0,588.2L1165.1,592.4L1160.9,592.4Z" fill="#ee1111"/>
<path d="M1157.7,568.5L1160.9,574.9L1154.5,574.9Z" fill="#ee1111"/>
<path d="M1163.8,701.4C1167.9,691.7 1181.0,658.0 1188.4,643.0C1195.8,628.0 1204.5,618.2 1208.4,611.3C1212.3,604.4 1211.7,605.0 1212.0,601.5C1212.3,598.0 1211.4,594.4 1210.5,590.0C1209.6,585.6 1208.0,579.4 1206.5,575.4C1205.0,571.4 1204.6,568.1 1201.3,566.0C1198.0,563.9 1189.3,563.5 1186.9,563.0" stroke="#0000ee" stroke-width="1.8" fill="none"/>
<rect x="1186.3" y="640.9" width="4.2" height="4.2" fill="#0000ee"/>
<rect x="1205.2" y="608.1" width="6.4" height="6.4" fill="#0000ee"/>
<rect x="1209.9" y="599.4" width="4.2" height="4.2" fill="#0000ee"/>
<rect x="1208.4" y="587.9" width="4.2" height="4.2" fill="#0000ee"/>
<rect x="1204.4" y="573.3" width="4.2" height="4.2" fill="#0000ee"/>
<rect x="1199.2" y="563.9" width="4.2" height="4.2" fill="#0000ee"/>
<rect x="1183.7" y="559.8" width="6.4" height="6.4" fill="#0000ee"/>
<path d="M1163.8,701.4C1169.8,694.6 1189.8,674.8 1199.8,660.8C1209.8,646.8 1219.2,633.3 1223.8,617.5C1228.4,601.7 1226.4,578.4 1227.4,566.0C1228.4,553.6 1230.0,547.6 1230.0,543.0C1230.0,538.4 1228.8,540.8 1227.5,538.3C1226.2,535.8 1224.5,532.4 1222.4,528.0C1220.4,523.6 1216.4,514.5 1215.2,511.8" stroke="#11dd11" stroke-width="1.8" fill="none"/>
<circle cx="1199.8" cy="660.8" r="2.1" fill="#11dd11"/>
<circle cx="1223.8" cy="617.5" r="3.2" fill="#11dd11"/>
<circle cx="1227.4" cy="566.0" r="2.1" fill="#11dd11"/>
<circle cx="1230.0" cy="543.0" r="2.1" fill="#11dd11"/>
<circle cx="1227.5" cy="538.3" r="2.1" fill="#11dd11"/>
<circle cx="1222.4" cy="528.0" r="2.1" fill="#11dd11"/>
<circle cx="1215.2" cy="511.8" r="3.2" fill="#11dd11"/>
<path d="M1163.8,696.4L1165.0,699.7L1168.6,699.9L1165.8,702.0L1166.7,705.4L1163.8,703.5L1160.9,705.4L1161.8,702.0L1159.0,699.9L1162.6,699.7Z" fill="#111"/>
<path d="M1012.0,756.6H1331.5M1012.0,771.7H1331.5M1012.0,787.5H1331.5" stroke="#666" stroke-width="1.1" stroke-dasharray="5,5" fill="none"/>
<text x="0.0" y="775.3" class="s" font-size="10" fill="#333" text-anchor="middle" transform="translate(993.5,0) scale(1.15,1)">1000</text>
<text x="0.0" y="791.1" class="s" font-size="10" fill="#333" text-anchor="middle" transform="translate(993.5,0) scale(1.15,1)">500</text>
<text x="0.0" y="806.5" class="s" font-size="10" fill="#333" text-anchor="middle" transform="translate(993.5,0) scale(1.15,1)">50</text>
<text x="0" y="760.2" class="s" font-size="10" fill="#333" text-anchor="middle" transform="translate(1352.0,0) scale(1.15,1)">1500</text>
<text x="0" y="775.3" class="s" font-size="10" fill="#333" text-anchor="middle" transform="translate(1352.0,0) scale(1.15,1)">1000</text>
<text x="0" y="791.1" class="s" font-size="10" fill="#333" text-anchor="middle" transform="translate(1352.0,0) scale(1.15,1)">500</text>
<text x="0" y="814.4" class="s" font-size="8.5" fill="#444" text-anchor="middle" transform="translate(1069.8,0) scale(1.15,1)">06</text>
<text x="0" y="814.4" class="s" font-size="8.5" fill="#444" text-anchor="middle" transform="translate(1121.3,0) scale(1.15,1)">00</text>
<text x="0" y="814.4" class="s" font-size="8.5" fill="#444" text-anchor="middle" transform="translate(1172.6,0) scale(1.15,1)">18</text>
<text x="0" y="814.4" class="s" font-size="8.5" fill="#444" text-anchor="middle" transform="translate(1223.5,0) scale(1.15,1)">12</text>
<text x="0" y="814.4" class="s" font-size="8.5" fill="#444" text-anchor="middle" transform="translate(1274.6,0) scale(1.15,1)">06</text>
<text x="0" y="814.4" class="s" font-size="8.5" fill="#444" text-anchor="middle" transform="translate(1325.8,0) scale(1.15,1)">00</text>
<text x="0" y="822.4" class="s" font-size="8" fill="#555" text-anchor="middle" transform="translate(1121.3,0) scale(1.1,1)">03/21</text>
<text x="0" y="822.4" class="s" font-size="8" fill="#555" text-anchor="middle" transform="translate(1325.8,0) scale(1.1,1)">03/20</text>
<path d="M1018.3,771.7C1026.9,770.6 1056.2,765.5 1069.8,765.0C1083.4,764.5 1091.4,768.2 1100.0,769.0C1108.6,769.8 1109.2,770.3 1121.3,769.5C1133.4,768.7 1155.6,765.8 1172.6,764.0C1189.6,762.2 1209.8,757.5 1223.5,758.5C1237.2,759.5 1246.5,765.8 1255.0,770.0C1263.5,774.2 1267.9,781.0 1274.6,784.0C1281.3,787.0 1286.5,787.7 1295.0,788.0C1303.5,788.3 1320.7,786.3 1325.8,786.0" stroke="#11dd11" stroke-width="1.5" fill="none"/>
<circle cx="1069.8" cy="765.0" r="1.7" fill="#11dd11"/>
<circle cx="1121.3" cy="769.5" r="2.6" fill="#11dd11"/>
<circle cx="1172.6" cy="764.0" r="1.7" fill="#11dd11"/>
<circle cx="1223.5" cy="758.5" r="1.7" fill="#11dd11"/>
<circle cx="1274.6" cy="784.0" r="1.7" fill="#11dd11"/>
<circle cx="1325.8" cy="786.0" r="2.6" fill="#11dd11"/>
<path d="M1018.3,787.5C1026.9,786.5 1057.8,781.6 1069.8,781.5C1081.8,781.4 1081.4,784.2 1090.0,787.0C1098.6,789.8 1107.5,796.1 1121.3,798.5C1135.1,800.9 1155.6,801.0 1172.6,801.5C1189.6,802.0 1206.5,801.6 1223.5,801.5C1240.5,801.4 1257.5,801.2 1274.6,801.0C1291.6,800.8 1317.3,800.2 1325.8,800.0" stroke="#0000ee" stroke-width="1.5" fill="none"/>
<rect x="1068.1" y="779.8" width="3.4" height="3.4" fill="#0000ee"/>
<rect x="1118.7" y="795.9" width="5.2" height="5.2" fill="#0000ee"/>
<rect x="1170.9" y="799.8" width="3.4" height="3.4" fill="#0000ee"/>
<rect x="1221.8" y="799.8" width="3.4" height="3.4" fill="#0000ee"/>
<rect x="1272.9" y="799.3" width="3.4" height="3.4" fill="#0000ee"/>
<rect x="1323.2" y="797.4" width="5.2" height="5.2" fill="#0000ee"/>
<path d="M1018.3,801.5C1026.9,801.4 1052.6,800.8 1069.8,801.0C1087.0,801.2 1104.2,802.2 1121.3,802.5C1138.4,802.8 1155.6,802.5 1172.6,802.5C1189.6,802.5 1206.5,802.5 1223.5,802.5C1240.5,802.5 1257.5,802.5 1274.6,802.5C1291.6,802.5 1317.3,802.5 1325.8,802.5" stroke="#cc1111" stroke-width="1.5" fill="none"/>
<path d="M1069.8,799.0L1071.5,802.4L1068.1,802.4Z" fill="#cc1111"/>
<path d="M1121.3,800.5L1123.0,803.9L1119.6,803.9Z" fill="#cc1111"/>
<path d="M1172.6,800.5L1174.3,803.9L1170.9,803.9Z" fill="#cc1111"/>
<path d="M1223.5,800.5L1225.2,803.9L1221.8,803.9Z" fill="#cc1111"/>
<path d="M1274.6,800.5L1276.3,803.9L1272.9,803.9Z" fill="#cc1111"/>
<path d="M1325.8,800.5L1327.5,803.9L1324.1,803.9Z" fill="#cc1111"/>
<path d="M1018.3,767.1L1019.4,770.1L1022.7,770.3L1020.1,772.3L1021.0,775.4L1018.3,773.6L1015.6,775.4L1016.5,772.3L1013.9,770.3L1017.2,770.1Z" fill="#111"/>
<path d="M1018.3,782.9L1019.4,785.9L1022.7,786.1L1020.1,788.1L1021.0,791.2L1018.3,789.4L1015.6,791.2L1016.5,788.1L1013.9,786.1L1017.2,785.9Z" fill="#111"/>
<path d="M1018.3,797.3L1019.4,800.3L1022.7,800.5L1020.1,802.5L1021.0,805.6L1018.3,803.8L1015.6,805.6L1016.5,802.5L1013.9,800.5L1017.2,800.3Z" fill="#111"/>
<path d="M972.0,493.3H1372.3V824.0H972.0Z M972.0,741.0H1372.3 M972.0,802.9H1372.3" stroke="#666" stroke-width="1.8" fill="none"/>
<text class="s" font-size="11.5" fill="#333" text-anchor="middle" transform="translate(966.5,595.5) scale(1.32,1) rotate(-90)" textLength="160" lengthAdjust="spacingAndGlyphs">Source ★  at   22.50 N  113.12 E</text>
<text class="s" font-size="11" fill="#333" text-anchor="middle" transform="translate(966.5,771.0) scale(1.32,1) rotate(-90)">Meters AGL</text>
</svg>
</body></html>
